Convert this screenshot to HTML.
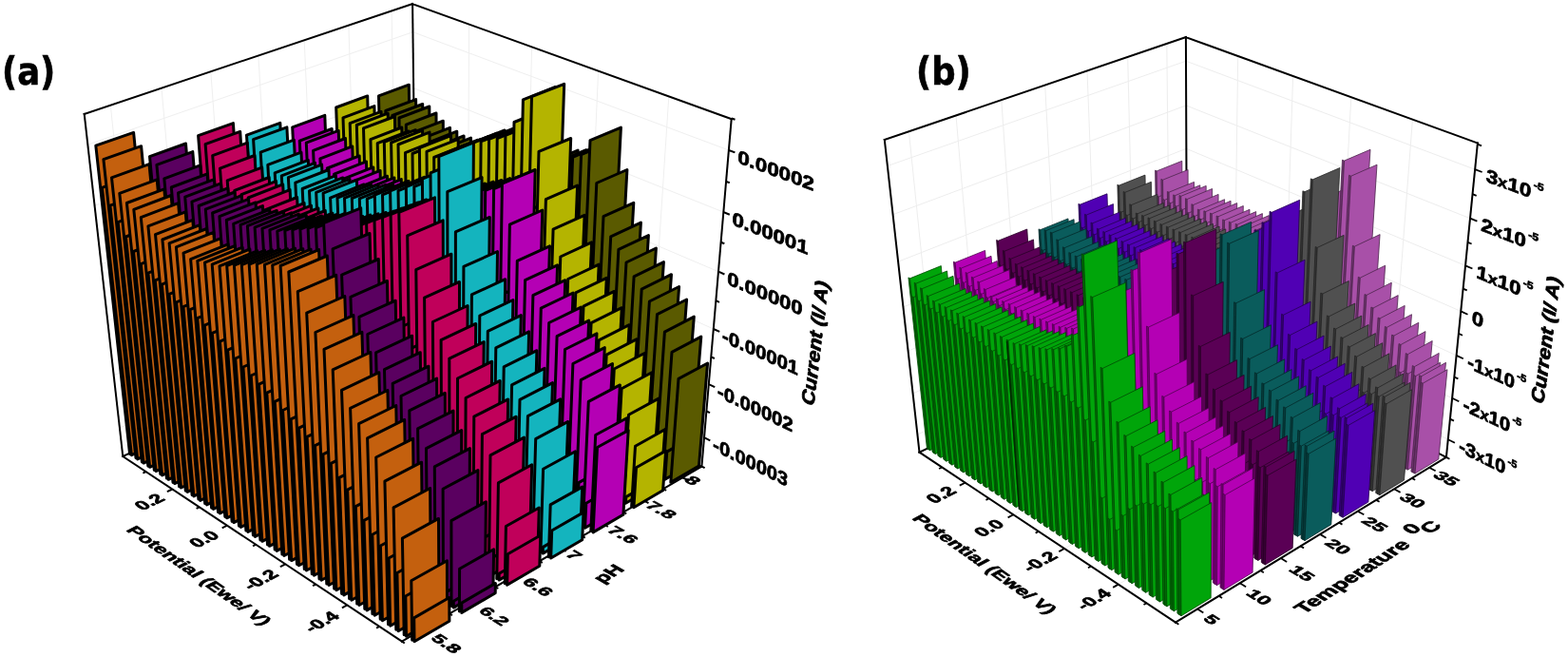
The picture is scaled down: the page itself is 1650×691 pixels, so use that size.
<!DOCTYPE html><html><head><meta charset="utf-8"><title>Figure</title>
<style>html,body{margin:0;padding:0;background:#fff}svg{display:block}text{font-family:"Liberation Sans",sans-serif;font-weight:bold}</style></head><body>
<svg width="1650" height="691" viewBox="0 0 1650 691">
<rect width="1650" height="691" fill="#fff"/>
<g stroke="#efefef" stroke-width="1" fill="none">
<line x1="126" y1="450.1" x2="437.8" y2="309.8"/>
<line x1="437.8" y1="309.8" x2="741" y2="460.2"/>
<line x1="119.7" y1="394.8" x2="437.2" y2="258.1"/>
<line x1="437.2" y1="258.1" x2="745.8" y2="404.2"/>
<line x1="113.2" y1="337.4" x2="436.5" y2="204.7"/>
<line x1="436.5" y1="204.7" x2="750.8" y2="346"/>
<line x1="106.5" y1="278" x2="435.9" y2="149.6"/>
<line x1="435.9" y1="149.6" x2="756" y2="285.7"/>
<line x1="99.5" y1="216.3" x2="435.2" y2="92.6"/>
<line x1="435.2" y1="92.6" x2="761.3" y2="223.1"/>
<line x1="92.3" y1="152.2" x2="434.5" y2="33.7"/>
<line x1="434.5" y1="33.7" x2="766.9" y2="158"/>
<line x1="491.9" y1="365.2" x2="493.6" y2="25.5"/>
<line x1="181.3" y1="514.5" x2="491.9" y2="365.2"/>
<line x1="551.4" y1="395.5" x2="559.6" y2="49.4"/>
<line x1="239" y1="552.7" x2="551.4" y2="395.5"/>
<line x1="614.1" y1="427.3" x2="629.6" y2="74.6"/>
<line x1="300.2" y1="593.3" x2="614.1" y2="427.3"/>
<line x1="680.2" y1="460.9" x2="703.8" y2="101.4"/>
<line x1="365.2" y1="636.4" x2="680.2" y2="460.9"/>
<line x1="153.7" y1="468.8" x2="116.3" y2="110.7"/>
<line x1="153.7" y1="468.8" x2="448.1" y2="659.8"/>
<line x1="201.4" y1="446.9" x2="170" y2="92.7"/>
<line x1="201.4" y1="446.9" x2="497.3" y2="631.2"/>
<line x1="247.5" y1="425.6" x2="221.8" y2="75.3"/>
<line x1="247.5" y1="425.6" x2="544.8" y2="603.5"/>
<line x1="292.2" y1="405" x2="271.9" y2="58.5"/>
<line x1="292.2" y1="405" x2="590.5" y2="576.9"/>
<line x1="335.5" y1="385.1" x2="320.2" y2="42.3"/>
<line x1="335.5" y1="385.1" x2="634.6" y2="551.1"/>
<line x1="377.5" y1="365.8" x2="366.9" y2="26.6"/>
<line x1="377.5" y1="365.8" x2="677.2" y2="526.3"/>
<line x1="418.2" y1="347" x2="412.1" y2="11.5"/>
<line x1="418.2" y1="347" x2="718.4" y2="502.3"/>
</g>
<g stroke="#000" stroke-width="2" stroke-linecap="square" fill="none">
<line x1="88.7" y1="119.9" x2="434.1" y2="4.1"/>
<line x1="434.1" y1="4.1" x2="769.7" y2="125.2"/>
<line x1="434.1" y1="4.1" x2="438.1" y2="337.8"/>
<line x1="88.7" y1="119.9" x2="129.3" y2="480"/>
<line x1="769.7" y1="125.2" x2="738.4" y2="490.6"/>
<line x1="129.3" y1="480" x2="422.9" y2="674.6"/>
<line x1="129.3" y1="480" x2="438.1" y2="337.8"/>
<line x1="438.1" y1="337.8" x2="738.4" y2="490.6"/>
<line x1="422.9" y1="674.6" x2="738.4" y2="490.6"/>
</g>
<g stroke="#000" stroke-width="2" fill="none">
<line x1="153.6" y1="496.1" x2="150.4" y2="497.6"/>
<line x1="181.3" y1="514.5" x2="175.9" y2="517.1"/>
<line x1="209.7" y1="533.3" x2="206.6" y2="534.9"/>
<line x1="239" y1="552.7" x2="233.7" y2="555.4"/>
<line x1="269.2" y1="572.7" x2="266.1" y2="574.3"/>
<line x1="300.2" y1="593.3" x2="294.9" y2="596.1"/>
<line x1="332.2" y1="614.5" x2="329.1" y2="616.2"/>
<line x1="365.2" y1="636.4" x2="359.9" y2="639.3"/>
<line x1="399.2" y1="658.9" x2="396.1" y2="660.6"/>
<line x1="741" y1="460.2" x2="747.3" y2="463.4"/>
<line x1="743.4" y1="432.5" x2="747" y2="434.2"/>
<line x1="745.8" y1="404.2" x2="752.2" y2="407.2"/>
<line x1="748.3" y1="375.4" x2="751.9" y2="377"/>
<line x1="750.8" y1="346" x2="757.2" y2="348.9"/>
<line x1="753.3" y1="316.2" x2="757" y2="317.8"/>
<line x1="756" y1="285.7" x2="762.4" y2="288.5"/>
<line x1="758.6" y1="254.7" x2="762.3" y2="256.2"/>
<line x1="761.3" y1="223.1" x2="767.8" y2="225.7"/>
<line x1="764.1" y1="190.9" x2="767.8" y2="192.3"/>
<line x1="766.9" y1="158" x2="773.4" y2="160.4"/>
<line x1="769.7" y1="124.5" x2="773.5" y2="125.8"/>
<line x1="422.9" y1="674.6" x2="425.8" y2="676.5"/>
<line x1="473" y1="645.4" x2="475.9" y2="647.2"/>
<line x1="521.3" y1="617.2" x2="524.3" y2="619"/>
<line x1="567.8" y1="590.1" x2="570.8" y2="591.8"/>
<line x1="612.7" y1="563.9" x2="615.8" y2="565.6"/>
<line x1="656.1" y1="538.6" x2="659.2" y2="540.3"/>
<line x1="698" y1="514.2" x2="701.1" y2="515.8"/>
<line x1="738.4" y1="490.6" x2="741.6" y2="492.2"/>
<line x1="448.1" y1="659.8" x2="453.2" y2="663.1"/>
<line x1="497.3" y1="631.2" x2="502.4" y2="634.3"/>
<line x1="544.8" y1="603.5" x2="549.9" y2="606.6"/>
<line x1="590.5" y1="576.9" x2="595.7" y2="579.8"/>
<line x1="634.6" y1="551.1" x2="639.8" y2="554"/>
<line x1="677.2" y1="526.3" x2="682.5" y2="529.1"/>
<line x1="718.4" y1="502.3" x2="723.7" y2="505"/>
</g>
<g fill="#5a5a00" stroke="#000" stroke-width="3.0" stroke-linejoin="round">
<path d="M404.2 354.2L433.7 340.6L430.3 89.2L398.5 100.9Z"/>
<path d="M406 355.2L435.5 341.5L433.6 192.6L402.7 205.1Z"/>
<path d="M410.8 357.6L440.3 343.9L437.6 104.6L405.8 116.5Z"/>
<path d="M412.6 358.5L442.1 344.8L440.6 207.4L409.8 220.1Z"/>
<path d="M417.4 360.9L446.9 347.2L444.7 109.5L412.9 121.5Z"/>
<path d="M419.2 361.8L448.7 348.1L447.6 212.4L416.8 225.2Z"/>
<path d="M424 364.3L453.5 350.5L451.8 112L420 124Z"/>
<path d="M425.9 365.2L455.4 351.4L454.5 215.1L423.7 228Z"/>
<path d="M430.7 367.7L460.2 353.8L459 119L427.3 131.2Z"/>
<path d="M432.5 368.6L462.1 354.7L461.5 222.2L430.7 235.1Z"/>
<path d="M437.4 371.1L466.9 357.1L466.3 127.2L434.5 139.4Z"/>
<path d="M439.3 372L468.8 358L468.5 230.2L437.8 243.3Z"/>
<path d="M444.1 374.5L473.7 360.4L473.5 134.3L441.8 146.6Z"/>
<path d="M446 375.5L475.6 361.4L475.6 237.3L444.8 250.5Z"/>
<path d="M450.9 377.9L480.5 363.8L480.8 138.2L449.1 150.7Z"/>
<path d="M452.8 378.9L482.4 364.8L482.6 241.4L451.9 254.7Z"/>
<path d="M457.8 381.4L487.4 367.2L488.1 142.9L456.4 155.4Z"/>
<path d="M459.7 382.4L489.3 368.2L489.8 246.2L459 259.6Z"/>
<path d="M464.6 384.9L494.2 370.6L495.5 145.1L463.8 157.7Z"/>
<path d="M466.6 385.9L496.2 371.6L496.9 248.7L466.2 262.1Z"/>
<path d="M471.6 388.4L501.2 374L502.9 147.2L471.2 159.9Z"/>
<path d="M473.5 389.4L503.1 375L504.1 251.1L473.4 264.6Z"/>
<path d="M478.5 391.9L508.1 377.5L510.4 149.4L478.6 162.2Z"/>
<path d="M480.5 392.9L510.1 378.5L511.4 253.6L480.6 267.1Z"/>
<path d="M485.5 395.5L515.1 381L517.9 151.6L486.2 164.4Z"/>
<path d="M487.5 396.5L517.1 381.9L518.7 256L487.9 269.7Z"/>
<path d="M492.5 399.1L522.2 384.4L525.5 153.8L493.7 166.7Z"/>
<path d="M494.5 400.1L524.2 385.4L526.1 258.5L495.2 272.3Z"/>
<path d="M499.6 402.7L529.3 388L533.1 156.1L501.3 169Z"/>
<path d="M501.6 403.7L531.3 388.9L533.5 261L502.6 274.9Z"/>
<path d="M507.1 406.4L536.7 391.6L541.1 158.5L509.3 171.5Z"/>
<path d="M509.1 407.5L538.7 392.6L541.2 263.7L510.4 277.6Z"/>
<path d="M514.5 410.2L544.2 395.4L549.2 160.8L517.4 173.9Z"/>
<path d="M516.5 411.3L546.2 396.3L549.1 266.4L518.2 280.4Z"/>
<path d="M522.1 414.1L551.7 399.1L557.4 160.5L525.5 173.6Z"/>
<path d="M524.1 415.1L553.7 400.1L557 266.5L526.1 280.5Z"/>
<path d="M529.6 417.9L559.3 402.8L565.7 160.1L533.8 173.3Z"/>
<path d="M531.7 418.9L561.3 403.8L565 266.6L534.1 280.7Z"/>
<path d="M537.3 421.8L566.9 406.6L574 159.7L542.1 172.9Z"/>
<path d="M539.3 422.8L569 407.6L573.1 266.6L542.2 280.8Z"/>
<path d="M544.9 425.7L574.6 410.4L582.4 159.3L550.5 172.6Z"/>
<path d="M547 426.7L576.7 411.4L581.3 266.7L550.3 280.9Z"/>
<path d="M552.7 429.6L582.3 414.2L590.9 158.9L558.9 172.3Z"/>
<path d="M554.7 430.6L584.4 415.3L589.5 266.8L558.5 281.1Z"/>
<path d="M560.4 433.5L590.1 418.1L599.5 158.5L567.4 171.9Z"/>
<path d="M562.5 434.6L592.2 419.1L597.8 266.9L566.7 281.2Z"/>
<path d="M568.2 437.5L597.9 422L608.1 158.1L576.1 171.6Z"/>
<path d="M570.3 438.6L600 423L606.2 267L575.1 281.4Z"/>
<path d="M576.1 441.5L605.8 425.9L616.9 157.7L584.8 171.2Z"/>
<path d="M578.2 442.6L607.9 426.9L614.6 267L583.5 281.5Z"/>
<path d="M584 445.5L613.7 429.8L625.8 154.8L593.6 168.3Z"/>
<path d="M586.2 446.6L615.9 430.8L623.3 264.8L592.1 279.3Z"/>
<path d="M592 449.6L621.7 433.7L634.8 151.8L602.6 165.4Z"/>
<path d="M594.1 450.6L623.8 434.8L632 262.5L600.7 277.1Z"/>
<path d="M600 453.6L629.7 437.7L643.9 148.8L611.6 162.5Z"/>
<path d="M602.2 454.7L631.9 438.8L640.8 260.2L609.5 274.8Z"/>
<path d="M607.9 457.6L637.5 441.6L653.4 134.1L621 147.6Z"/>
<path d="M610 458.7L639.7 442.7L650 246.8L618.5 261.4Z"/>
<path d="M615.7 461.6L645.4 445.5L659.9 178.5L627.8 192.5Z"/>
<path d="M617.9 462.7L647.6 446.6L656.3 288.9L625.2 303.9Z"/>
<path d="M623.7 465.6L653.4 449.4L666.8 213.3L635 227.7Z"/>
<path d="M625.9 466.7L655.6 450.5L663 322L632.1 337.3Z"/>
<path d="M631.6 469.7L661.3 453.4L674.4 234.1L642.7 248.8Z"/>
<path d="M633.9 470.8L663.5 454.5L670.3 342L639.6 357.5Z"/>
<path d="M639.7 473.8L669.4 457.3L682.4 247.6L650.9 262.4Z"/>
<path d="M641.9 474.9L671.6 458.4L678.1 355.1L647.5 370.8Z"/>
<path d="M647.8 477.9L677.4 461.3L690.4 261L659 276Z"/>
<path d="M650 479L679.7 462.5L685.9 368.1L655.4 384Z"/>
<path d="M655.9 482L685.6 465.4L698.4 275.6L667.1 290.8Z"/>
<path d="M658.2 483.1L687.8 466.5L693.6 382.2L663.2 398.3Z"/>
<path d="M664.1 486.1L693.8 469.4L706.5 288.7L675.2 304.1Z"/>
<path d="M666.4 487.3L696 470.5L701.4 395L671.1 411.2Z"/>
<path d="M672.3 490.3L702 473.5L714.6 301.5L683.4 317Z"/>
<path d="M674.6 491.5L704.3 474.6L709.2 407.4L679 423.8Z"/>
<path d="M680.6 494.5L710.3 477.6L722.6 315L691.5 330.7Z"/>
<path d="M682.9 495.7L712.6 478.7L717 420.5L686.9 437.1Z"/>
<path d="M689 498.8L718.6 481.7L730.3 333.1L699.4 349.1Z"/>
<path d="M691.3 500L720.9 482.9L724.5 438L694.5 454.7Z"/>
<path d="M697.4 503L727 485.9L737.8 354.1L707 370.3Z"/>
<path d="M699.7 504.2L729.3 487L731.7 458.1L701.8 475.1Z"/>
<path d="M705.8 507.3L735.5 490.1L744.6 382L714 398.4Z"/>
</g>
<g fill="#b4b400" stroke="#000" stroke-width="3.0" stroke-linejoin="round">
<path d="M363 373.2L393.4 359.2L386.7 100.9L353.7 113Z"/>
<path d="M364.8 374.2L395.2 360.1L391.3 205.7L359.3 218.6Z"/>
<path d="M369.5 376.7L400 362.6L393.9 111.6L361 123.8Z"/>
<path d="M371.4 377.6L401.8 363.5L398.3 216.1L366.4 229.2Z"/>
<path d="M376.1 380.1L406.5 366L401.1 117.4L368.2 129.6Z"/>
<path d="M378 381.1L408.4 366.9L405.3 221.9L373.4 235.1Z"/>
<path d="M382.7 383.6L413.2 369.4L408.2 119.2L375.3 131.5Z"/>
<path d="M384.6 384.6L415 370.3L412.2 224L380.3 237.3Z"/>
<path d="M389.4 387.2L419.9 372.8L415.4 122.5L382.5 134.9Z"/>
<path d="M391.3 388.1L421.7 373.8L419.2 227.5L387.3 240.8Z"/>
<path d="M396.1 390.7L426.6 376.3L422.8 134L389.9 146.6Z"/>
<path d="M398 391.7L428.5 377.3L426.4 238.8L394.5 252.2Z"/>
<path d="M402.8 394.3L433.3 379.8L430 138L397.2 150.7Z"/>
<path d="M404.7 395.3L435.2 380.7L433.4 243L401.6 256.5Z"/>
<path d="M409.6 397.8L440.1 383.3L437.3 136.7L404.3 149.4Z"/>
<path d="M411.5 398.8L442 384.2L440.5 242.2L408.6 255.8Z"/>
<path d="M416.4 401.4L447 386.8L444.6 137.2L411.6 150Z"/>
<path d="M418.3 402.4L448.9 387.8L447.6 243.1L415.6 256.7Z"/>
<path d="M423.3 405.1L453.8 390.3L452 139.1L419 152Z"/>
<path d="M425.2 406.1L455.7 391.3L454.8 245.3L422.8 259Z"/>
<path d="M430.2 408.7L460.7 393.9L459.5 147.6L426.5 160.6Z"/>
<path d="M432.1 409.7L462.7 394.9L462.1 253.7L430.1 267.5Z"/>
<path d="M437.1 412.4L467.7 397.5L467 148.5L434 161.5Z"/>
<path d="M439.1 413.4L469.6 398.5L469.3 254.9L437.4 268.8Z"/>
<path d="M444.1 416.1L474.7 401.1L474.5 142.5L441.4 155.5Z"/>
<path d="M446.1 417.1L476.7 402.1L476.7 249.7L444.6 263.6Z"/>
<path d="M451.2 419.8L481.7 404.7L482.2 146.3L449 159.4Z"/>
<path d="M453.1 420.8L483.7 405.7L484 253.7L452 267.7Z"/>
<path d="M458.2 423.5L488.8 408.3L489.8 152.3L456.7 165.5Z"/>
<path d="M460.2 424.6L490.8 409.4L491.5 259.8L459.4 273.9Z"/>
<path d="M465.7 427.4L496.3 412.2L497.9 149.3L464.7 162.6Z"/>
<path d="M467.6 428.5L498.2 413.2L499.3 257.5L467.2 271.6Z"/>
<path d="M473.1 431.4L503.7 416L506.1 146.3L472.8 159.6Z"/>
<path d="M475.1 432.4L505.7 417L507.2 255.1L475.1 269.3Z"/>
<path d="M480.6 435.4L511.3 419.9L514.3 143.3L481 156.6Z"/>
<path d="M482.7 436.4L513.3 420.9L515.3 252.7L483 266.9Z"/>
<path d="M488.2 439.4L518.8 423.8L522.7 140.2L489.3 153.5Z"/>
<path d="M490.2 440.4L520.9 424.8L523.3 250.3L491 264.6Z"/>
<path d="M495.8 443.4L526.5 427.7L531.1 137L497.6 150.4Z"/>
<path d="M497.9 444.5L528.5 428.8L531.5 247.8L499.1 262.1Z"/>
<path d="M503.5 447.4L534.1 431.7L539.6 135.4L506.1 148.8Z"/>
<path d="M505.6 448.5L536.2 432.7L539.8 246.8L507.3 261.1Z"/>
<path d="M511.2 451.5L541.9 435.7L548.2 133L514.6 146.4Z"/>
<path d="M513.3 452.6L543.9 436.7L548.1 245L515.6 259.4Z"/>
<path d="M519 455.6L549.6 439.7L556.9 132.1L523.2 145.6Z"/>
<path d="M521.1 456.7L551.7 440.7L556.5 244.6L523.9 259.1Z"/>
<path d="M526.8 459.7L557.5 443.7L565.7 128.9L531.9 142.4Z"/>
<path d="M528.9 460.8L559.6 444.8L565 242.1L532.3 256.6Z"/>
<path d="M534.7 463.9L565.3 447.7L574.8 115L541 128.5Z"/>
<path d="M536.8 465L567.5 448.8L573.9 229.7L541.1 244.2Z"/>
<path d="M542.6 468.1L573.3 451.8L584.5 91.4L550.4 104.8Z"/>
<path d="M544.7 469.2L575.4 452.9L583.2 208.1L550.2 222.5Z"/>
<path d="M550.6 472.3L581.2 455.9L593.7 88.3L559.5 101.6Z"/>
<path d="M552.7 473.4L583.4 457L592.1 205.7L559 220.1Z"/>
<path d="M558.6 476.5L589.3 460.1L600.7 145.5L567 159.4Z"/>
<path d="M560.7 477.7L591.4 461.2L598.9 259.7L566.3 274.6Z"/>
<path d="M566.4 480.7L597.1 464.1L607.6 195.1L574.4 209.6Z"/>
<path d="M568.6 481.8L599.3 465.2L605.6 306.6L573.4 322Z"/>
<path d="M574.3 484.8L605 468.2L615.1 226.3L582.1 241.1Z"/>
<path d="M576.5 486L607.2 469.3L612.8 336.2L580.9 352Z"/>
<path d="M582.3 489L612.9 472.3L622.6 254.8L589.8 270Z"/>
<path d="M584.4 490.2L615.1 473.4L620.1 363.5L588.3 379.5Z"/>
<path d="M590.2 493.2L620.9 476.4L630.2 278.1L597.7 293.5Z"/>
<path d="M592.5 494.4L623.1 477.5L627.5 385.7L596 402Z"/>
<path d="M598.3 497.5L629 480.5L638.3 292.3L605.8 307.8Z"/>
<path d="M600.5 498.7L631.2 481.7L635.3 399.5L603.9 415.9Z"/>
<path d="M606.4 501.8L637.1 484.7L646.4 306.4L614 322.2Z"/>
<path d="M608.6 503L639.3 485.8L643.2 413.2L611.8 429.8Z"/>
<path d="M614.5 506.1L645.2 488.9L654.3 323.7L622.1 339.7Z"/>
<path d="M616.8 507.3L647.5 490L650.8 429.9L619.6 446.7Z"/>
<path d="M622.7 510.4L653.4 493.1L662.2 341.7L630.1 357.9Z"/>
<path d="M625 511.6L655.7 494.3L658.4 447.2L627.3 464.2Z"/>
<path d="M631 514.8L661.7 497.3L670.2 356.7L638.2 373.1Z"/>
<path d="M633.3 516L664 498.5L666.2 461.8L635.2 479Z"/>
<path d="M639.3 519.2L670 501.6L678.2 371.5L646.3 388Z"/>
<path d="M641.6 520.4L672.3 502.8L674 476L643.1 493.4Z"/>
<path d="M647.7 523.6L678.4 505.9L685.9 391.8L654.1 408.7Z"/>
<path d="M650 524.8L680.7 507.1L681.4 495.6L650.6 513.2Z"/>
<path d="M656.1 528L686.8 510.3L693.1 419.1L661.5 436.3Z"/>
<path d="M658.4 529.3L689.1 511.5L689.6 504.9L658.8 522.6Z"/>
<path d="M664.6 532.5L695.2 514.6L699.8 451.7L668.5 469.2Z"/>
<path d="M666.9 533.8L697.6 515.8L700.6 474.1L669.5 491.7Z"/>
</g>
<g fill="#b400b4" stroke="#000" stroke-width="3.0" stroke-linejoin="round">
<path d="M320.5 392.8L351.9 378.3L341.8 121.3L307.7 133.8Z"/>
<path d="M322.3 393.8L353.7 379.3L347.8 227L314.8 240.4Z"/>
<path d="M327 396.4L358.4 381.8L349.2 135.5L315.3 148.1Z"/>
<path d="M328.9 397.4L360.2 382.8L355 240.7L322.2 254.2Z"/>
<path d="M333.6 400L365 385.4L356.2 137.4L322.3 150.1Z"/>
<path d="M335.4 401L366.8 386.4L361.8 243L329 256.5Z"/>
<path d="M340.2 403.6L371.6 388.9L363.5 145.5L329.6 158.3Z"/>
<path d="M342 404.6L373.4 389.9L368.9 251L336.1 264.7Z"/>
<path d="M346.8 407.3L378.2 392.5L370.8 153.9L336.9 166.9Z"/>
<path d="M348.7 408.3L380.1 393.5L376 259.3L343.2 273.2Z"/>
<path d="M353.5 410.9L384.9 396.1L378.2 163.9L344.3 177Z"/>
<path d="M355.4 412L386.8 397.1L383.2 269.1L350.4 283.1Z"/>
<path d="M360.2 414.6L391.7 399.7L385.5 169.9L351.6 183.1Z"/>
<path d="M362.1 415.7L393.6 400.7L390.3 275.1L357.5 289.2Z"/>
<path d="M367 418.4L398.5 403.3L392.8 175.9L359 189.2Z"/>
<path d="M368.9 419.4L400.3 404.3L397.4 281.2L364.6 295.4Z"/>
<path d="M373.8 422.1L405.3 407L400.1 179.4L366.3 192.8Z"/>
<path d="M375.7 423.1L407.2 408L404.5 285L371.7 299.3Z"/>
<path d="M380.6 425.9L412.1 410.7L407.5 185.2L373.7 198.7Z"/>
<path d="M382.5 426.9L414 411.7L411.6 290.8L378.9 305.2Z"/>
<path d="M387.5 429.7L419 414.3L414.9 186.9L381 200.5Z"/>
<path d="M389.4 430.7L421 415.4L418.8 292.9L386 307.3Z"/>
<path d="M394.4 433.5L426 418.1L422.3 188.6L388.4 202.3Z"/>
<path d="M396.4 434.5L427.9 419.1L426 294.9L393.2 309.5Z"/>
<path d="M401.4 437.3L433 421.8L429.7 190.4L395.8 204.1Z"/>
<path d="M403.3 438.4L434.9 422.9L433.2 297L400.4 311.6Z"/>
<path d="M408.4 441.2L440 425.6L437.3 192.2L403.3 206Z"/>
<path d="M410.4 442.2L441.9 426.6L440.5 299.1L407.6 313.8Z"/>
<path d="M415.5 445.1L447.1 429.4L444.8 194L410.8 207.8Z"/>
<path d="M417.4 446.1L449 430.4L447.9 301.3L415 316Z"/>
<path d="M422.9 449.1L454.5 433.4L452.8 195.9L418.7 209.8Z"/>
<path d="M424.9 450.2L456.5 434.4L455.6 303.6L422.7 318.4Z"/>
<path d="M430.3 453.2L462 437.4L460.8 197.9L426.7 211.9Z"/>
<path d="M432.3 454.3L464 438.4L463.4 305.9L430.4 320.8Z"/>
<path d="M437.9 457.4L469.5 441.4L468.9 197L434.8 211.1Z"/>
<path d="M439.9 458.5L471.5 442.5L471.3 305.6L438.2 320.6Z"/>
<path d="M445.4 461.5L477 445.4L477.1 196.2L442.9 210.4Z"/>
<path d="M447.4 462.6L479.1 446.5L479.2 305.3L446.1 320.4Z"/>
<path d="M453 465.7L484.7 449.5L485.3 195.4L451.1 209.6Z"/>
<path d="M455 466.8L486.7 450.6L487.2 305L454 320.1Z"/>
<path d="M460.7 469.9L492.3 453.6L493.7 194.6L459.3 208.8Z"/>
<path d="M462.7 471.1L494.4 454.7L495.2 304.7L462 319.9Z"/>
<path d="M468.4 474.2L500.1 457.8L502.1 193.7L467.7 208.1Z"/>
<path d="M470.4 475.3L502.1 458.9L503.4 304.4L470.1 319.7Z"/>
<path d="M476.1 478.4L507.8 461.9L510.5 192.9L476.1 207.3Z"/>
<path d="M478.2 479.6L509.9 463.1L511.6 304.1L478.3 319.5Z"/>
<path d="M483.9 482.7L515.6 466.1L519.1 191.1L484.6 205.6Z"/>
<path d="M486 483.9L517.7 467.3L519.9 303L486.5 318.4Z"/>
<path d="M491.8 487.1L523.5 470.4L527.8 189.4L493.2 203.9Z"/>
<path d="M493.9 488.2L525.6 471.5L528.3 301.8L494.9 317.3Z"/>
<path d="M499.7 491.4L531.4 474.6L536.6 187.6L501.9 202.1Z"/>
<path d="M501.8 492.6L533.6 475.7L536.8 300.7L503.3 316.2Z"/>
<path d="M507.7 495.8L539.4 478.9L545.4 185.8L510.7 200.4Z"/>
<path d="M509.8 497L541.6 480L545.4 299.5L511.8 315.1Z"/>
<path d="M515.7 500.2L547.5 483.2L554.4 184L519.6 198.6Z"/>
<path d="M517.9 501.4L549.6 484.3L554 298.3L520.4 314Z"/>
<path d="M523.6 504.5L555.3 487.4L563.2 178.5L528.4 193.1Z"/>
<path d="M525.7 505.7L557.5 488.6L562.6 293.7L528.9 309.4Z"/>
<path d="M531.4 508.9L563.2 491.6L570.8 221L536.4 236.2Z"/>
<path d="M533.6 510.1L565.4 492.8L570 334L536.6 350.1Z"/>
<path d="M539.4 513.2L571.1 495.9L578.5 258.8L544.3 274.3Z"/>
<path d="M541.6 514.5L573.3 497.1L577.4 369.8L544.3 386.3Z"/>
<path d="M547.4 517.6L579.1 500.2L586.6 278.8L552.6 294.6Z"/>
<path d="M549.6 518.9L581.3 501.4L585.2 389.1L552.3 405.8Z"/>
<path d="M555.4 522.1L587.2 504.5L594.8 294.7L560.9 310.7Z"/>
<path d="M557.6 523.3L589.4 505.7L593.2 404.4L560.4 421.3Z"/>
<path d="M563.5 526.5L595.3 508.8L603.1 308L569.3 324.1Z"/>
<path d="M565.8 527.8L597.5 510L601.2 417.3L568.5 434.4Z"/>
<path d="M571.7 531L603.5 513.2L611.4 323.1L577.7 339.5Z"/>
<path d="M573.9 532.3L605.7 514.4L609.2 431.9L576.6 449.2Z"/>
<path d="M579.9 535.5L611.7 517.6L619.7 337.1L586.1 353.7Z"/>
<path d="M582.1 536.8L613.9 518.8L617.2 445.5L584.7 463Z"/>
<path d="M588.2 540.1L619.9 522L628 350.8L594.5 367.5Z"/>
<path d="M590.4 541.3L622.2 523.3L625.3 458.8L592.9 476.5Z"/>
<path d="M596.5 544.7L628.3 526.5L636.3 365.6L602.9 382.5Z"/>
<path d="M598.8 545.9L630.5 527.7L633.3 473.1L601 491Z"/>
<path d="M604.9 549.3L636.6 531L644.5 382.5L611.2 399.7Z"/>
<path d="M607.2 550.6L638.9 532.2L641.2 489.5L609 507.6Z"/>
<path d="M613.3 553.9L645.1 535.5L652.4 404.9L619.3 422.4Z"/>
<path d="M615.6 555.2L647.4 536.8L648.9 511L616.8 529.2Z"/>
<path d="M621.8 558.6L653.6 540.1L659.5 439.7L626.7 457.5Z"/>
<path d="M624.1 559.9L655.9 541.3L661.2 452.6L628.5 470.5Z"/>
</g>
<g fill="#14b4be" stroke="#000" stroke-width="3.0" stroke-linejoin="round">
<path d="M276.7 413L309 398.1L294.8 129.3L259.5 142.1Z"/>
<path d="M278.5 414L310.8 399.1L302.3 236.7L268.2 250.4Z"/>
<path d="M283.2 416.7L315.5 401.7L301.9 133.8L266.6 146.7Z"/>
<path d="M285 417.7L317.4 402.7L309.2 241.4L275.1 255.2Z"/>
<path d="M289.7 420.5L322.1 405.4L309.4 147.2L274.2 160.2Z"/>
<path d="M291.5 421.5L323.9 406.4L316.5 254.4L282.5 268.4Z"/>
<path d="M296.3 424.2L328.7 409.1L317 160.2L281.8 173.4Z"/>
<path d="M298.1 425.3L330.5 410.1L323.9 267L289.9 281.2Z"/>
<path d="M302.9 428L335.3 412.8L324.3 168.4L289.2 181.8Z"/>
<path d="M304.7 429.1L337.2 413.8L331 275.2L297.1 289.5Z"/>
<path d="M309.6 431.8L342 416.5L331.5 171.3L296.3 184.8Z"/>
<path d="M311.4 432.9L343.8 417.5L338 278.4L304 292.7Z"/>
<path d="M316.2 435.7L348.7 420.2L338.6 173.1L303.4 186.6Z"/>
<path d="M318.1 436.7L350.6 421.3L344.9 280.5L310.9 294.9Z"/>
<path d="M323 439.5L355.5 424L346 178.5L310.8 192.2Z"/>
<path d="M324.8 440.6L357.3 425.1L352 286L318 300.6Z"/>
<path d="M329.7 443.4L362.3 427.8L353.4 184.7L318.2 198.5Z"/>
<path d="M331.6 444.5L364.1 428.9L359.2 292.3L325.2 307Z"/>
<path d="M336.6 447.4L369.1 431.6L360.7 186.9L325.5 200.8Z"/>
<path d="M338.5 448.4L371 432.7L366.3 294.8L332.3 309.6Z"/>
<path d="M343.4 451.3L376 435.5L368 188.4L332.7 202.3Z"/>
<path d="M345.3 452.4L377.9 436.6L373.5 296.7L339.4 311.5Z"/>
<path d="M350.3 455.3L382.9 439.4L375.4 189.2L340.1 203.1Z"/>
<path d="M352.2 456.4L384.8 440.4L380.6 297.8L346.5 312.7Z"/>
<path d="M357.3 459.2L389.9 443.2L382.9 194L347.6 208.1Z"/>
<path d="M359.2 460.4L391.8 444.3L387.9 302.8L353.8 317.8Z"/>
<path d="M364.3 463.3L396.9 447.2L390.4 194L355 208.2Z"/>
<path d="M366.2 464.4L398.8 448.2L395.2 303.3L361 318.4Z"/>
<path d="M371.3 467.3L403.9 451.1L397.9 194.1L362.5 208.3Z"/>
<path d="M373.3 468.4L405.9 452.2L402.5 303.8L368.3 319Z"/>
<path d="M378.7 471.5L411.3 455.2L405.8 194.3L370.3 208.5Z"/>
<path d="M380.7 472.7L413.3 456.3L410.2 304.5L375.9 319.7Z"/>
<path d="M386.1 475.8L418.8 459.4L413.8 194.5L378.3 208.8Z"/>
<path d="M388.1 477L420.8 460.5L418 305.2L383.6 320.5Z"/>
<path d="M393.6 480.1L426.3 463.6L421.9 194.6L386.3 209.1Z"/>
<path d="M395.6 481.3L428.3 464.7L425.8 305.8L391.4 321.2Z"/>
<path d="M401.2 484.4L433.9 467.8L430 190.6L394.3 205.1Z"/>
<path d="M403.2 485.6L435.9 468.9L433.7 302.6L399.2 318Z"/>
<path d="M408.7 488.8L441.5 472.1L438.2 190.4L402.5 204.9Z"/>
<path d="M410.8 490L443.5 473.2L441.7 302.9L407.1 318.4Z"/>
<path d="M416.4 493.2L449.1 476.4L446.5 186.3L410.6 200.9Z"/>
<path d="M418.4 494.4L451.2 477.5L449.7 299.6L415 315.1Z"/>
<path d="M424.1 497.6L456.8 480.7L454.9 186.1L419 200.7Z"/>
<path d="M426.1 498.8L458.9 481.8L457.8 299.9L423.1 315.5Z"/>
<path d="M431.8 502.1L464.6 485L463.4 181.9L427.3 196.6Z"/>
<path d="M433.9 503.2L466.7 486.1L466 296.6L431.2 312.2Z"/>
<path d="M439.6 506.5L472.4 489.4L472 181.7L435.8 196.4Z"/>
<path d="M441.7 507.7L474.5 490.5L474.3 296.8L439.5 312.6Z"/>
<path d="M447.5 511L480.3 493.8L480.6 173.5L444.4 188.2Z"/>
<path d="M449.6 512.2L482.4 494.9L482.7 289.7L447.7 305.5Z"/>
<path d="M455.4 515.6L488.2 498.2L489.4 167.2L453 181.9Z"/>
<path d="M457.5 516.8L490.3 499.4L491.3 284.4L456.1 300.2Z"/>
<path d="M463.3 520.2L496.2 502.6L498.4 149.8L461.8 164.5Z"/>
<path d="M465.4 521.4L498.3 503.8L499.9 268.8L464.6 284.5Z"/>
<path d="M471.3 524.8L504.2 507.1L507.1 186.6L470.8 201.7Z"/>
<path d="M473.5 526L506.3 508.3L508.3 303.6L473.3 319.8Z"/>
<path d="M479.2 529.3L512 511.5L515.3 228.4L479.4 243.9Z"/>
<path d="M481.3 530.5L514.2 512.7L516.3 343.1L481.6 359.7Z"/>
<path d="M487 533.8L519.9 515.9L523.5 264.5L487.9 280.4Z"/>
<path d="M489.2 535L522.1 517.1L524.2 377.4L489.8 394.2Z"/>
<path d="M495 538.3L527.9 520.4L531.7 293.7L496.4 309.9Z"/>
<path d="M497.2 539.6L530 521.6L532.1 405.2L498 422.3Z"/>
<path d="M503 542.9L535.9 524.8L539.9 315.5L504.8 332Z"/>
<path d="M505.2 544.2L538.1 526L540.1 426.1L506.1 443.5Z"/>
<path d="M511 547.5L543.9 529.3L548.3 331.6L513.3 348.3Z"/>
<path d="M513.2 548.8L546.1 530.6L548.2 441.6L514.3 459.3Z"/>
<path d="M519.1 552.2L552 533.8L556.6 348.8L521.8 365.8Z"/>
<path d="M521.3 553.5L554.2 535.1L556.2 458.2L522.5 476.1Z"/>
<path d="M527.3 556.9L560.2 538.4L564.9 368.7L530.2 385.9Z"/>
<path d="M529.5 558.2L562.4 539.7L564.2 477.3L530.6 495.3Z"/>
<path d="M535.5 561.6L568.4 543L573.1 387.3L538.6 404.8Z"/>
<path d="M537.7 562.9L570.7 544.3L572.2 495.2L538.7 513.5Z"/>
<path d="M543.7 566.3L576.7 547.6L581.5 402.6L547 420.3Z"/>
<path d="M546 567.6L578.9 548.9L580.3 510.1L546.9 528.5Z"/>
<path d="M552.1 571.1L585 552.3L589.8 419.8L555.4 437.7Z"/>
<path d="M554.4 572.4L587.3 553.6L588.3 526.6L555.1 545.3Z"/>
<path d="M560.5 575.9L593.4 557L597.8 443.4L563.7 461.6Z"/>
<path d="M562.8 577.3L595.7 558.3L596.1 549.2L563 568.1Z"/>
<path d="M568.9 580.8L601.8 561.7L605.5 474.8L571.6 493.3Z"/>
<path d="M571.2 582.1L604.2 563L604.4 556.3L571.4 575.4Z"/>
<path d="M577.4 585.7L610.3 566.4L612.8 512.1L579.2 530.9Z"/>
<path d="M579.7 587L612.7 567.8L614 538.9L580.7 558Z"/>
</g>
<g fill="#c0005a" stroke="#000" stroke-width="3.0" stroke-linejoin="round">
<path d="M231.5 433.8L264.9 418.4L245.4 129.6L208.6 142.7Z"/>
<path d="M233.3 434.9L266.7 419.5L254.6 239.4L219.1 253.4Z"/>
<path d="M238 437.7L271.3 422.2L252.7 138.4L216.1 151.7Z"/>
<path d="M239.7 438.8L273.1 423.3L261.8 248.1L226.3 262.3Z"/>
<path d="M244.4 441.6L277.9 426L260.3 150.2L223.7 163.6Z"/>
<path d="M246.2 442.7L279.7 427.1L269.1 259.6L233.8 273.9Z"/>
<path d="M251 445.5L284.4 429.8L268 163.5L231.5 177.1Z"/>
<path d="M252.8 446.6L286.2 430.9L276.6 272.5L241.3 287Z"/>
<path d="M257.6 449.4L291 433.7L275.7 176.1L239.2 189.8Z"/>
<path d="M259.4 450.5L292.9 434.8L284 284.8L248.8 299.4Z"/>
<path d="M264.2 453.4L297.7 437.6L283.2 186.5L246.8 200.4Z"/>
<path d="M266 454.5L299.5 438.6L291.3 295L256.2 309.8Z"/>
<path d="M270.8 457.4L304.3 441.5L290.5 190.6L254 204.6Z"/>
<path d="M272.7 458.5L306.2 442.5L298.4 299.3L263.2 314.2Z"/>
<path d="M277.5 461.4L311.1 445.4L297.7 193.9L261.2 208Z"/>
<path d="M279.4 462.5L312.9 446.5L305.4 302.9L270.2 317.9Z"/>
<path d="M284.3 465.5L317.8 449.3L305.1 199.6L268.6 213.8Z"/>
<path d="M286.1 466.6L319.7 450.4L312.6 308.7L277.3 323.8Z"/>
<path d="M291 469.5L324.7 453.3L312.6 207.5L276.2 221.8Z"/>
<path d="M292.9 470.7L326.5 454.4L319.9 316.5L284.7 331.8Z"/>
<path d="M297.9 473.6L331.5 457.3L320.1 213.6L283.6 228Z"/>
<path d="M299.8 474.8L333.4 458.4L327.1 322.7L291.9 338.1Z"/>
<path d="M304.7 477.8L338.4 461.3L327.5 216.2L291 230.8Z"/>
<path d="M306.7 478.9L340.3 462.4L334.3 325.7L299 341.1Z"/>
<path d="M311.7 481.9L345.3 465.4L334.9 218.9L298.3 233.5Z"/>
<path d="M313.6 483.1L347.3 466.5L341.5 328.6L306.2 344.2Z"/>
<path d="M318.6 486.1L352.3 469.5L342.3 221.5L305.8 236.3Z"/>
<path d="M320.6 487.3L354.3 470.6L348.8 331.6L313.4 347.3Z"/>
<path d="M325.6 490.3L359.4 473.6L349.9 224.2L313.3 239.1Z"/>
<path d="M327.6 491.5L361.3 474.7L356.1 334.6L320.7 350.4Z"/>
<path d="M333 494.7L366.7 477.9L357.8 227.1L321.1 242Z"/>
<path d="M334.9 495.9L368.7 479L363.8 337.8L328.4 353.7Z"/>
<path d="M340.4 499.2L374.2 482.2L365.8 230L329.1 245Z"/>
<path d="M342.4 500.4L376.1 483.4L371.5 341L336.1 357Z"/>
<path d="M347.9 503.6L381.7 486.6L373.7 228.7L336.9 243.8Z"/>
<path d="M349.8 504.8L383.6 487.7L379.2 340.3L343.7 356.4Z"/>
<path d="M355.4 508.2L389.2 491L381.7 227.4L344.8 242.6Z"/>
<path d="M357.4 509.4L391.2 492.1L386.9 339.7L351.4 355.8Z"/>
<path d="M362.9 512.7L396.8 495.4L389.7 226.1L352.8 241.3Z"/>
<path d="M364.9 513.9L398.8 496.6L394.8 339L359.1 355.2Z"/>
<path d="M370.5 517.3L404.4 499.8L397.9 224.8L360.9 240.1Z"/>
<path d="M372.6 518.5L406.4 501L402.7 338.3L367 354.5Z"/>
<path d="M378.2 521.9L412.1 504.3L406.2 223.5L369 238.8Z"/>
<path d="M380.3 523.1L414.1 505.5L410.7 337.6L374.9 353.9Z"/>
<path d="M385.9 526.5L419.8 508.8L414.5 222.1L377.3 237.5Z"/>
<path d="M388 527.7L421.9 510L418.8 336.9L382.9 353.3Z"/>
<path d="M393.7 531.2L427.6 513.4L422.9 219.1L385.6 234.6Z"/>
<path d="M395.8 532.4L429.7 514.6L426.9 334.6L390.9 351.1Z"/>
<path d="M401.5 535.9L435.5 518L431.4 216.1L394 231.6Z"/>
<path d="M403.6 537.1L437.6 519.2L435.2 332.3L399.1 348.9Z"/>
<path d="M409.4 540.6L443.4 522.6L440 213L402.5 228.6Z"/>
<path d="M411.5 541.9L445.5 523.8L443.5 330L407.3 346.6Z"/>
<path d="M417.4 545.4L451.4 527.2L448.7 209.9L411.1 225.5Z"/>
<path d="M419.5 546.6L453.5 528.5L451.9 327.7L415.6 344.4Z"/>
<path d="M425.4 550.2L459.4 531.9L457.5 207.8L419.8 223.4Z"/>
<path d="M427.5 551.4L461.5 533.1L460.5 326.3L424.1 343Z"/>
<path d="M433.2 554.9L467.2 536.5L466.2 231.8L428.7 247.8Z"/>
<path d="M435.3 556.1L469.3 537.7L468.9 349.2L432.7 366.3Z"/>
<path d="M441 559.6L475.1 541.1L474.9 267.2L437.8 283.6Z"/>
<path d="M443.2 560.9L477.2 542.3L477.3 382.8L441.4 400.2Z"/>
<path d="M449 564.3L483 545.7L483.5 296.4L446.6 313.1Z"/>
<path d="M451.1 565.6L485.2 547L485.6 410.6L450 428.3Z"/>
<path d="M456.9 569.1L491 550.4L492.1 321.5L455.4 338.5Z"/>
<path d="M459.1 570.4L493.2 551.6L493.8 434.5L458.4 452.5Z"/>
<path d="M465 573.9L499.1 555.1L500.7 340.4L464.1 357.6Z"/>
<path d="M467.2 575.3L501.3 556.3L502.1 452.6L466.8 470.8Z"/>
<path d="M473.1 578.8L507.2 559.8L509.2 359.6L472.8 377.1Z"/>
<path d="M475.3 580.1L509.4 561.1L510.4 471.1L475.2 489.5Z"/>
<path d="M481.2 583.7L515.3 564.5L517.7 380.2L481.5 398Z"/>
<path d="M483.4 585L517.6 565.8L518.6 490.9L483.6 509.6Z"/>
<path d="M489.4 588.6L523.5 569.3L526.2 400.4L490.1 418.5Z"/>
<path d="M491.7 590L525.8 570.6L526.8 510.3L492 529.2Z"/>
<path d="M497.7 593.6L531.8 574.2L534.7 419.9L498.8 438.2Z"/>
<path d="M499.9 594.9L534.1 575.5L535 529L500.3 548.1Z"/>
<path d="M506 598.6L540.1 579L543.2 438.2L507.4 456.7Z"/>
<path d="M508.3 599.9L542.4 580.4L543.2 546.6L508.6 565.9Z"/>
<path d="M514.4 603.6L548.5 583.9L551.5 460.1L516 478.9Z"/>
<path d="M516.7 605L550.8 585.3L551.3 567.6L516.9 587.2Z"/>
<path d="M522.8 608.7L557 588.8L559.7 488.8L524.4 507.9Z"/>
<path d="M525.1 610.1L559.3 590.2L559.5 583.4L525.2 603.2Z"/>
<path d="M531.3 613.8L565.5 593.8L567.3 534L532.4 553.5Z"/>
<path d="M533.6 615.2L567.8 595.2L568.8 563L534.3 582.7Z"/>
</g>
<g fill="#5a0060" stroke="#000" stroke-width="3.0" stroke-linejoin="round">
<path d="M184.8 455.3L219.3 439.4L195.5 151L157.5 164.6Z"/>
<path d="M186.6 456.4L221 440.5L206.4 261.8L169.7 276.4Z"/>
<path d="M191.2 459.3L225.7 443.4L202.8 159.6L164.9 173.3Z"/>
<path d="M193 460.4L227.5 444.5L213.6 270.3L176.9 285Z"/>
<path d="M197.7 463.4L232.2 447.3L210.7 173.9L172.8 187.8Z"/>
<path d="M199.5 464.5L234 448.4L221.2 284.2L184.6 299.1Z"/>
<path d="M204.2 467.5L238.7 451.3L218.1 182.9L180.3 197Z"/>
<path d="M206 468.6L240.5 452.4L228.4 293.1L191.9 308.2Z"/>
<path d="M210.7 471.6L245.3 455.3L225.4 188.6L187.5 202.8Z"/>
<path d="M212.5 472.7L247.1 456.4L235.4 298.9L198.9 314.1Z"/>
<path d="M217.3 475.7L251.9 459.3L232.5 192.8L194.7 207.1Z"/>
<path d="M219.1 476.8L253.7 460.4L242.4 303.3L205.9 318.6Z"/>
<path d="M223.9 479.9L258.5 463.4L239.8 197.8L201.9 212.2Z"/>
<path d="M225.7 481L260.4 464.5L249.5 308.5L212.9 323.9Z"/>
<path d="M230.6 484L265.2 467.5L247 202L209.1 216.5Z"/>
<path d="M232.4 485.2L267.1 468.6L256.5 313L219.9 328.4Z"/>
<path d="M237.3 488.3L272 471.6L254.3 205.6L216.3 220.2Z"/>
<path d="M239.1 489.4L273.8 472.7L263.6 316.8L226.9 332.4Z"/>
<path d="M244 492.5L278.7 475.7L261.6 209.3L223.6 224Z"/>
<path d="M245.9 493.7L280.6 476.8L270.7 320.7L234 336.4Z"/>
<path d="M250.8 496.8L285.5 479.9L269 212.9L230.9 227.7Z"/>
<path d="M252.7 497.9L287.4 481L277.8 324.7L241.1 340.4Z"/>
<path d="M257.6 501L292.4 484.1L276.4 216.6L238.3 231.5Z"/>
<path d="M259.5 502.2L294.3 485.2L285 328.6L248.3 344.5Z"/>
<path d="M264.5 505.4L299.3 488.3L283.8 220.3L245.7 235.3Z"/>
<path d="M266.4 506.6L301.2 489.4L292.3 332.6L255.5 348.6Z"/>
<path d="M271.4 509.7L306.3 492.5L291.2 221.4L253 236.5Z"/>
<path d="M273.3 510.9L308.2 493.7L299.4 334.1L262.6 350.2Z"/>
<path d="M278.4 514.1L313.3 496.8L298.6 222.5L260.4 237.7Z"/>
<path d="M280.3 515.3L315.2 498L306.6 335.6L269.8 351.8Z"/>
<path d="M285.7 518.7L320.6 501.3L306.5 223.8L268.1 239.1Z"/>
<path d="M287.7 519.9L322.6 502.4L314.2 337.4L277.3 353.6Z"/>
<path d="M293.1 523.3L328 505.8L314.3 225.1L276 240.4Z"/>
<path d="M295 524.6L330 507L321.9 339.1L284.9 355.5Z"/>
<path d="M300.5 528L335.5 510.3L322.3 226.4L283.9 241.8Z"/>
<path d="M302.5 529.2L337.5 511.5L329.6 340.9L292.6 357.3Z"/>
<path d="M308 532.7L343 514.9L330.4 227.7L291.8 243.2Z"/>
<path d="M310 533.9L345 516.1L337.5 342.6L300.3 359.2Z"/>
<path d="M315.5 537.4L350.5 519.5L338.4 226.9L299.8 242.5Z"/>
<path d="M317.5 538.7L352.5 520.7L345.2 342.5L308 359.1Z"/>
<path d="M323.1 542.2L358.1 524.1L346.5 226.1L307.8 241.8Z"/>
<path d="M325.1 543.5L360.2 525.4L353.1 342.3L315.8 359Z"/>
<path d="M330.7 547L365.8 528.8L354.7 225.3L315.9 241Z"/>
<path d="M332.8 548.3L367.8 530.1L361.1 342.1L323.7 358.9Z"/>
<path d="M338.4 551.8L373.5 533.5L363 224.5L324.1 240.3Z"/>
<path d="M340.5 553.1L375.6 534.8L369.1 341.9L331.6 358.8Z"/>
<path d="M346.2 556.7L381.3 538.3L371.4 223.7L332.4 239.6Z"/>
<path d="M348.2 558L383.4 539.5L377.2 341.7L339.7 358.7Z"/>
<path d="M354 561.6L389.1 543L379.7 218.8L340.6 234.7Z"/>
<path d="M356 562.9L391.2 544.3L385.3 337.8L347.6 354.8Z"/>
<path d="M361.8 566.5L397 547.9L389 245.5L350.1 261.8Z"/>
<path d="M363.9 567.8L399.1 549.1L394.3 363.3L356.8 380.6Z"/>
<path d="M369.7 571.5L404.9 552.7L398.3 272.5L359.6 289.1Z"/>
<path d="M371.8 572.8L407 554L403.2 389L366 406.7Z"/>
<path d="M377.7 576.5L412.9 557.6L407.4 295.4L368.9 312.3Z"/>
<path d="M379.8 577.8L415.1 558.9L412 410.9L375 428.8Z"/>
<path d="M385.5 581.4L420.7 562.3L416.2 316.2L377.9 333.3Z"/>
<path d="M387.6 582.7L422.9 563.6L420.5 430.8L383.6 449Z"/>
<path d="M393.3 586.3L428.6 567.1L424.9 334.1L386.8 351.5Z"/>
<path d="M395.5 587.7L430.8 568.4L428.9 448.1L392.2 466.5Z"/>
<path d="M401.2 591.3L436.5 572L433.6 353.2L395.6 370.9Z"/>
<path d="M403.4 592.7L438.7 573.3L437.3 466.5L400.7 485.1Z"/>
<path d="M409.2 596.3L444.5 576.8L442.3 370.7L404.5 388.6Z"/>
<path d="M411.4 597.7L446.7 578.2L445.7 483.4L409.3 502.2Z"/>
<path d="M417.2 601.3L452.5 581.7L451 385.2L413.2 403.3Z"/>
<path d="M419.4 602.7L454.7 583.1L454.1 497.4L417.7 516.4Z"/>
<path d="M425.3 606.4L460.6 586.7L459.6 398.1L422 416.5Z"/>
<path d="M427.5 607.8L462.8 588L462.5 510L426.2 529.2Z"/>
<path d="M433.4 611.5L468.8 591.6L468.3 413.4L430.8 431.9Z"/>
<path d="M435.6 612.9L471 593L470.9 524.8L434.7 544.2Z"/>
<path d="M441.6 616.7L477 596.7L477 432.1L439.6 450.9Z"/>
<path d="M443.8 618.1L479.2 598L479.3 542.7L443.2 562.4Z"/>
<path d="M449.9 621.8L485.3 601.7L485.7 452.6L448.5 471.6Z"/>
<path d="M452.1 623.3L487.5 603.1L487.7 562.4L451.8 582.3Z"/>
<path d="M458.2 627.1L493.6 606.8L494.4 471.6L457.3 490.9Z"/>
<path d="M460.4 628.5L495.9 608.2L496 580.7L460.3 600.8Z"/>
<path d="M466.5 632.3L502 611.9L503 494.6L466.1 514.2Z"/>
<path d="M468.8 633.8L504.3 613.3L504.4 602.7L468.8 623.1Z"/>
<path d="M475 637.6L510.4 617L511.4 527.7L474.9 547.6Z"/>
<path d="M477.3 639.1L512.7 618.5L512.8 611.6L477.3 632.2Z"/>
<path d="M483.4 643L518.9 622.2L519.6 577.8L483.6 598.2Z"/>
<path d="M485.8 644.4L521.2 623.7L521.4 613.4L485.8 634.1Z"/>
</g>
<g fill="#c4600e" stroke="#000" stroke-width="3.0" stroke-linejoin="round">
<path d="M136.6 477.5L172.2 461.1L140.6 139.4L100.8 153.2Z"/>
<path d="M138.4 478.7L174 462.2L146.6 183.1L107.4 197.3Z"/>
<path d="M143 481.7L178.6 465.2L148.6 153.7L108.9 167.7Z"/>
<path d="M144.7 482.9L180.4 466.3L155 201.8L115.9 216.2Z"/>
<path d="M149.4 485.9L185 469.3L157 172.6L117.5 186.9Z"/>
<path d="M151.1 487.1L186.8 470.5L163.2 218.9L124.2 233.6Z"/>
<path d="M155.8 490.2L191.5 473.5L165.2 188.8L125.8 203.3Z"/>
<path d="M157.6 491.3L193.3 474.6L171.2 234.1L132.4 249Z"/>
<path d="M162.3 494.4L198 477.6L172.8 198.9L133.4 213.5Z"/>
<path d="M164.1 495.6L199.8 478.8L179.2 249.4L140.5 264.5Z"/>
<path d="M168.8 498.7L204.6 481.8L180.1 205.5L140.8 220.3Z"/>
<path d="M170.6 499.9L206.4 483L187 262.4L148.3 277.7Z"/>
<path d="M175.4 503.1L211.2 486L187.6 213.7L148.3 228.7Z"/>
<path d="M177.2 504.3L213 487.2L194.5 271.7L155.9 287.1Z"/>
<path d="M182 507.4L217.8 490.3L195.2 222.8L155.9 237.8Z"/>
<path d="M183.8 508.6L219.7 491.4L201.9 279.2L163.3 294.8Z"/>
<path d="M188.6 511.8L224.5 494.6L202.8 231.4L163.5 246.6Z"/>
<path d="M190.5 513L226.4 495.7L209 283.4L170.3 299.1Z"/>
<path d="M195.3 516.2L231.3 498.9L210.2 236.7L170.9 252Z"/>
<path d="M197.2 517.4L233.1 500L216.6 293.6L178 309.4Z"/>
<path d="M202.1 520.7L238 503.2L217.5 240.5L178.1 255.9Z"/>
<path d="M203.9 521.9L239.9 504.4L224.2 302L185.6 317.9Z"/>
<path d="M208.9 525.1L244.9 507.5L224.8 244.3L185.4 259.8Z"/>
<path d="M210.7 526.4L246.7 508.7L231.5 306.6L192.9 322.7Z"/>
<path d="M215.7 529.6L251.7 511.9L232.4 250.6L193 266.2Z"/>
<path d="M217.6 530.9L253.6 513.1L238.7 309.5L200 325.7Z"/>
<path d="M222.6 534.2L258.6 516.4L240 256.9L200.6 272.7Z"/>
<path d="M224.5 535.4L260.5 517.6L246.4 318.3L207.7 334.7Z"/>
<path d="M229.5 538.7L265.6 520.8L247.4 258.5L207.8 274.4Z"/>
<path d="M231.4 540L267.5 522L254 325.7L215.3 342.2Z"/>
<path d="M236.8 543.5L272.9 525.5L255.1 260.2L215.5 276.2Z"/>
<path d="M238.7 544.8L274.8 526.7L262 333.7L223.3 350.3Z"/>
<path d="M244.1 548.4L280.3 530.2L262.9 262L223.2 278.1Z"/>
<path d="M246 549.6L282.2 531.4L270.1 342.4L231.4 359.2Z"/>
<path d="M251.5 553.2L287.7 534.9L270.7 263.8L231 279.9Z"/>
<path d="M253.4 554.5L289.6 536.2L278.2 351.1L239.6 368.1Z"/>
<path d="M258.9 558.1L295.1 539.7L278.5 263.3L238.7 279.5Z"/>
<path d="M260.9 559.4L297.1 540.9L286.3 359.9L247.7 377Z"/>
<path d="M266.4 563L302.7 544.5L286.4 262.8L246.4 279.1Z"/>
<path d="M268.4 564.4L304.6 545.8L294.5 368.7L255.9 386Z"/>
<path d="M273.9 568L310.2 549.3L294.3 262.2L254.3 278.7Z"/>
<path d="M275.9 569.3L312.2 550.6L302.8 377.6L264.2 395Z"/>
<path d="M281.5 573L317.9 554.2L302.4 261.7L262.2 278.2Z"/>
<path d="M283.5 574.3L319.9 555.5L311 386.5L272.5 404.1Z"/>
<path d="M289.2 578.1L325.5 559.1L310.5 261.2L270.3 277.8Z"/>
<path d="M291.2 579.4L327.6 560.4L319.4 395.4L280.8 413.2Z"/>
<path d="M296.9 583.1L333.3 564.1L318.8 261.7L278.4 278.4Z"/>
<path d="M298.9 584.5L335.3 565.4L327.7 404.4L289.2 422.3Z"/>
<path d="M304.6 588.3L341.1 569L327.1 262.2L286.7 278.9Z"/>
<path d="M306.7 589.6L343.1 570.3L336.1 413.4L297.6 431.5Z"/>
<path d="M312.5 593.4L348.9 574L335.6 262.6L295.1 279.5Z"/>
<path d="M314.5 594.8L351 575.4L344.5 422.5L306.1 440.8Z"/>
<path d="M320.3 598.6L356.8 579.1L344.3 269L303.8 286Z"/>
<path d="M322.4 600L358.9 580.4L353 431.6L314.6 450.1Z"/>
<path d="M328.3 603.8L364.8 584.2L353.7 289.3L313.3 306.6Z"/>
<path d="M330.4 605.2L366.9 585.5L361.6 440.8L323.1 459.4Z"/>
<path d="M336 608.9L372.6 589.2L362.8 311.5L322.7 329.1Z"/>
<path d="M338.1 610.3L374.7 590.5L369.9 449.8L331.5 468.6Z"/>
<path d="M343.8 614.1L380.4 594.2L371.9 331.6L331.9 349.5Z"/>
<path d="M346 615.5L382.6 595.5L378.2 458.9L339.9 477.9Z"/>
<path d="M351.7 619.3L388.3 599.2L380.9 349.3L341 367.4Z"/>
<path d="M353.9 620.7L390.5 600.6L386.6 468.1L348.3 487.3Z"/>
<path d="M359.6 624.5L396.3 604.3L389.9 370.5L350.2 388.9Z"/>
<path d="M361.8 625.9L398.4 605.7L395.2 482.9L357 502.3Z"/>
<path d="M367.6 629.8L404.3 609.4L398.9 391.7L359.5 410.4Z"/>
<path d="M369.8 631.2L406.5 610.8L403.7 495.5L365.6 515.1Z"/>
<path d="M375.7 635.1L412.4 614.6L407.9 410.5L368.6 429.4Z"/>
<path d="M377.9 636.5L414.6 616L412.4 512.9L374.3 532.7Z"/>
<path d="M383.8 640.4L420.5 619.8L416.8 426.5L377.6 445.7Z"/>
<path d="M386 641.9L422.7 621.2L421 527.4L383 547.4Z"/>
<path d="M391.9 645.8L428.7 625L425.7 441.4L386.6 460.9Z"/>
<path d="M394.2 647.3L430.9 626.4L429.6 541.9L391.8 562.2Z"/>
<path d="M400.2 651.2L436.9 630.3L434.6 461.3L395.7 481Z"/>
<path d="M402.4 652.7L439.2 631.7L438.2 553.6L400.4 574Z"/>
<path d="M408.5 656.7L445.2 635.6L443.6 486.2L404.9 506.2Z"/>
<path d="M410.7 658.2L447.5 637L446.8 566.3L409.1 587Z"/>
<path d="M416.8 662.2L453.6 640.9L452.6 513.5L414.1 533.8Z"/>
<path d="M419.1 663.7L455.9 642.4L455.5 581.6L417.9 602.5Z"/>
<path d="M425.2 667.7L462 646.3L461.5 545.4L423.4 566.1Z"/>
<path d="M427.5 669.2L464.3 647.8L464.2 605.8L426.8 627Z"/>
<path d="M433.7 673.3L470.5 651.8L470.4 589.7L432.8 610.8Z"/>
<path d="M436 674.8L472.9 653.2L472.8 628.5L435.7 649.9Z"/>
</g>
<g fill="#000" stroke="#000" stroke-width="0.7" stroke-linejoin="round">
<text transform="matrix(1.1895 -0.5723 0.9933 0.6733 157.3 528.0)" font-size="15" text-anchor="middle" y="5">0.2</text>
<text transform="matrix(1.1787 -0.5942 0.9933 0.6733 214.7 567.0)" font-size="15" text-anchor="middle" y="5">0.0</text>
<text transform="matrix(1.1664 -0.6179 0.9928 0.6741 274.3 609.8)" font-size="15" text-anchor="middle" y="5">-0.2</text>
<text transform="matrix(1.1527 -0.6432 0.9926 0.6743 338.5 654.0)" font-size="15" text-anchor="middle" y="5">-0.4</text>
<text transform="matrix(1.0738 0.7504 -0.9774 0.5047 209.0 605.5)" font-size="16" text-anchor="middle" y="5">Potential (Ewe/ V)</text>
<text transform="matrix(1.1904 0.7741 -0.9456 0.5620 469.7 677.0)" font-size="15" text-anchor="middle" y="5">5.8</text>
<text transform="matrix(1.2048 0.7516 -0.9455 0.5622 520.0 648.0)" font-size="15" text-anchor="middle" y="5">6.2</text>
<text transform="matrix(1.2182 0.7296 -0.9460 0.5613 566.0 617.4)" font-size="15" text-anchor="middle" y="5">6.6</text>
<text transform="matrix(1.2307 0.7083 -0.9478 0.5583 604.0 583.8)" font-size="15" text-anchor="middle" y="5">7</text>
<text transform="matrix(1.2416 0.6890 -0.9463 0.5608 655.4 562.5)" font-size="15" text-anchor="middle" y="5">7.6</text>
<text transform="matrix(1.2517 0.6705 -0.9467 0.5602 695.7 536.5)" font-size="15" text-anchor="middle" y="5">7.8</text>
<text transform="matrix(1.2617 0.6516 -0.9487 0.5568 728.7 505.4)" font-size="15" text-anchor="middle" y="5">8</text>
<text transform="matrix(1.1290 -0.6839 1.0403 0.5982 640.7 603.7)" font-size="16" text-anchor="middle" y="5">pH</text>
<text transform="matrix(1.0221 0.5048 -0.0883 0.9961 751.0 459.2)" font-size="19.5" text-anchor="start" y="14">-0.00003</text>
<text transform="matrix(1.0313 0.4859 -0.0883 0.9961 755.8 403.2)" font-size="19.5" text-anchor="start" y="14">-0.00002</text>
<text transform="matrix(1.0405 0.4658 -0.0882 0.9961 760.8 345.0)" font-size="19.5" text-anchor="start" y="14">-0.00001</text>
<text transform="matrix(1.1235 0.4756 -0.0882 0.9961 766.0 284.7)" font-size="19.5" text-anchor="start" y="14">0.00000</text>
<text transform="matrix(1.1334 0.4513 -0.0881 0.9961 771.3 222.1)" font-size="19.5" text-anchor="start" y="14">0.00001</text>
<text transform="matrix(1.1434 0.4255 -0.0880 0.9961 776.9 157.0)" font-size="19.5" text-anchor="start" y="14">0.00002</text>
<text transform="matrix(0.1508 -1.2610 1.0995 0.4806 858.5 360.7)" font-size="17" text-anchor="middle" y="5">Current (I/ A)</text>
</g>
<text transform="translate(2,89.2) scale(0.885,1.04)" font-size="40" stroke="#000" stroke-width="0.6" style="font-family:'DejaVu Sans',sans-serif">(a)</text>
<g stroke="#ededed" stroke-width="1" fill="none">
<line x1="965.4" y1="457.1" x2="1249" y2="324.7"/>
<line x1="1249" y1="324.7" x2="1523.7" y2="462.2"/>
<line x1="960.6" y1="413.9" x2="1248.8" y2="284.4"/>
<line x1="1248.8" y1="284.4" x2="1528.1" y2="418.8"/>
<line x1="955.6" y1="369.2" x2="1248.7" y2="243"/>
<line x1="1248.7" y1="243" x2="1532.6" y2="373.9"/>
<line x1="950.4" y1="323" x2="1248.5" y2="200.3"/>
<line x1="1248.5" y1="200.3" x2="1537.2" y2="327.4"/>
<line x1="945.1" y1="275.2" x2="1248.3" y2="156.3"/>
<line x1="1248.3" y1="156.3" x2="1542" y2="279.4"/>
<line x1="939.6" y1="225.7" x2="1248.1" y2="110.9"/>
<line x1="1248.1" y1="110.9" x2="1547" y2="229.7"/>
<line x1="933.9" y1="174.5" x2="1248" y2="64.2"/>
<line x1="1248" y1="64.2" x2="1552.1" y2="178.2"/>
<line x1="1298.4" y1="367.2" x2="1302.7" y2="59"/>
<line x1="1015.6" y1="507.7" x2="1298.4" y2="367.2"/>
<line x1="1350.2" y1="393.5" x2="1360.6" y2="80"/>
<line x1="1066.4" y1="541.3" x2="1350.2" y2="393.5"/>
<line x1="1404.6" y1="421.2" x2="1421.8" y2="102.2"/>
<line x1="1120" y1="577" x2="1404.6" y2="421.2"/>
<line x1="1461.7" y1="450.3" x2="1486.4" y2="125.6"/>
<line x1="1176.8" y1="614.6" x2="1461.7" y2="450.3"/>
<line x1="989.9" y1="465.1" x2="956.4" y2="138.3"/>
<line x1="989.9" y1="465.1" x2="1260.1" y2="640.5"/>
<line x1="1033.6" y1="444.4" x2="1006" y2="121.4"/>
<line x1="1033.6" y1="444.4" x2="1304.7" y2="613.3"/>
<line x1="1075.8" y1="424.3" x2="1053.8" y2="105.1"/>
<line x1="1075.8" y1="424.3" x2="1347.7" y2="587.1"/>
<line x1="1116.5" y1="405" x2="1099.7" y2="89.5"/>
<line x1="1116.5" y1="405" x2="1389" y2="561.9"/>
<line x1="1156" y1="386.3" x2="1144" y2="74.4"/>
<line x1="1156" y1="386.3" x2="1428.7" y2="537.7"/>
<line x1="1194.1" y1="368.2" x2="1186.7" y2="59.9"/>
<line x1="1194.1" y1="368.2" x2="1467" y2="514.3"/>
<line x1="1231.1" y1="350.6" x2="1227.8" y2="45.9"/>
<line x1="1231.1" y1="350.6" x2="1503.9" y2="491.8"/>
</g>
<g stroke="#000" stroke-width="2" stroke-linecap="square" fill="none">
<line x1="930.8" y1="147" x2="1247.9" y2="39.1"/>
<line x1="1247.9" y1="39.1" x2="1554.9" y2="150.5"/>
<line x1="1247.9" y1="39.1" x2="1249.1" y2="342.1"/>
<line x1="930.8" y1="147" x2="967.5" y2="475.7"/>
<line x1="1554.9" y1="150.5" x2="1521.9" y2="480.9"/>
<line x1="967.5" y1="475.7" x2="1237" y2="654.6"/>
<line x1="967.5" y1="475.7" x2="1249.1" y2="342.1"/>
<line x1="1249.1" y1="342.1" x2="1521.9" y2="480.9"/>
<line x1="1237" y1="654.6" x2="1521.9" y2="480.9"/>
</g>
<g stroke="#000" stroke-width="1.8" fill="none">
<line x1="991.2" y1="491.5" x2="988.1" y2="493"/>
<line x1="1015.6" y1="507.7" x2="1009.8" y2="510.6"/>
<line x1="1040.6" y1="524.3" x2="1037.5" y2="525.9"/>
<line x1="1066.4" y1="541.3" x2="1060.6" y2="544.4"/>
<line x1="1092.8" y1="558.9" x2="1089.7" y2="560.6"/>
<line x1="1120" y1="577" x2="1114.3" y2="580.1"/>
<line x1="1148" y1="595.5" x2="1145" y2="597.2"/>
<line x1="1176.8" y1="614.6" x2="1171.2" y2="617.9"/>
<line x1="1206.5" y1="634.3" x2="1203.5" y2="636.1"/>
<line x1="1523.7" y1="462.2" x2="1530.9" y2="465.8"/>
<line x1="1525.9" y1="440.6" x2="1529.9" y2="442.6"/>
<line x1="1528.1" y1="418.8" x2="1535.3" y2="422.2"/>
<line x1="1530.3" y1="396.5" x2="1534.4" y2="398.4"/>
<line x1="1532.6" y1="373.9" x2="1539.8" y2="377.2"/>
<line x1="1534.9" y1="350.8" x2="1539" y2="352.7"/>
<line x1="1537.2" y1="327.4" x2="1544.5" y2="330.7"/>
<line x1="1539.6" y1="303.6" x2="1543.7" y2="305.4"/>
<line x1="1542" y1="279.4" x2="1549.4" y2="282.5"/>
<line x1="1544.5" y1="254.8" x2="1548.6" y2="256.5"/>
<line x1="1547" y1="229.7" x2="1554.4" y2="232.6"/>
<line x1="1549.5" y1="204.2" x2="1553.7" y2="205.8"/>
<line x1="1552.1" y1="178.2" x2="1559.6" y2="181"/>
<line x1="1554.8" y1="151.7" x2="1559" y2="153.3"/>
<line x1="1237" y1="654.6" x2="1240.4" y2="656.8"/>
<line x1="1282.6" y1="626.8" x2="1286" y2="628.9"/>
<line x1="1326.4" y1="600.1" x2="1329.8" y2="602.2"/>
<line x1="1368.5" y1="574.4" x2="1372" y2="576.4"/>
<line x1="1409.1" y1="549.7" x2="1412.5" y2="551.6"/>
<line x1="1448.1" y1="525.9" x2="1451.6" y2="527.8"/>
<line x1="1485.6" y1="503" x2="1489.2" y2="504.8"/>
<line x1="1521.9" y1="480.9" x2="1525.4" y2="482.7"/>
<line x1="1260.1" y1="640.5" x2="1266.3" y2="644.6"/>
<line x1="1304.7" y1="613.3" x2="1311.1" y2="617.3"/>
<line x1="1347.7" y1="587.1" x2="1354.1" y2="591"/>
<line x1="1389" y1="561.9" x2="1395.5" y2="565.7"/>
<line x1="1428.7" y1="537.7" x2="1435.3" y2="541.3"/>
<line x1="1467" y1="514.3" x2="1473.6" y2="517.9"/>
<line x1="1503.9" y1="491.8" x2="1510.6" y2="495.3"/>
</g>
<g fill="#a850a8" stroke="#4b244b" stroke-width="0.8" stroke-linejoin="round">
<path fill="#6e346e" d="M1218.3 356.4L1219.9 357.2L1217.2 179.9L1215.6 179.1Z"/>
<path d="M1219.9 357.2L1244.8 345.4L1243.8 169.3L1217.2 179.9Z"/>
<path fill="#6e346e" d="M1219.9 357.2L1221.4 358.1L1219.3 206.9L1217.6 206.2Z"/>
<path d="M1221.4 358.1L1246.4 346.2L1245.6 196.1L1219.3 206.9Z"/>
<path fill="#6e346e" d="M1224.2 359.5L1225.8 360.3L1223.6 189.2L1221.9 188.4Z"/>
<path d="M1225.8 360.3L1250.7 348.4L1250.1 178.5L1223.6 189.2Z"/>
<path fill="#6e346e" d="M1225.8 360.3L1227.4 361.2L1225.6 210.3L1223.9 209.5Z"/>
<path d="M1227.4 361.2L1252.3 349.2L1251.9 199.4L1225.6 210.3Z"/>
<path fill="#6e346e" d="M1230.1 362.6L1231.7 363.4L1230.1 202.2L1228.4 201.5Z"/>
<path d="M1231.7 363.4L1256.7 351.5L1256.5 191.4L1230.1 202.2Z"/>
<path fill="#6e346e" d="M1231.7 363.4L1233.3 364.3L1231.9 213.6L1230.2 212.9Z"/>
<path d="M1233.3 364.3L1258.3 352.3L1258.2 202.7L1231.9 213.6Z"/>
<path fill="#6e346e" d="M1236.1 365.7L1237.7 366.6L1236.4 205.7L1234.7 204.9Z"/>
<path d="M1237.7 366.6L1262.7 354.5L1262.8 194.8L1236.4 205.7Z"/>
<path fill="#6e346e" d="M1237.7 366.6L1239.3 367.4L1238.2 217L1236.5 216.3Z"/>
<path d="M1239.3 367.4L1264.3 355.4L1264.5 206L1238.2 217Z"/>
<path fill="#6e346e" d="M1242.1 368.9L1243.8 369.7L1242.8 206.3L1241 205.6Z"/>
<path d="M1243.8 369.7L1268.7 357.6L1269.2 195.4L1242.8 206.3Z"/>
<path fill="#6e346e" d="M1243.8 369.7L1245.4 370.6L1244.6 220.4L1242.8 219.7Z"/>
<path d="M1245.4 370.6L1270.3 358.4L1270.9 209.4L1244.6 220.4Z"/>
<path fill="#6e346e" d="M1248.2 372L1249.8 372.9L1249.2 209.5L1247.5 208.7Z"/>
<path d="M1249.8 372.9L1274.8 360.7L1275.6 198.5L1249.2 209.5Z"/>
<path fill="#6e346e" d="M1249.8 372.9L1251.5 373.8L1251 223.9L1249.2 223.1Z"/>
<path d="M1251.5 373.8L1276.4 361.5L1277.3 212.7L1251 223.9Z"/>
<path fill="#6e346e" d="M1254.3 375.2L1255.9 376.1L1255.7 215.5L1253.9 214.7Z"/>
<path d="M1255.9 376.1L1280.9 363.8L1282.1 204.4L1255.7 215.5Z"/>
<path fill="#6e346e" d="M1255.9 376.1L1257.6 377L1257.4 227.3L1255.7 226.5Z"/>
<path d="M1257.6 377L1282.5 364.7L1283.7 216.1L1257.4 227.3Z"/>
<path fill="#6e346e" d="M1260.4 378.4L1262 379.3L1262.1 220.9L1260.4 220.1Z"/>
<path d="M1262 379.3L1287 367L1288.6 209.7L1262.1 220.9Z"/>
<path fill="#6e346e" d="M1262 379.3L1263.7 380.2L1263.9 230.8L1262.1 230Z"/>
<path d="M1263.7 380.2L1288.7 367.8L1290.2 219.5L1263.9 230.8Z"/>
<path fill="#6e346e" d="M1266.5 381.7L1268.2 382.5L1268.7 222.6L1266.9 221.8Z"/>
<path d="M1268.2 382.5L1293.2 370.1L1295.1 211.3L1268.7 222.6Z"/>
<path fill="#6e346e" d="M1268.2 382.5L1269.9 383.4L1270.4 234.3L1268.6 233.5Z"/>
<path d="M1269.9 383.4L1294.9 371L1296.7 222.9L1270.4 234.3Z"/>
<path fill="#6e346e" d="M1272.7 384.9L1274.4 385.8L1275.3 224.9L1273.5 224.1Z"/>
<path d="M1274.4 385.8L1299.4 373.3L1301.7 213.6L1275.3 224.9Z"/>
<path fill="#6e346e" d="M1274.4 385.8L1276.1 386.7L1277 238.1L1275.2 237.3Z"/>
<path d="M1276.1 386.7L1301.1 374.2L1303.3 226.7L1277 238.1Z"/>
<path fill="#6e346e" d="M1279 388.2L1280.7 389L1281.9 227.8L1280.1 227Z"/>
<path d="M1280.7 389L1305.6 376.5L1308.3 216.5L1281.9 227.8Z"/>
<path fill="#6e346e" d="M1280.7 389L1282.4 389.9L1283.6 241.9L1281.8 241.1Z"/>
<path d="M1282.4 389.9L1307.3 377.4L1309.9 230.4L1283.6 241.9Z"/>
<path fill="#6e346e" d="M1285.2 391.4L1286.9 392.3L1288.5 231.7L1286.7 230.9Z"/>
<path d="M1286.9 392.3L1311.9 379.7L1315 220.3L1288.5 231.7Z"/>
<path fill="#6e346e" d="M1286.9 392.3L1288.6 393.2L1290.2 245.8L1288.4 245Z"/>
<path d="M1288.6 393.2L1313.6 380.6L1316.5 234.2L1290.2 245.8Z"/>
<path fill="#6e346e" d="M1291.6 394.8L1293.3 395.6L1295.2 234.1L1293.4 233.3Z"/>
<path d="M1293.3 395.6L1318.2 382.9L1321.7 222.6L1295.2 234.1Z"/>
<path fill="#6e346e" d="M1293.3 395.6L1295 396.5L1296.9 249.7L1295.1 248.9Z"/>
<path d="M1295 396.5L1320 383.8L1323.2 238L1296.9 249.7Z"/>
<path fill="#6e346e" d="M1297.9 398.1L1299.6 399L1302 236.2L1300.2 235.4Z"/>
<path d="M1299.6 399L1324.6 386.2L1328.4 224.6L1302 236.2Z"/>
<path fill="#6e346e" d="M1299.6 399L1301.3 399.9L1303.6 253.6L1301.7 252.8Z"/>
<path d="M1301.3 399.9L1326.3 387.1L1329.9 241.9L1303.6 253.6Z"/>
<path fill="#6e346e" d="M1304.3 401.4L1306 402.3L1308.8 238.3L1307 237.4Z"/>
<path d="M1306 402.3L1331 389.5L1335.3 226.6L1308.8 238.3Z"/>
<path fill="#6e346e" d="M1306 402.3L1307.7 403.2L1310.3 257.5L1308.5 256.7Z"/>
<path d="M1307.7 403.2L1332.7 390.3L1336.6 245.7L1310.3 257.5Z"/>
<path fill="#6e346e" d="M1310.7 404.8L1312.4 405.7L1315.7 240L1313.8 239.2Z"/>
<path d="M1312.4 405.7L1337.4 392.8L1342.1 228.3L1315.7 240Z"/>
<path fill="#6e346e" d="M1312.4 405.7L1314.2 406.6L1317.1 261.5L1315.3 260.7Z"/>
<path d="M1314.2 406.6L1339.2 393.6L1343.4 249.6L1317.1 261.5Z"/>
<path fill="#6e346e" d="M1317.2 408.2L1318.9 409.1L1322.6 241.8L1320.7 241Z"/>
<path d="M1318.9 409.1L1343.9 396.1L1349 230L1322.6 241.8Z"/>
<path fill="#6e346e" d="M1318.9 409.1L1320.7 410L1323.9 265.5L1322.1 264.6Z"/>
<path d="M1320.7 410L1345.7 397L1350.2 253.5L1323.9 265.5Z"/>
<path fill="#6e346e" d="M1323.7 411.6L1325.4 412.5L1329.5 244.6L1327.6 243.7Z"/>
<path d="M1325.4 412.5L1350.4 399.4L1356 232.7L1329.5 244.6Z"/>
<path fill="#6e346e" d="M1325.4 412.5L1327.2 413.4L1330.8 268.6L1328.9 267.8Z"/>
<path d="M1327.2 413.4L1352.2 400.3L1357.1 256.6L1330.8 268.6Z"/>
<path fill="#6e346e" d="M1330.2 415L1332 415.9L1336.5 245.1L1334.7 244.3Z"/>
<path d="M1332 415.9L1357 402.7L1363.1 233.2L1336.5 245.1Z"/>
<path fill="#6e346e" d="M1332 415.9L1333.7 416.8L1337.7 271.8L1335.9 270.9Z"/>
<path d="M1333.7 416.8L1358.7 403.7L1364 259.6L1337.7 271.8Z"/>
<path fill="#6e346e" d="M1336.8 418.4L1338.6 419.4L1343.7 245.3L1341.8 244.5Z"/>
<path d="M1338.6 419.4L1363.6 406.1L1370.2 233.4L1343.7 245.3Z"/>
<path fill="#6e346e" d="M1338.6 419.4L1340.4 420.3L1344.7 274.9L1342.8 274.1Z"/>
<path d="M1340.4 420.3L1365.3 407L1371 262.7L1344.7 274.9Z"/>
<path fill="#6e346e" d="M1343.4 421.9L1345.2 422.8L1350.8 245.8L1348.9 245Z"/>
<path d="M1345.2 422.8L1370.2 409.5L1377.4 233.8L1350.8 245.8Z"/>
<path fill="#6e346e" d="M1345.2 422.8L1347 423.8L1351.7 278.1L1349.8 277.3Z"/>
<path d="M1347 423.8L1372 410.4L1378 265.8L1351.7 278.1Z"/>
<path fill="#6e346e" d="M1350.1 425.4L1351.9 426.3L1358 247L1356.1 246.2Z"/>
<path d="M1351.9 426.3L1376.9 412.9L1384.6 235L1358 247Z"/>
<path fill="#6e346e" d="M1351.9 426.3L1353.7 427.3L1358.8 281.5L1356.9 280.6Z"/>
<path d="M1353.7 427.3L1378.7 413.8L1385 269.1L1358.8 281.5Z"/>
<path fill="#6e346e" d="M1356.8 428.9L1358.6 429.8L1365.3 247.6L1363.4 246.7Z"/>
<path d="M1358.6 429.8L1383.6 416.4L1391.9 235.5L1365.3 247.6Z"/>
<path fill="#6e346e" d="M1358.6 429.8L1360.4 430.8L1365.9 284.9L1364 284Z"/>
<path d="M1360.4 430.8L1385.4 417.3L1392.1 272.5L1365.9 284.9Z"/>
<path fill="#6e346e" d="M1363.5 432.4L1365.3 433.4L1372.7 246.8L1370.7 246Z"/>
<path d="M1365.3 433.4L1390.3 419.8L1399.3 234.7L1372.7 246.8Z"/>
<path fill="#6e346e" d="M1365.3 433.4L1367.2 434.3L1373 288.3L1371.1 287.4Z"/>
<path d="M1367.2 434.3L1392.2 420.7L1399.3 275.8L1373 288.3Z"/>
<path fill="#6e346e" d="M1370.3 436L1372.1 436.9L1380.2 245.4L1378.2 244.5Z"/>
<path d="M1372.1 436.9L1397.1 423.3L1406.8 233.2L1380.2 245.4Z"/>
<path fill="#6e346e" d="M1372.1 436.9L1374 437.9L1380.2 291.8L1378.3 290.9Z"/>
<path d="M1374 437.9L1399 424.2L1406.5 279.2L1380.2 291.8Z"/>
<path fill="#6e346e" d="M1377.1 439.5L1379 440.5L1387.8 242.6L1385.8 241.8Z"/>
<path d="M1379 440.5L1404 426.8L1414.5 230.4L1387.8 242.6Z"/>
<path fill="#6e346e" d="M1379 440.5L1380.8 441.5L1387.4 297L1385.4 296.1Z"/>
<path d="M1380.8 441.5L1405.8 427.7L1413.6 284.3L1387.4 297Z"/>
<path fill="#6e346e" d="M1384 443.1L1385.9 444.1L1395.9 231.1L1393.9 230.3Z"/>
<path d="M1385.9 444.1L1410.8 430.3L1422.8 218.9L1395.9 231.1Z"/>
<path fill="#6e346e" d="M1385.9 444.1L1387.7 445.1L1394.6 302.2L1392.6 301.3Z"/>
<path d="M1387.7 445.1L1412.7 431.2L1420.8 289.4L1394.6 302.2Z"/>
<path fill="#6e346e" d="M1390.9 446.8L1392.8 447.7L1405 203.3L1402.9 202.5Z"/>
<path d="M1392.8 447.7L1417.8 433.8L1432.1 191.3L1405 203.3Z"/>
<path fill="#6e346e" d="M1392.8 447.7L1394.7 448.7L1401.5 313.6L1399.5 312.7Z"/>
<path d="M1394.7 448.7L1419.6 434.8L1427.7 300.6L1401.5 313.6Z"/>
<path fill="#6e346e" d="M1397.9 450.4L1399.8 451.4L1414.6 169L1412.5 168.2Z"/>
<path d="M1399.8 451.4L1424.7 437.4L1442 157.3L1414.6 169Z"/>
<path fill="#6e346e" d="M1399.8 451.4L1401.6 452.4L1407.9 334.5L1406 333.5Z"/>
<path d="M1401.6 452.4L1426.6 438.4L1433.9 321.3L1407.9 334.5Z"/>
<path fill="#6e346e" d="M1404.9 454.1L1406.8 455.1L1421.7 185.2L1419.6 184.3Z"/>
<path d="M1406.8 455.1L1431.7 441L1449 173.2L1421.7 185.2Z"/>
<path fill="#6e346e" d="M1406.8 455.1L1408.7 456.1L1412.4 389.2L1410.5 388.2Z"/>
<path d="M1408.7 456.1L1433.6 441.9L1438 375.5L1412.4 389.2Z"/>
<path fill="#6e346e" d="M1411.9 457.8L1413.8 458.8L1425.4 259.2L1423.4 258.3Z"/>
<path d="M1413.8 458.8L1438.8 444.6L1452.1 246.6L1425.4 259.2Z"/>
<path fill="#6e346e" d="M1413.8 458.8L1415.7 459.8L1418.7 409.4L1416.7 408.5Z"/>
<path d="M1415.7 459.8L1440.7 445.6L1444.1 395.6L1418.7 409.4Z"/>
<path fill="#6e346e" d="M1419 461.5L1420.9 462.5L1431.3 292.2L1429.3 291.3Z"/>
<path d="M1420.9 462.5L1445.9 448.2L1457.7 279.2L1431.3 292.2Z"/>
<path fill="#6e346e" d="M1420.9 462.5L1422.8 463.5L1425.5 419.7L1423.6 418.7Z"/>
<path d="M1422.8 463.5L1447.8 449.2L1450.9 405.7L1425.5 419.7Z"/>
<path fill="#6e346e" d="M1426.1 465.2L1428.1 466.2L1438 310.4L1436 309.5Z"/>
<path d="M1428.1 466.2L1453 451.9L1464.3 297.2L1438 310.4Z"/>
<path fill="#6e346e" d="M1428.1 466.2L1430 467.2L1434 404.6L1432.1 403.6Z"/>
<path d="M1430 467.2L1454.9 452.9L1459.5 390.6L1434 404.6Z"/>
<path fill="#6e346e" d="M1433.3 469L1435.3 470L1445 324L1442.9 323Z"/>
<path d="M1435.3 470L1460.2 455.5L1471.2 310.6L1445 324Z"/>
<path fill="#6e346e" d="M1435.3 470L1437.2 471L1442.2 397.5L1440.2 396.5Z"/>
<path d="M1437.2 471L1462.1 456.5L1467.7 383.5L1442.2 397.5Z"/>
<path fill="#6e346e" d="M1440.6 472.7L1442.5 473.8L1452.1 334.9L1450.1 334Z"/>
<path d="M1442.5 473.8L1467.4 459.2L1478.2 321.4L1452.1 334.9Z"/>
<path fill="#6e346e" d="M1442.5 473.8L1444.5 474.8L1450.2 393.4L1448.2 392.4Z"/>
<path d="M1444.5 474.8L1469.4 460.2L1475.8 379.4L1450.2 393.4Z"/>
<path fill="#6e346e" d="M1447.8 476.6L1449.8 477.6L1459.4 344.3L1457.4 343.4Z"/>
<path d="M1449.8 477.6L1474.7 463L1485.5 330.7L1459.4 344.3Z"/>
<path fill="#6e346e" d="M1449.8 477.6L1451.8 478.6L1458.2 390.8L1456.1 389.8Z"/>
<path d="M1451.8 478.6L1476.7 464L1483.8 376.8L1458.2 390.8Z"/>
<path fill="#6e346e" d="M1455.1 480.4L1457.1 481.4L1466.8 353.1L1464.7 352.1Z"/>
<path d="M1457.1 481.4L1482 466.7L1492.8 339.3L1466.8 353.1Z"/>
<path fill="#6e346e" d="M1457.1 481.4L1459.1 482.5L1466.1 390.7L1464 389.7Z"/>
<path d="M1459.1 482.5L1484 467.7L1491.8 376.6L1466.1 390.7Z"/>
<path fill="#6e346e" d="M1462.5 484.2L1464.5 485.3L1474.1 362.5L1472 361.5Z"/>
<path d="M1464.5 485.3L1489.4 470.5L1500 348.6L1474.1 362.5Z"/>
<path fill="#6e346e" d="M1464.5 485.3L1466.5 486.3L1474 391.9L1471.9 390.9Z"/>
<path d="M1466.5 486.3L1491.4 471.5L1499.6 377.7L1474 391.9Z"/>
<path fill="#6e346e" d="M1469.9 488.1L1471.9 489.2L1481.4 372.6L1479.3 371.6Z"/>
<path d="M1471.9 489.2L1496.8 474.3L1507.2 358.5L1481.4 372.6Z"/>
<path fill="#6e346e" d="M1471.9 489.2L1473.9 490.2L1481.9 393.1L1479.8 392.1Z"/>
<path d="M1473.9 490.2L1498.8 475.3L1507.6 378.8L1481.9 393.1Z"/>
<path fill="#6e346e" d="M1477.4 492L1479.4 493.1L1488.5 385.6L1486.3 384.6Z"/>
<path d="M1479.4 493.1L1504.3 478.1L1514.2 371.4L1488.5 385.6Z"/>
<path fill="#6e346e" d="M1479.4 493.1L1481.4 494.1L1489.8 395.5L1487.7 394.5Z"/>
<path d="M1481.4 494.1L1506.3 479.1L1515.5 381.2L1489.8 395.5Z"/>
<path fill="#6e346e" d="M1484.9 496L1486.9 497L1495.8 395.7L1493.6 394.7Z"/>
<path d="M1486.9 497L1511.8 481.9L1521.5 381.3L1495.8 395.7Z"/>
<path fill="#6e346e" d="M1486.9 497L1489 498.1L1497.3 403.1L1495.2 402.1Z"/>
<path d="M1489 498.1L1513.8 483L1523 388.7L1497.3 403.1Z"/>
</g>
<g fill="#505050" stroke="#242424" stroke-width="0.8" stroke-linejoin="round">
<path fill="#343434" d="M1181.1 374L1182.7 374.9L1177.5 195L1175.9 194.2Z"/>
<path d="M1182.7 374.9L1208.4 362.7L1205 184.1L1177.5 195Z"/>
<path fill="#343434" d="M1182.7 374.9L1184.3 375.8L1180 223L1178.3 222.2Z"/>
<path d="M1184.3 375.8L1210 363.5L1207.2 211.9L1180 223Z"/>
<path fill="#343434" d="M1187 377.2L1188.6 378.1L1183.9 202.3L1182.2 201.5Z"/>
<path d="M1188.6 378.1L1214.3 365.8L1211.4 191.3L1183.9 202.3Z"/>
<path fill="#343434" d="M1188.6 378.1L1190.2 379L1186.2 226.5L1184.6 225.7Z"/>
<path d="M1190.2 379L1215.9 366.6L1213.5 215.3L1186.2 226.5Z"/>
<path fill="#343434" d="M1192.9 380.4L1194.5 381.3L1190.5 215.6L1188.8 214.8Z"/>
<path d="M1194.5 381.3L1220.3 368.9L1217.9 204.4L1190.5 215.6Z"/>
<path fill="#343434" d="M1194.5 381.3L1196.1 382.2L1192.5 229.9L1190.8 229.2Z"/>
<path d="M1196.1 382.2L1221.9 369.8L1219.8 218.7L1192.5 229.9Z"/>
<path fill="#343434" d="M1198.9 383.7L1200.5 384.6L1197 224.8L1195.3 224Z"/>
<path d="M1200.5 384.6L1226.3 372.1L1224.3 213.5L1197 224.8Z"/>
<path fill="#343434" d="M1200.5 384.6L1202.1 385.4L1198.9 233.4L1197.2 232.6Z"/>
<path d="M1202.1 385.4L1227.9 373L1226.1 222.1L1198.9 233.4Z"/>
<path fill="#343434" d="M1204.9 386.9L1206.5 387.8L1203.3 227.2L1201.6 226.4Z"/>
<path d="M1206.5 387.8L1232.3 375.3L1230.7 215.9L1203.3 227.2Z"/>
<path fill="#343434" d="M1206.5 387.8L1208.1 388.7L1205.2 237L1203.5 236.2Z"/>
<path d="M1208.1 388.7L1233.9 376.2L1232.5 225.5L1205.2 237Z"/>
<path fill="#343434" d="M1210.9 390.2L1212.6 391.1L1209.7 229.7L1208 228.9Z"/>
<path d="M1212.6 391.1L1238.3 378.5L1237.1 218.3L1209.7 229.7Z"/>
<path fill="#343434" d="M1212.6 391.1L1214.2 392L1211.6 240.5L1209.9 239.7Z"/>
<path d="M1214.2 392L1240 379.4L1238.9 229L1211.6 240.5Z"/>
<path fill="#343434" d="M1217 393.5L1218.6 394.4L1216.2 233L1214.4 232.2Z"/>
<path d="M1218.6 394.4L1244.4 381.7L1243.5 221.5L1216.2 233Z"/>
<path fill="#343434" d="M1218.6 394.4L1220.3 395.3L1218.1 244.1L1216.3 243.2Z"/>
<path d="M1220.3 395.3L1246.1 382.6L1245.3 232.5L1218.1 244.1Z"/>
<path fill="#343434" d="M1223.1 396.8L1224.8 397.7L1222.7 236.3L1220.9 235.5Z"/>
<path d="M1224.8 397.7L1250.6 385L1250 224.8L1222.7 236.3Z"/>
<path fill="#343434" d="M1224.8 397.7L1226.4 398.6L1224.5 247.6L1222.8 246.8Z"/>
<path d="M1226.4 398.6L1252.2 385.8L1251.8 236L1224.5 247.6Z"/>
<path fill="#343434" d="M1229.3 400.2L1230.9 401.1L1229.2 239.1L1227.4 238.2Z"/>
<path d="M1230.9 401.1L1256.7 388.2L1256.5 227.4L1229.2 239.1Z"/>
<path fill="#343434" d="M1230.9 401.1L1232.6 402L1231 251.2L1229.3 250.4Z"/>
<path d="M1232.6 402L1258.4 389.1L1258.3 239.5L1231 251.2Z"/>
<path fill="#343434" d="M1235.5 403.5L1237.1 404.4L1235.7 241.8L1234 241Z"/>
<path d="M1237.1 404.4L1262.9 391.5L1263.1 230.1L1235.7 241.8Z"/>
<path fill="#343434" d="M1237.1 404.4L1238.8 405.3L1237.6 255.2L1235.8 254.3Z"/>
<path d="M1238.8 405.3L1264.6 392.4L1264.9 243.4L1237.6 255.2Z"/>
<path fill="#343434" d="M1241.7 406.9L1243.4 407.8L1242.3 244.5L1240.6 243.7Z"/>
<path d="M1243.4 407.8L1269.2 394.8L1269.7 232.7L1242.3 244.5Z"/>
<path fill="#343434" d="M1243.4 407.8L1245 408.7L1244.2 259.1L1242.4 258.3Z"/>
<path d="M1245 408.7L1270.9 395.7L1271.5 247.2L1244.2 259.1Z"/>
<path fill="#343434" d="M1247.9 410.3L1249.6 411.2L1249 247.3L1247.2 246.5Z"/>
<path d="M1249.6 411.2L1275.5 398.1L1276.4 235.4L1249 247.3Z"/>
<path fill="#343434" d="M1249.6 411.2L1251.3 412.1L1250.8 263.1L1249 262.3Z"/>
<path d="M1251.3 412.1L1277.2 399L1278.1 251.1L1250.8 263.1Z"/>
<path fill="#343434" d="M1254.2 413.7L1255.9 414.6L1255.7 250.1L1253.9 249.2Z"/>
<path d="M1255.9 414.6L1281.8 401.5L1283.1 238.1L1255.7 250.1Z"/>
<path fill="#343434" d="M1255.9 414.6L1257.7 415.5L1257.5 267.1L1255.7 266.3Z"/>
<path d="M1257.7 415.5L1283.5 402.4L1284.8 255.1L1257.5 267.1Z"/>
<path fill="#343434" d="M1260.6 417.1L1262.3 418.1L1262.4 252.9L1260.6 252Z"/>
<path d="M1262.3 418.1L1288.1 404.8L1289.8 240.9L1262.4 252.9Z"/>
<path fill="#343434" d="M1262.3 418.1L1264 419L1264.2 271.2L1262.4 270.3Z"/>
<path d="M1264 419L1289.8 405.8L1291.5 259L1264.2 271.2Z"/>
<path fill="#343434" d="M1267 420.6L1268.7 421.5L1269.2 255.7L1267.4 254.8Z"/>
<path d="M1268.7 421.5L1294.5 408.2L1296.6 243.6L1269.2 255.7Z"/>
<path fill="#343434" d="M1268.7 421.5L1270.4 422.5L1271 275.2L1269.1 274.4Z"/>
<path d="M1270.4 422.5L1296.3 409.1L1298.2 263L1271 275.2Z"/>
<path fill="#343434" d="M1273.4 424.1L1275.1 425L1276 258.5L1274.2 257.7Z"/>
<path d="M1275.1 425L1301 411.6L1303.5 246.4L1276 258.5Z"/>
<path fill="#343434" d="M1275.1 425L1276.8 425.9L1277.8 279.3L1275.9 278.4Z"/>
<path d="M1276.8 425.9L1302.7 412.5L1305 267L1277.8 279.3Z"/>
<path fill="#343434" d="M1279.8 427.6L1281.6 428.5L1282.9 261.4L1281.1 260.5Z"/>
<path d="M1281.6 428.5L1307.4 415.1L1310.3 249.2L1282.9 261.4Z"/>
<path fill="#343434" d="M1281.6 428.5L1283.3 429.5L1284.6 283.4L1282.7 282.5Z"/>
<path d="M1283.3 429.5L1309.2 416L1311.8 271L1284.6 283.4Z"/>
<path fill="#343434" d="M1286.3 431.1L1288.1 432L1289.8 263.9L1288 263.1Z"/>
<path d="M1288.1 432L1313.9 418.5L1317.3 251.6L1289.8 263.9Z"/>
<path fill="#343434" d="M1288.1 432L1289.8 433L1291.5 286.6L1289.6 285.8Z"/>
<path d="M1289.8 433L1315.7 419.4L1318.7 274.2L1291.5 286.6Z"/>
<path fill="#343434" d="M1292.9 434.6L1294.6 435.6L1296.8 264.5L1295 263.7Z"/>
<path d="M1294.6 435.6L1320.5 422L1324.3 252.2L1296.8 264.5Z"/>
<path fill="#343434" d="M1294.6 435.6L1296.4 436.5L1298.4 289.9L1296.5 289Z"/>
<path d="M1296.4 436.5L1322.3 422.9L1325.6 277.3L1298.4 289.9Z"/>
<path fill="#343434" d="M1299.4 438.2L1301.2 439.2L1303.9 264.8L1302 264Z"/>
<path d="M1301.2 439.2L1327.1 425.5L1331.4 252.4L1303.9 264.8Z"/>
<path fill="#343434" d="M1301.2 439.2L1303 440.1L1305.4 293.2L1303.5 292.3Z"/>
<path d="M1303 440.1L1328.9 426.4L1332.6 280.6L1305.4 293.2Z"/>
<path fill="#343434" d="M1306.1 441.8L1307.9 442.7L1311 265.5L1309.1 264.6Z"/>
<path d="M1307.9 442.7L1333.7 429L1338.5 253L1311 265.5Z"/>
<path fill="#343434" d="M1307.9 442.7L1309.6 443.7L1312.4 296.5L1310.5 295.6Z"/>
<path d="M1309.6 443.7L1335.5 429.9L1339.6 283.8L1312.4 296.5Z"/>
<path fill="#343434" d="M1312.7 445.4L1314.5 446.4L1318.2 266.8L1316.3 265.9Z"/>
<path d="M1314.5 446.4L1340.4 432.5L1345.7 254.2L1318.2 266.8Z"/>
<path fill="#343434" d="M1314.5 446.4L1316.3 447.3L1319.4 300L1317.5 299.1Z"/>
<path d="M1316.3 447.3L1342.2 433.4L1346.7 287.2L1319.4 300Z"/>
<path fill="#343434" d="M1319.4 449L1321.2 450L1325.4 267.4L1323.5 266.5Z"/>
<path d="M1321.2 450L1347.1 436L1353 254.8L1325.4 267.4Z"/>
<path fill="#343434" d="M1321.2 450L1323.1 451L1326.5 303.5L1324.6 302.6Z"/>
<path d="M1323.1 451L1348.9 437L1353.8 290.6L1326.5 303.5Z"/>
<path fill="#343434" d="M1326.2 452.7L1328 453.7L1332.8 266.7L1330.8 265.8Z"/>
<path d="M1328 453.7L1353.9 439.6L1360.4 254.1L1332.8 266.7Z"/>
<path fill="#343434" d="M1328 453.7L1329.8 454.7L1333.7 307.1L1331.8 306.2Z"/>
<path d="M1329.8 454.7L1355.7 440.6L1360.9 294.1L1333.7 307.1Z"/>
<path fill="#343434" d="M1333 456.4L1334.8 457.3L1340.2 265.4L1338.2 264.5Z"/>
<path d="M1334.8 457.3L1360.6 443.2L1367.8 252.7L1340.2 265.4Z"/>
<path fill="#343434" d="M1334.8 457.3L1336.6 458.3L1340.9 310.7L1339 309.7Z"/>
<path d="M1336.6 458.3L1362.5 444.2L1368.1 297.6L1340.9 310.7Z"/>
<path fill="#343434" d="M1339.8 460.1L1341.6 461.1L1347.7 262.7L1345.8 261.8Z"/>
<path d="M1341.6 461.1L1367.5 446.8L1375.4 249.9L1347.7 262.7Z"/>
<path fill="#343434" d="M1341.6 461.1L1343.5 462.1L1348.1 316L1346.1 315.1Z"/>
<path d="M1343.5 462.1L1369.3 447.8L1375.3 302.8L1348.1 316Z"/>
<path fill="#343434" d="M1346.7 463.8L1348.5 464.8L1355.7 251.1L1353.7 250.2Z"/>
<path d="M1348.5 464.8L1374.4 450.5L1383.5 238.4L1355.7 251.1Z"/>
<path fill="#343434" d="M1348.5 464.8L1350.4 465.8L1355.3 321.4L1353.3 320.5Z"/>
<path d="M1350.4 465.8L1376.2 451.5L1382.5 308.1L1355.3 321.4Z"/>
<path fill="#343434" d="M1353.6 467.5L1355.4 468.5L1364.3 223.1L1362.3 222.2Z"/>
<path d="M1355.4 468.5L1381.3 454.1L1392.4 210.6L1364.3 223.1Z"/>
<path fill="#343434" d="M1355.4 468.5L1357.3 469.6L1362.4 333L1360.4 332.1Z"/>
<path d="M1357.3 469.6L1383.2 455.1L1389.5 319.6L1362.4 333Z"/>
<path fill="#343434" d="M1360.5 471.3L1362.4 472.3L1372.9 201.7L1370.9 200.8Z"/>
<path d="M1362.4 472.3L1388.3 457.8L1401.3 189.3L1372.9 201.7Z"/>
<path fill="#343434" d="M1362.4 472.3L1364.3 473.3L1369 354.2L1367 353.2Z"/>
<path d="M1364.3 473.3L1390.2 458.8L1396 340.5L1369 354.2Z"/>
<path fill="#343434" d="M1367.5 475.1L1369.4 476.1L1381.4 188.8L1379.3 187.9Z"/>
<path d="M1369.4 476.1L1395.3 461.5L1409.9 176.5L1381.4 188.8Z"/>
<path fill="#343434" d="M1369.4 476.1L1371.3 477.2L1374.2 409.6L1372.2 408.6Z"/>
<path d="M1371.3 477.2L1397.2 462.5L1400.7 395.4L1374.2 409.6Z"/>
<path fill="#343434" d="M1374.6 478.9L1376.5 480L1386.2 260.4L1384.2 259.5Z"/>
<path d="M1376.5 480L1402.3 465.3L1414.1 247.4L1386.2 260.4Z"/>
<path fill="#343434" d="M1376.5 480L1378.4 481L1380.7 430.2L1378.8 429.2Z"/>
<path d="M1378.4 481L1404.3 466.3L1407 415.8L1380.7 430.2Z"/>
<path fill="#343434" d="M1381.7 482.8L1383.6 483.8L1391.8 309L1389.8 308.1Z"/>
<path d="M1383.6 483.8L1409.5 469L1419.3 295.5L1391.8 309Z"/>
<path fill="#343434" d="M1383.6 483.8L1385.5 484.8L1387.6 440.6L1385.7 439.6Z"/>
<path d="M1385.5 484.8L1411.4 470.1L1413.9 426.1L1387.6 440.6Z"/>
<path fill="#343434" d="M1388.8 486.6L1390.8 487.7L1398.5 332.8L1396.4 331.9Z"/>
<path d="M1390.8 487.7L1416.6 472.8L1425.8 319.1L1398.5 332.8Z"/>
<path fill="#343434" d="M1390.8 487.7L1392.7 488.7L1395.9 425.4L1393.9 424.4Z"/>
<path d="M1392.7 488.7L1418.5 473.8L1422.3 411L1395.9 425.4Z"/>
<path fill="#343434" d="M1396 490.5L1398 491.6L1405.7 346L1403.6 345Z"/>
<path d="M1398 491.6L1423.8 476.6L1432.8 332.1L1405.7 346Z"/>
<path fill="#343434" d="M1398 491.6L1399.9 492.6L1403.9 418.4L1401.9 417.3Z"/>
<path d="M1399.9 492.6L1425.7 477.7L1430.4 403.9L1403.9 418.4Z"/>
<path fill="#343434" d="M1403.3 494.5L1405.2 495.5L1413 355.5L1410.9 354.5Z"/>
<path d="M1405.2 495.5L1431 480.5L1440.1 341.5L1413 355.5Z"/>
<path fill="#343434" d="M1405.2 495.5L1407.2 496.6L1411.8 414.3L1409.8 413.3Z"/>
<path d="M1407.2 496.6L1433 481.5L1438.4 399.8L1411.8 414.3Z"/>
<path fill="#343434" d="M1410.5 498.4L1412.5 499.5L1420.4 364.8L1418.3 363.8Z"/>
<path d="M1412.5 499.5L1438.3 484.3L1447.4 350.6L1420.4 364.8Z"/>
<path fill="#343434" d="M1412.5 499.5L1414.5 500.5L1419.7 411.8L1417.7 410.8Z"/>
<path d="M1414.5 500.5L1440.3 485.4L1446.4 397.3L1419.7 411.8Z"/>
<path fill="#343434" d="M1417.9 502.4L1419.9 503.5L1427.7 375.1L1425.7 374Z"/>
<path d="M1419.9 503.5L1445.7 488.2L1454.7 360.7L1427.7 375.1Z"/>
<path fill="#343434" d="M1419.9 503.5L1421.8 504.5L1427.6 411.8L1425.5 410.8Z"/>
<path d="M1421.8 504.5L1447.7 489.2L1454.3 397.2L1427.6 411.8Z"/>
<path fill="#343434" d="M1425.2 506.4L1427.2 507.5L1435 386.3L1433 385.3Z"/>
<path d="M1427.2 507.5L1453.1 492.1L1461.9 371.8L1435 386.3Z"/>
<path fill="#343434" d="M1427.2 507.5L1429.2 508.5L1435.5 413.1L1433.4 412.1Z"/>
<path d="M1429.2 508.5L1455 493.2L1462.1 398.4L1435.5 413.1Z"/>
<path fill="#343434" d="M1432.7 510.4L1434.7 511.5L1442.3 398.6L1440.2 397.5Z"/>
<path d="M1434.7 511.5L1460.5 496L1469.1 383.9L1442.3 398.6Z"/>
<path fill="#343434" d="M1434.7 511.5L1436.7 512.6L1443.4 414.4L1441.3 413.4Z"/>
<path d="M1436.7 512.6L1462.5 497.1L1470.1 399.6L1443.4 414.4Z"/>
<path fill="#343434" d="M1440.2 514.5L1442.2 515.6L1449.8 407.9L1447.6 406.9Z"/>
<path d="M1442.2 515.6L1468 500L1476.5 393.1L1449.8 407.9Z"/>
<path fill="#343434" d="M1442.2 515.6L1444.2 516.6L1451.3 417L1449.2 416Z"/>
<path d="M1444.2 516.6L1470 501.1L1478 402.1L1451.3 417Z"/>
<path fill="#343434" d="M1447.7 518.5L1449.7 519.6L1457.2 417.3L1455.1 416.2Z"/>
<path d="M1449.7 519.6L1475.5 504L1483.9 402.4L1457.2 417.3Z"/>
<path fill="#343434" d="M1449.7 519.6L1451.8 520.7L1458.9 424.8L1456.8 423.7Z"/>
<path d="M1451.8 520.7L1477.5 505.1L1485.5 409.8L1458.9 424.8Z"/>
</g>
<g fill="#5000b4" stroke="#240051" stroke-width="0.8" stroke-linejoin="round">
<path fill="#340076" d="M1142.7 392.3L1144.2 393.2L1136.6 215.1L1134.9 214.4Z"/>
<path d="M1144.2 393.2L1170.8 380.5L1165 203.8L1136.6 215.1Z"/>
<path fill="#340076" d="M1144.2 393.2L1145.8 394L1139.3 239.7L1137.6 238.9Z"/>
<path d="M1145.8 394L1172.4 381.4L1167.5 228.1L1139.3 239.7Z"/>
<path fill="#340076" d="M1148.5 395.6L1150.1 396.5L1143.2 226.1L1141.5 225.3Z"/>
<path d="M1150.1 396.5L1176.7 383.7L1171.5 214.6L1143.2 226.1Z"/>
<path fill="#340076" d="M1150.1 396.5L1151.7 397.4L1145.5 243.2L1143.9 242.4Z"/>
<path d="M1151.7 397.4L1178.3 384.6L1173.7 231.6L1145.5 243.2Z"/>
<path fill="#340076" d="M1154.5 398.9L1156.1 399.8L1149.7 234.8L1148 234Z"/>
<path d="M1156.1 399.8L1182.7 387L1178 223.2L1149.7 234.8Z"/>
<path fill="#340076" d="M1156.1 399.8L1157.7 400.7L1151.8 246.8L1150.1 246Z"/>
<path d="M1157.7 400.7L1184.3 387.9L1180 235.1L1151.8 246.8Z"/>
<path fill="#340076" d="M1160.4 402.2L1162 403.1L1156.1 241L1154.4 240.2Z"/>
<path d="M1162 403.1L1188.7 390.3L1184.4 229.3L1156.1 241Z"/>
<path fill="#340076" d="M1162 403.1L1163.6 404L1158.1 250.4L1156.4 249.6Z"/>
<path d="M1163.6 404L1190.3 391.2L1186.3 238.7L1158.1 250.4Z"/>
<path fill="#340076" d="M1166.4 405.6L1168 406.5L1162.5 244.3L1160.8 243.5Z"/>
<path d="M1168 406.5L1194.7 393.6L1190.8 232.5L1162.5 244.3Z"/>
<path fill="#340076" d="M1168 406.5L1169.6 407.4L1164.5 254.1L1162.8 253.2Z"/>
<path d="M1169.6 407.4L1196.3 394.5L1192.7 242.2L1164.5 254.1Z"/>
<path fill="#340076" d="M1172.4 409L1174.1 409.9L1168.9 247.6L1167.1 246.8Z"/>
<path d="M1174.1 409.9L1200.7 396.9L1197.2 235.8L1168.9 247.6Z"/>
<path fill="#340076" d="M1174.1 409.9L1175.7 410.8L1170.9 257.7L1169.2 256.9Z"/>
<path d="M1175.7 410.8L1202.3 397.8L1199.1 245.8L1170.9 257.7Z"/>
<path fill="#340076" d="M1178.5 412.4L1180.1 413.3L1175.3 251L1173.6 250.1Z"/>
<path d="M1180.1 413.3L1206.8 400.2L1203.6 239.1L1175.3 251Z"/>
<path fill="#340076" d="M1180.1 413.3L1181.8 414.2L1177.3 261.4L1175.6 260.6Z"/>
<path d="M1181.8 414.2L1208.4 401.1L1205.5 249.4L1177.3 261.4Z"/>
<path fill="#340076" d="M1184.6 415.8L1186.2 416.8L1181.8 254.4L1180 253.5Z"/>
<path d="M1186.2 416.8L1212.9 403.6L1210.1 242.4L1181.8 254.4Z"/>
<path fill="#340076" d="M1186.2 416.8L1187.9 417.7L1183.8 265.1L1182 264.2Z"/>
<path d="M1187.9 417.7L1214.6 404.5L1212 253L1183.8 265.1Z"/>
<path fill="#340076" d="M1190.7 419.3L1192.4 420.2L1188.3 257.7L1186.5 256.9Z"/>
<path d="M1192.4 420.2L1219.1 406.9L1216.6 245.7L1188.3 257.7Z"/>
<path fill="#340076" d="M1192.4 420.2L1194 421.1L1190.3 268.8L1188.5 268Z"/>
<path d="M1194 421.1L1220.7 407.9L1218.5 256.6L1190.3 268.8Z"/>
<path fill="#340076" d="M1196.9 422.7L1198.6 423.7L1194.8 260.5L1193 259.7Z"/>
<path d="M1198.6 423.7L1225.3 410.3L1223.2 248.4L1194.8 260.5Z"/>
<path fill="#340076" d="M1198.6 423.7L1200.2 424.6L1196.8 272.9L1195.1 272Z"/>
<path d="M1200.2 424.6L1226.9 411.3L1225.1 260.6L1196.8 272.9Z"/>
<path fill="#340076" d="M1203.1 426.2L1204.8 427.2L1201.4 263.4L1199.6 262.5Z"/>
<path d="M1204.8 427.2L1231.5 413.8L1229.8 251.1L1201.4 263.4Z"/>
<path fill="#340076" d="M1204.8 427.2L1206.5 428.1L1203.4 277L1201.7 276.1Z"/>
<path d="M1206.5 428.1L1233.2 414.7L1231.7 264.6L1203.4 277Z"/>
<path fill="#340076" d="M1209.4 429.7L1211.1 430.7L1208 266.2L1206.2 265.3Z"/>
<path d="M1211.1 430.7L1237.8 417.2L1236.4 253.9L1208 266.2Z"/>
<path fill="#340076" d="M1211.1 430.7L1212.7 431.6L1210.1 281.1L1208.3 280.2Z"/>
<path d="M1212.7 431.6L1239.5 418.1L1238.3 268.6L1210.1 281.1Z"/>
<path fill="#340076" d="M1215.6 433.3L1217.4 434.2L1214.7 269L1212.9 268.2Z"/>
<path d="M1217.4 434.2L1244.1 420.6L1243.1 256.7L1214.7 269Z"/>
<path fill="#340076" d="M1217.4 434.2L1219.1 435.2L1216.7 285.2L1214.9 284.3Z"/>
<path d="M1219.1 435.2L1245.8 421.6L1245 272.7L1216.7 285.2Z"/>
<path fill="#340076" d="M1222 436.8L1223.7 437.8L1221.4 271.9L1219.6 271Z"/>
<path d="M1223.7 437.8L1250.4 424.1L1249.8 259.5L1221.4 271.9Z"/>
<path fill="#340076" d="M1223.7 437.8L1225.4 438.8L1223.4 289.4L1221.6 288.5Z"/>
<path d="M1225.4 438.8L1252.1 425.1L1251.7 276.8L1223.4 289.4Z"/>
<path fill="#340076" d="M1228.3 440.4L1230.1 441.4L1228.2 274.8L1226.3 273.9Z"/>
<path d="M1230.1 441.4L1256.8 427.6L1256.6 262.3L1228.2 274.8Z"/>
<path fill="#340076" d="M1230.1 441.4L1231.8 442.3L1230.2 293.5L1228.4 292.6Z"/>
<path d="M1231.8 442.3L1258.5 428.6L1258.4 280.8L1230.2 293.5Z"/>
<path fill="#340076" d="M1234.8 444L1236.5 445L1235 277.7L1233.1 276.8Z"/>
<path d="M1236.5 445L1263.2 431.1L1263.4 265.1L1235 277.7Z"/>
<path fill="#340076" d="M1236.5 445L1238.2 446L1237 297.7L1235.2 296.8Z"/>
<path d="M1238.2 446L1265 432.1L1265.2 285L1237 297.7Z"/>
<path fill="#340076" d="M1241.2 447.6L1242.9 448.6L1241.8 280.7L1240 279.8Z"/>
<path d="M1242.9 448.6L1269.7 434.7L1270.3 268L1241.8 280.7Z"/>
<path fill="#340076" d="M1242.9 448.6L1244.7 449.6L1243.8 302L1242 301.1Z"/>
<path d="M1244.7 449.6L1271.4 435.6L1272.1 289.1L1243.8 302Z"/>
<path fill="#340076" d="M1247.7 451.3L1249.4 452.3L1248.8 283.3L1246.9 282.4Z"/>
<path d="M1249.4 452.3L1276.2 438.3L1277.2 270.6L1248.8 283.3Z"/>
<path fill="#340076" d="M1249.4 452.3L1251.2 453.3L1250.7 305.3L1248.8 304.4Z"/>
<path d="M1251.2 453.3L1278 439.2L1278.9 292.4L1250.7 305.3Z"/>
<path fill="#340076" d="M1254.2 454.9L1256 455.9L1255.7 284L1253.8 283.1Z"/>
<path d="M1256 455.9L1282.7 441.8L1284.2 271.2L1255.7 284Z"/>
<path fill="#340076" d="M1256 455.9L1257.8 456.9L1257.6 308.7L1255.7 307.8Z"/>
<path d="M1257.8 456.9L1284.5 442.8L1285.9 295.7L1257.6 308.7Z"/>
<path fill="#340076" d="M1260.8 458.6L1262.6 459.6L1262.7 284.4L1260.8 283.5Z"/>
<path d="M1262.6 459.6L1289.3 445.5L1291.2 271.5L1262.7 284.4Z"/>
<path fill="#340076" d="M1262.6 459.6L1264.3 460.6L1264.6 312.2L1262.7 311.2Z"/>
<path d="M1264.3 460.6L1291.1 446.4L1292.8 299L1264.6 312.2Z"/>
<path fill="#340076" d="M1267.4 462.4L1269.2 463.4L1269.8 285.2L1267.9 284.2Z"/>
<path d="M1269.2 463.4L1296 449.1L1298.3 272.2L1269.8 285.2Z"/>
<path fill="#340076" d="M1269.2 463.4L1271 464.4L1271.6 315.6L1269.7 314.7Z"/>
<path d="M1271 464.4L1297.8 450.1L1299.8 302.4L1271.6 315.6Z"/>
<path fill="#340076" d="M1274.1 466.1L1275.9 467.1L1276.9 286.6L1275 285.6Z"/>
<path d="M1275.9 467.1L1302.6 452.7L1305.5 273.5L1276.9 286.6Z"/>
<path fill="#340076" d="M1275.9 467.1L1277.7 468.1L1278.6 319.2L1276.7 318.3Z"/>
<path d="M1277.7 468.1L1304.4 453.7L1306.9 305.9L1278.6 319.2Z"/>
<path fill="#340076" d="M1280.7 469.9L1282.6 470.9L1284.1 287.3L1282.2 286.4Z"/>
<path d="M1282.6 470.9L1309.3 456.4L1312.7 274.2L1284.1 287.3Z"/>
<path fill="#340076" d="M1282.6 470.9L1284.4 471.9L1285.7 322.9L1283.8 321.9Z"/>
<path d="M1284.4 471.9L1311.2 457.4L1314 309.5L1285.7 322.9Z"/>
<path fill="#340076" d="M1287.5 473.6L1289.3 474.7L1291.4 286.7L1289.4 285.8Z"/>
<path d="M1289.3 474.7L1316.1 460.1L1320 273.6L1291.4 286.7Z"/>
<path fill="#340076" d="M1289.3 474.7L1291.1 475.7L1292.9 326.5L1291 325.6Z"/>
<path d="M1291.1 475.7L1317.9 461.1L1321.2 313.1L1292.9 326.5Z"/>
<path fill="#340076" d="M1294.3 477.5L1296.1 478.5L1298.7 285.4L1296.8 284.5Z"/>
<path d="M1296.1 478.5L1322.9 463.8L1327.4 272.2L1298.7 285.4Z"/>
<path fill="#340076" d="M1296.1 478.5L1297.9 479.5L1300.1 330.2L1298.1 329.3Z"/>
<path d="M1297.9 479.5L1324.7 464.9L1328.4 316.7L1300.1 330.2Z"/>
<path fill="#340076" d="M1301.1 481.3L1302.9 482.3L1306.2 282.8L1304.2 281.8Z"/>
<path d="M1302.9 482.3L1329.7 467.6L1335 269.5L1306.2 282.8Z"/>
<path fill="#340076" d="M1302.9 482.3L1304.8 483.4L1307.3 335.8L1305.4 334.8Z"/>
<path d="M1304.8 483.4L1331.6 468.6L1335.6 322.1L1307.3 335.8Z"/>
<path fill="#340076" d="M1308 485.2L1309.8 486.2L1313.9 271.2L1311.9 270.3Z"/>
<path d="M1309.8 486.2L1336.6 471.4L1342.8 258L1313.9 271.2Z"/>
<path fill="#340076" d="M1309.8 486.2L1311.7 487.2L1314.6 341.3L1312.6 340.4Z"/>
<path d="M1311.7 487.2L1338.5 472.4L1342.8 327.5L1314.6 341.3Z"/>
<path fill="#340076" d="M1314.9 489L1316.8 490.1L1322.1 242.9L1320.1 242Z"/>
<path d="M1316.8 490.1L1343.5 475.2L1351.3 229.9L1322.1 242.9Z"/>
<path fill="#340076" d="M1316.8 490.1L1318.6 491.1L1321.7 353.1L1319.7 352.2Z"/>
<path d="M1318.6 491.1L1345.4 476.2L1349.9 339.2L1321.7 353.1Z"/>
<path fill="#340076" d="M1321.8 492.9L1323.7 494L1330 234.6L1328 233.7Z"/>
<path d="M1323.7 494L1350.5 479L1359.4 221.6L1330 234.6Z"/>
<path fill="#340076" d="M1323.7 494L1325.6 495.1L1328.6 374.7L1326.7 373.7Z"/>
<path d="M1325.6 495.1L1352.4 480L1356.6 360.5L1328.6 374.7Z"/>
<path fill="#340076" d="M1328.9 496.9L1330.7 497.9L1338.2 223.3L1336.1 222.3Z"/>
<path d="M1330.7 497.9L1357.5 482.8L1367.7 210.3L1338.2 223.3Z"/>
<path fill="#340076" d="M1330.7 497.9L1332.6 499L1334.5 430.8L1332.6 429.7Z"/>
<path d="M1332.6 499L1359.4 483.9L1362 416.1L1334.5 430.8Z"/>
<path fill="#340076" d="M1335.9 500.8L1337.8 501.9L1344.2 286.9L1342.2 285.9Z"/>
<path d="M1337.8 501.9L1364.6 486.7L1373.1 273.3L1344.2 286.9Z"/>
<path fill="#340076" d="M1337.8 501.9L1339.7 503L1341.3 451.7L1339.3 450.6Z"/>
<path d="M1339.7 503L1366.5 487.8L1368.6 436.8L1341.3 451.7Z"/>
<path fill="#340076" d="M1343 504.8L1344.9 505.9L1350.6 331.2L1348.6 330.3Z"/>
<path d="M1344.9 505.9L1371.7 490.6L1379.1 317.2L1350.6 331.2Z"/>
<path fill="#340076" d="M1344.9 505.9L1346.8 507L1348.3 462.3L1346.4 461.3Z"/>
<path d="M1346.8 507L1373.6 491.7L1375.6 447.3L1348.3 462.3Z"/>
<path fill="#340076" d="M1350.1 508.8L1352.1 509.9L1357.7 352.4L1355.6 351.4Z"/>
<path d="M1352.1 509.9L1378.9 494.5L1386 338.1L1357.7 352.4Z"/>
<path fill="#340076" d="M1352.1 509.9L1354 511L1356.3 447.1L1354.3 446Z"/>
<path d="M1354 511L1380.8 495.6L1383.7 432.1L1356.3 447.1Z"/>
<path fill="#340076" d="M1357.3 512.9L1359.3 514L1364.9 367.5L1362.8 366.5Z"/>
<path d="M1359.3 514L1386.1 498.5L1393.1 353L1364.9 367.5Z"/>
<path fill="#340076" d="M1359.3 514L1361.2 515.1L1364.2 440L1362.2 439Z"/>
<path d="M1361.2 515.1L1388 499.5L1391.7 425L1364.2 440Z"/>
<path fill="#340076" d="M1364.6 517L1366.5 518.1L1372.3 378.6L1370.2 377.6Z"/>
<path d="M1366.5 518.1L1393.3 502.4L1400.4 364L1372.3 378.6Z"/>
<path fill="#340076" d="M1366.5 518.1L1368.5 519.2L1372 436.1L1370 435Z"/>
<path d="M1368.5 519.2L1395.3 503.5L1399.6 421L1372 436.1Z"/>
<path fill="#340076" d="M1371.9 521.1L1373.8 522.2L1379.7 389.7L1377.6 388.7Z"/>
<path d="M1373.8 522.2L1400.6 506.4L1407.7 374.9L1379.7 389.7Z"/>
<path fill="#340076" d="M1373.8 522.2L1375.8 523.3L1379.8 433.6L1377.8 432.6Z"/>
<path d="M1375.8 523.3L1402.6 507.5L1407.5 418.5L1379.8 433.6Z"/>
<path fill="#340076" d="M1379.2 525.2L1381.2 526.3L1387.3 397.2L1385.2 396.2Z"/>
<path d="M1381.2 526.3L1408 510.5L1415.3 382.3L1387.3 397.2Z"/>
<path fill="#340076" d="M1381.2 526.3L1383.2 527.4L1387.7 433.8L1385.6 432.7Z"/>
<path d="M1383.2 527.4L1410 511.6L1415.3 418.6L1387.7 433.8Z"/>
<path fill="#340076" d="M1386.6 529.3L1388.6 530.5L1394.8 406.4L1392.7 405.3Z"/>
<path d="M1388.6 530.5L1415.4 514.5L1422.8 391.4L1394.8 406.4Z"/>
<path fill="#340076" d="M1388.6 530.5L1390.6 531.6L1395.5 435.2L1393.4 434.1Z"/>
<path d="M1390.6 531.6L1417.4 515.6L1423.2 419.9L1395.5 435.2Z"/>
<path fill="#340076" d="M1394 533.5L1396 534.6L1402.2 418.9L1400.1 417.8Z"/>
<path d="M1396 534.6L1422.8 518.6L1430 403.7L1402.2 418.9Z"/>
<path fill="#340076" d="M1396 534.6L1398.1 535.8L1403.4 436.6L1401.3 435.5Z"/>
<path d="M1398.1 535.8L1424.8 519.7L1431.1 421.2L1403.4 436.6Z"/>
<path fill="#340076" d="M1401.5 537.7L1403.5 538.9L1409.6 429.8L1407.5 428.7Z"/>
<path d="M1403.5 538.9L1430.3 522.7L1437.4 414.4L1409.6 429.8Z"/>
<path fill="#340076" d="M1403.5 538.9L1405.6 540L1411.3 439.3L1409.2 438.2Z"/>
<path d="M1405.6 540L1432.3 523.8L1439 423.9L1411.3 439.3Z"/>
<path fill="#340076" d="M1409.1 541.9L1411.1 543.1L1417.2 439.7L1415.1 438.6Z"/>
<path d="M1411.1 543.1L1437.8 526.8L1444.9 424.2L1417.2 439.7Z"/>
<path fill="#340076" d="M1411.1 543.1L1413.1 544.2L1418.9 447.3L1416.8 446.2Z"/>
<path d="M1413.1 544.2L1439.9 528L1446.6 431.7L1418.9 447.3Z"/>
</g>
<g fill="#0a5c5c" stroke="#042929" stroke-width="0.8" stroke-linejoin="round">
<path fill="#063c3c" d="M1102.9 411.1L1104.5 412L1094.7 241.7L1093 240.9Z"/>
<path d="M1104.5 412L1132 399L1124 229.9L1094.7 241.7Z"/>
<path fill="#063c3c" d="M1104.5 412L1106.1 412.9L1097.5 263.3L1095.9 262.4Z"/>
<path d="M1106.1 412.9L1133.6 399.9L1126.6 251.3L1097.5 263.3Z"/>
<path fill="#063c3c" d="M1108.8 414.5L1110.4 415.4L1100.7 242.6L1099.1 241.7Z"/>
<path d="M1110.4 415.4L1137.9 402.3L1130.1 230.7L1100.7 242.6Z"/>
<path fill="#063c3c" d="M1110.4 415.4L1112 416.4L1103.7 267L1102.1 266.1Z"/>
<path d="M1112 416.4L1139.5 403.2L1132.8 254.9L1103.7 267Z"/>
<path fill="#063c3c" d="M1114.7 418L1116.3 418.9L1107 245L1105.3 244.2Z"/>
<path d="M1116.3 418.9L1143.8 405.7L1136.4 233.1L1107 245Z"/>
<path fill="#063c3c" d="M1116.3 418.9L1117.9 419.8L1110 270.7L1108.3 269.8Z"/>
<path d="M1117.9 419.8L1145.4 406.6L1139.1 258.5L1110 270.7Z"/>
<path fill="#063c3c" d="M1120.6 421.4L1122.2 422.4L1113.5 252.7L1111.8 251.8Z"/>
<path d="M1122.2 422.4L1149.8 409.1L1142.9 240.6L1113.5 252.7Z"/>
<path fill="#063c3c" d="M1122.2 422.4L1123.8 423.3L1116.3 274.4L1114.6 273.5Z"/>
<path d="M1123.8 423.3L1151.4 410L1145.4 262.2L1116.3 274.4Z"/>
<path fill="#063c3c" d="M1126.6 424.9L1128.2 425.8L1120.1 260.7L1118.4 259.8Z"/>
<path d="M1128.2 425.8L1155.8 412.5L1149.4 248.5L1120.1 260.7Z"/>
<path fill="#063c3c" d="M1128.2 425.8L1129.8 426.8L1122.6 278.2L1120.9 277.3Z"/>
<path d="M1129.8 426.8L1157.4 413.4L1151.7 265.8L1122.6 278.2Z"/>
<path fill="#063c3c" d="M1132.6 428.4L1134.2 429.4L1126.5 266.4L1124.8 265.6Z"/>
<path d="M1134.2 429.4L1161.8 415.9L1155.9 254.2L1126.5 266.4Z"/>
<path fill="#063c3c" d="M1134.2 429.4L1135.9 430.3L1128.9 282L1127.2 281.1Z"/>
<path d="M1135.9 430.3L1163.4 416.8L1158.1 269.5L1128.9 282Z"/>
<path fill="#063c3c" d="M1138.7 431.9L1140.3 432.9L1133 269.9L1131.2 269Z"/>
<path d="M1140.3 432.9L1167.9 419.3L1162.3 257.5L1133 269.9Z"/>
<path fill="#063c3c" d="M1140.3 432.9L1141.9 433.8L1135.4 285.8L1133.6 284.9Z"/>
<path d="M1141.9 433.8L1169.5 420.3L1164.5 273.3L1135.4 285.8Z"/>
<path fill="#063c3c" d="M1144.7 435.5L1146.4 436.4L1139.4 273.3L1137.7 272.4Z"/>
<path d="M1146.4 436.4L1174 422.8L1168.8 260.9L1139.4 273.3Z"/>
<path fill="#063c3c" d="M1146.4 436.4L1148 437.4L1141.8 289.6L1140.1 288.7Z"/>
<path d="M1148 437.4L1175.6 423.7L1171 277L1141.8 289.6Z"/>
<path fill="#063c3c" d="M1150.9 439L1152.5 440L1145.9 276.8L1144.1 275.9Z"/>
<path d="M1152.5 440L1180.1 426.3L1175.3 264.3L1145.9 276.8Z"/>
<path fill="#063c3c" d="M1152.5 440L1154.2 441L1148.3 293.4L1146.5 292.6Z"/>
<path d="M1154.2 441L1181.8 427.2L1177.5 280.8L1148.3 293.4Z"/>
<path fill="#063c3c" d="M1157 442.6L1158.7 443.6L1152.4 279.6L1150.6 278.8Z"/>
<path d="M1158.7 443.6L1186.3 429.8L1181.8 267.1L1152.4 279.6Z"/>
<path fill="#063c3c" d="M1158.7 443.6L1160.3 444.6L1154.8 297.6L1153.1 296.7Z"/>
<path d="M1160.3 444.6L1188 430.8L1184 284.9L1154.8 297.6Z"/>
<path fill="#063c3c" d="M1163.2 446.3L1164.9 447.2L1159 282.5L1157.2 281.6Z"/>
<path d="M1164.9 447.2L1192.5 433.3L1188.4 269.9L1159 282.5Z"/>
<path fill="#063c3c" d="M1164.9 447.2L1166.6 448.2L1161.4 301.9L1159.6 301Z"/>
<path d="M1166.6 448.2L1194.2 434.3L1190.6 289L1161.4 301.9Z"/>
<path fill="#063c3c" d="M1169.4 449.9L1171.1 450.9L1165.6 285.4L1163.8 284.6Z"/>
<path d="M1171.1 450.9L1198.8 436.9L1195 272.7L1165.6 285.4Z"/>
<path fill="#063c3c" d="M1171.1 450.9L1172.8 451.9L1168 306.1L1166.2 305.2Z"/>
<path d="M1172.8 451.9L1200.5 437.9L1197.2 293.2L1168 306.1Z"/>
<path fill="#063c3c" d="M1175.7 453.5L1177.4 454.5L1172.2 288.4L1170.4 287.5Z"/>
<path d="M1177.4 454.5L1205.1 440.5L1201.6 275.5L1172.2 288.4Z"/>
<path fill="#063c3c" d="M1177.4 454.5L1179.1 455.5L1174.7 310.4L1172.9 309.5Z"/>
<path d="M1179.1 455.5L1206.8 441.4L1203.9 297.4L1174.7 310.4Z"/>
<path fill="#063c3c" d="M1182 457.2L1183.7 458.2L1178.9 291.3L1177.1 290.4Z"/>
<path d="M1183.7 458.2L1211.4 444.1L1208.3 278.4L1178.9 291.3Z"/>
<path fill="#063c3c" d="M1183.7 458.2L1185.4 459.2L1181.3 314.7L1179.5 313.8Z"/>
<path d="M1185.4 459.2L1213.1 445.1L1210.6 301.6L1181.3 314.7Z"/>
<path fill="#063c3c" d="M1188.4 460.9L1190.1 461.9L1185.6 294.3L1183.8 293.4Z"/>
<path d="M1190.1 461.9L1217.8 447.7L1215.1 281.3L1185.6 294.3Z"/>
<path fill="#063c3c" d="M1190.1 461.9L1191.8 462.9L1188.1 319L1186.3 318.1Z"/>
<path d="M1191.8 462.9L1219.5 448.7L1217.3 305.8L1188.1 319Z"/>
<path fill="#063c3c" d="M1194.8 464.7L1196.5 465.7L1192.4 297.3L1190.6 296.4Z"/>
<path d="M1196.5 465.7L1224.2 451.3L1221.9 284.2L1192.4 297.3Z"/>
<path fill="#063c3c" d="M1196.5 465.7L1198.2 466.7L1194.9 323.4L1193 322.4Z"/>
<path d="M1198.2 466.7L1225.9 452.3L1224.1 310.1L1194.9 323.4Z"/>
<path fill="#063c3c" d="M1201.2 468.4L1202.9 469.4L1199.3 300.3L1197.4 299.4Z"/>
<path d="M1202.9 469.4L1230.6 455L1228.8 287.1L1199.3 300.3Z"/>
<path fill="#063c3c" d="M1202.9 469.4L1204.7 470.4L1201.7 327.8L1199.8 326.8Z"/>
<path d="M1204.7 470.4L1232.4 456L1230.9 314.4L1201.7 327.8Z"/>
<path fill="#063c3c" d="M1207.7 472.2L1209.4 473.2L1206.1 303.1L1204.3 302.2Z"/>
<path d="M1209.4 473.2L1237.1 458.7L1235.7 289.9L1206.1 303.1Z"/>
<path fill="#063c3c" d="M1209.4 473.2L1211.2 474.2L1208.5 331.3L1206.7 330.3Z"/>
<path d="M1211.2 474.2L1238.9 459.7L1237.7 317.8L1208.5 331.3Z"/>
<path fill="#063c3c" d="M1214.2 476L1216 477L1213 303.9L1211.2 303Z"/>
<path d="M1216 477L1243.7 462.4L1242.6 290.6L1213 303.9Z"/>
<path fill="#063c3c" d="M1216 477L1217.7 478.1L1215.4 334.8L1213.5 333.9Z"/>
<path d="M1217.7 478.1L1245.4 463.4L1244.6 321.2L1215.4 334.8Z"/>
<path fill="#063c3c" d="M1220.8 479.8L1222.5 480.9L1220 304.4L1218.1 303.5Z"/>
<path d="M1222.5 480.9L1250.3 466.2L1249.6 291L1220 304.4Z"/>
<path fill="#063c3c" d="M1222.5 480.9L1224.3 481.9L1222.3 338.4L1220.5 337.4Z"/>
<path d="M1224.3 481.9L1252 467.2L1251.6 324.7L1222.3 338.4Z"/>
<path fill="#063c3c" d="M1227.4 483.7L1229.1 484.7L1227 305.2L1225.1 304.3Z"/>
<path d="M1229.1 484.7L1256.9 469.9L1256.6 291.8L1227 305.2Z"/>
<path fill="#063c3c" d="M1229.1 484.7L1230.9 485.8L1229.3 342L1227.4 341Z"/>
<path d="M1230.9 485.8L1258.7 470.9L1258.6 328.2L1229.3 342Z"/>
<path fill="#063c3c" d="M1234 487.5L1235.8 488.6L1234.1 306.7L1232.2 305.8Z"/>
<path d="M1235.8 488.6L1263.5 473.7L1263.8 293.2L1234.1 306.7Z"/>
<path fill="#063c3c" d="M1235.8 488.6L1237.6 489.6L1236.3 345.7L1234.4 344.8Z"/>
<path d="M1237.6 489.6L1265.3 474.7L1265.6 331.9L1236.3 345.7Z"/>
<path fill="#063c3c" d="M1240.7 491.4L1242.5 492.5L1241.2 307.6L1239.3 306.6Z"/>
<path d="M1242.5 492.5L1270.2 477.5L1270.9 294L1241.2 307.6Z"/>
<path fill="#063c3c" d="M1242.5 492.5L1244.3 493.6L1243.4 349.5L1241.5 348.5Z"/>
<path d="M1244.3 493.6L1272.1 478.6L1272.7 335.6L1243.4 349.5Z"/>
<path fill="#063c3c" d="M1247.4 495.4L1249.2 496.4L1248.4 307.1L1246.5 306.1Z"/>
<path d="M1249.2 496.4L1277 481.4L1278.2 293.4L1248.4 307.1Z"/>
<path fill="#063c3c" d="M1249.2 496.4L1251.1 497.5L1250.5 353.4L1248.6 352.4Z"/>
<path d="M1251.1 497.5L1278.8 482.4L1279.8 339.3L1250.5 353.4Z"/>
<path fill="#063c3c" d="M1254.2 499.3L1256 500.4L1255.7 305.9L1253.7 304.9Z"/>
<path d="M1256 500.4L1283.8 485.2L1285.5 292.2L1255.7 305.9Z"/>
<path fill="#063c3c" d="M1256 500.4L1257.9 501.5L1257.7 357.2L1255.8 356.2Z"/>
<path d="M1257.9 501.5L1285.6 486.3L1287 343.1L1257.7 357.2Z"/>
<path fill="#063c3c" d="M1261 503.3L1262.9 504.4L1263.1 303.3L1261.1 302.3Z"/>
<path d="M1262.9 504.4L1290.6 489.1L1292.9 289.6L1263.1 303.3Z"/>
<path fill="#063c3c" d="M1262.9 504.4L1264.7 505.5L1264.9 362.9L1263 361.9Z"/>
<path d="M1264.7 505.5L1292.5 490.2L1294.2 348.6L1264.9 362.9Z"/>
<path fill="#063c3c" d="M1267.9 507.3L1269.7 508.4L1270.5 291.7L1268.5 290.7Z"/>
<path d="M1269.7 508.4L1297.5 493L1300.6 278L1270.5 291.7Z"/>
<path fill="#063c3c" d="M1269.7 508.4L1271.6 509.5L1272.2 368.6L1270.2 367.6Z"/>
<path d="M1271.6 509.5L1299.4 494.1L1301.5 354.2L1272.2 368.6Z"/>
<path fill="#063c3c" d="M1274.8 511.3L1276.7 512.4L1278.2 263.1L1276.2 262.2Z"/>
<path d="M1276.7 512.4L1304.4 497L1308.6 249.6L1278.2 263.1Z"/>
<path fill="#063c3c" d="M1276.7 512.4L1278.5 513.5L1279.5 380.6L1277.5 379.6Z"/>
<path d="M1278.5 513.5L1306.3 498L1308.6 366.1L1279.5 380.6Z"/>
<path fill="#063c3c" d="M1281.7 515.4L1283.6 516.5L1286.1 246.8L1284 245.9Z"/>
<path d="M1283.6 516.5L1311.4 500.9L1316.7 233.4L1286.1 246.8Z"/>
<path fill="#063c3c" d="M1283.6 516.5L1285.5 517.6L1286.6 402.5L1284.7 401.4Z"/>
<path d="M1285.5 517.6L1313.3 502L1315.6 387.7L1286.6 402.5Z"/>
<path fill="#063c3c" d="M1288.7 519.5L1290.6 520.6L1293.7 256.2L1291.7 255.2Z"/>
<path d="M1290.6 520.6L1318.4 504.9L1324.3 242.6L1293.7 256.2Z"/>
<path fill="#063c3c" d="M1290.6 520.6L1292.5 521.7L1293.3 459L1291.4 457.9Z"/>
<path d="M1292.5 521.7L1320.3 506L1321.8 443.8L1293.3 459Z"/>
<path fill="#063c3c" d="M1295.8 523.6L1297.7 524.7L1300.7 318.8L1298.6 317.8Z"/>
<path d="M1297.7 524.7L1325.5 508.9L1330.6 304.6L1300.7 318.8Z"/>
<path fill="#063c3c" d="M1297.7 524.7L1299.6 525.8L1300.3 480.2L1298.4 479.1Z"/>
<path d="M1299.6 525.8L1327.4 510L1328.6 464.7L1300.3 480.2Z"/>
<path fill="#063c3c" d="M1302.9 527.7L1304.8 528.8L1307.8 356.4L1305.7 355.3Z"/>
<path d="M1304.8 528.8L1332.6 513L1337.4 341.8L1307.8 356.4Z"/>
<path fill="#063c3c" d="M1304.8 528.8L1306.7 530L1307.4 491.1L1305.5 490Z"/>
<path d="M1306.7 530L1334.5 514.1L1335.6 475.4L1307.4 491.1Z"/>
<path fill="#063c3c" d="M1310 531.9L1312 533L1315.1 377.5L1313 376.5Z"/>
<path d="M1312 533L1339.7 517L1344.5 362.7L1315.1 377.5Z"/>
<path fill="#063c3c" d="M1312 533L1313.9 534.1L1315.1 475.9L1313.1 474.8Z"/>
<path d="M1313.9 534.1L1341.7 518.1L1343.5 460.2L1315.1 475.9Z"/>
<path fill="#063c3c" d="M1317.2 536.1L1319.2 537.2L1322.5 392.9L1320.4 391.8Z"/>
<path d="M1319.2 537.2L1347 521.1L1351.8 377.8L1322.5 392.9Z"/>
<path fill="#063c3c" d="M1319.2 537.2L1321.1 538.4L1322.8 468.9L1320.8 467.8Z"/>
<path d="M1321.1 538.4L1348.9 522.2L1351.3 453.3L1322.8 468.9Z"/>
<path fill="#063c3c" d="M1324.5 540.3L1326.4 541.5L1330 403.9L1327.9 402.8Z"/>
<path d="M1326.4 541.5L1354.2 525.2L1359.2 388.6L1330 403.9Z"/>
<path fill="#063c3c" d="M1326.4 541.5L1328.4 542.6L1330.4 465.1L1328.4 464Z"/>
<path d="M1328.4 542.6L1356.2 526.4L1359 449.4L1330.4 465.1Z"/>
<path fill="#063c3c" d="M1331.7 544.6L1333.7 545.7L1337.6 411.2L1335.5 410.1Z"/>
<path d="M1333.7 545.7L1361.5 529.4L1366.8 395.8L1337.6 411.2Z"/>
<path fill="#063c3c" d="M1333.7 545.7L1335.7 546.9L1338.2 462.8L1336.1 461.7Z"/>
<path d="M1335.7 546.9L1363.5 530.5L1366.8 447L1338.2 462.8Z"/>
<path fill="#063c3c" d="M1339.1 548.8L1341.1 550L1345.2 421.2L1343.1 420.1Z"/>
<path d="M1341.1 550L1368.9 533.6L1374.3 405.7L1345.2 421.2Z"/>
<path fill="#063c3c" d="M1341.1 550L1343.1 551.2L1345.9 463L1343.9 461.9Z"/>
<path d="M1343.1 551.2L1370.9 534.7L1374.6 447.2L1345.9 463Z"/>
<path fill="#063c3c" d="M1346.5 553.2L1348.5 554.3L1352.8 429L1350.7 427.9Z"/>
<path d="M1348.5 554.3L1376.3 537.8L1381.9 413.3L1352.8 429Z"/>
<path fill="#063c3c" d="M1348.5 554.3L1350.5 555.5L1353.7 464.6L1351.6 463.5Z"/>
<path d="M1350.5 555.5L1378.3 538.9L1382.4 448.7L1353.7 464.6Z"/>
<path fill="#063c3c" d="M1353.9 557.5L1355.9 558.7L1360.4 439.4L1358.3 438.3Z"/>
<path d="M1355.9 558.7L1383.7 542L1389.4 423.6L1360.4 439.4Z"/>
<path fill="#063c3c" d="M1355.9 558.7L1357.9 559.8L1361.5 466.2L1359.5 465.1Z"/>
<path d="M1357.9 559.8L1385.7 543.2L1390.3 450.2L1361.5 466.2Z"/>
<path fill="#063c3c" d="M1361.4 561.9L1363.4 563L1367.9 453.5L1365.8 452.4Z"/>
<path d="M1363.4 563L1391.2 546.3L1396.8 437.5L1367.9 453.5Z"/>
<path fill="#063c3c" d="M1363.4 563L1365.5 564.2L1369.4 469.1L1367.3 468Z"/>
<path d="M1365.5 564.2L1393.2 547.4L1398.2 453L1369.4 469.1Z"/>
<path fill="#063c3c" d="M1369 566.3L1371 567.4L1375.3 469.2L1373.2 468.1Z"/>
<path d="M1371 567.4L1398.8 550.6L1404.1 453.1L1375.3 469.2Z"/>
<path fill="#063c3c" d="M1371 567.4L1373 568.6L1377.1 477.3L1375 476.1Z"/>
<path d="M1373 568.6L1400.8 551.7L1405.8 461L1377.1 477.3Z"/>
</g>
<g fill="#5a0055" stroke="#280026" stroke-width="0.8" stroke-linejoin="round">
<path fill="#3b0038" d="M1061.9 430.6L1063.4 431.5L1050.3 253.2L1048.6 252.4Z"/>
<path d="M1063.4 431.5L1091.9 418L1080.8 241L1050.3 253.2Z"/>
<path fill="#3b0038" d="M1063.4 431.5L1065 432.5L1053.8 279.6L1052.2 278.7Z"/>
<path d="M1065 432.5L1093.5 419L1084 267.2L1053.8 279.6Z"/>
<path fill="#3b0038" d="M1067.7 434.1L1069.3 435.1L1057 264.2L1055.4 263.4Z"/>
<path d="M1069.3 435.1L1097.7 421.5L1087.5 251.9L1057 264.2Z"/>
<path fill="#3b0038" d="M1069.3 435.1L1070.9 436L1060 283.4L1058.4 282.5Z"/>
<path d="M1070.9 436L1099.3 422.4L1090.2 270.9L1060 283.4Z"/>
<path fill="#3b0038" d="M1073.6 437.7L1075.2 438.7L1063.6 272.3L1061.9 271.5Z"/>
<path d="M1075.2 438.7L1103.6 425L1094 259.9L1063.6 272.3Z"/>
<path fill="#3b0038" d="M1075.2 438.7L1076.8 439.6L1066.2 287.3L1064.6 286.4Z"/>
<path d="M1076.8 439.6L1105.2 425.9L1096.5 274.7L1066.2 287.3Z"/>
<path fill="#3b0038" d="M1079.5 441.3L1081.1 442.2L1070 278.2L1068.3 277.3Z"/>
<path d="M1081.1 442.2L1109.6 428.5L1100.4 265.6L1070 278.2Z"/>
<path fill="#3b0038" d="M1081.1 442.2L1082.7 443.2L1072.5 291.1L1070.8 290.2Z"/>
<path d="M1082.7 443.2L1111.2 429.4L1102.8 278.4L1072.5 291.1Z"/>
<path fill="#3b0038" d="M1085.4 444.9L1087 445.9L1076.3 281.6L1074.6 280.7Z"/>
<path d="M1087 445.9L1115.6 432L1106.7 269L1076.3 281.6Z"/>
<path fill="#3b0038" d="M1087 445.9L1088.7 446.8L1078.8 295L1077.1 294.1Z"/>
<path d="M1088.7 446.8L1117.2 433L1109.1 282.2L1078.8 295Z"/>
<path fill="#3b0038" d="M1091.4 448.5L1093 449.5L1082.7 285.1L1080.9 284.2Z"/>
<path d="M1093 449.5L1121.6 435.5L1113.1 272.3L1082.7 285.1Z"/>
<path fill="#3b0038" d="M1093 449.5L1094.7 450.5L1085.2 298.9L1083.5 298Z"/>
<path d="M1094.7 450.5L1123.2 436.5L1115.4 286.1L1085.2 298.9Z"/>
<path fill="#3b0038" d="M1097.4 452.2L1099.1 453.1L1089 288.5L1087.3 287.6Z"/>
<path d="M1099.1 453.1L1127.6 439.1L1119.5 275.7L1089 288.5Z"/>
<path fill="#3b0038" d="M1099.1 453.1L1100.7 454.1L1091.6 302.8L1089.8 301.9Z"/>
<path d="M1100.7 454.1L1129.2 440.1L1121.8 289.9L1091.6 302.8Z"/>
<path fill="#3b0038" d="M1103.5 455.8L1105.1 456.8L1095.5 292L1093.7 291.1Z"/>
<path d="M1105.1 456.8L1133.7 442.7L1125.9 279.1L1095.5 292Z"/>
<path fill="#3b0038" d="M1105.1 456.8L1106.8 457.8L1098 306.8L1096.3 305.9Z"/>
<path d="M1106.8 457.8L1135.3 443.7L1128.3 293.8L1098 306.8Z"/>
<path fill="#3b0038" d="M1109.6 459.5L1111.2 460.5L1101.9 295.5L1100.2 294.6Z"/>
<path d="M1111.2 460.5L1139.8 446.3L1132.4 282.5L1101.9 295.5Z"/>
<path fill="#3b0038" d="M1111.2 460.5L1112.9 461.5L1104.5 310.8L1102.7 309.9Z"/>
<path d="M1112.9 461.5L1141.5 447.3L1134.8 297.7L1104.5 310.8Z"/>
<path fill="#3b0038" d="M1115.7 463.2L1117.4 464.2L1108.4 298.5L1106.6 297.6Z"/>
<path d="M1117.4 464.2L1146 450L1138.9 285.4L1108.4 298.5Z"/>
<path fill="#3b0038" d="M1117.4 464.2L1119 465.3L1111 315.1L1109.2 314.2Z"/>
<path d="M1119 465.3L1147.6 450.9L1141.3 301.9L1111 315.1Z"/>
<path fill="#3b0038" d="M1121.9 467L1123.6 468L1114.9 301.5L1113.1 300.6Z"/>
<path d="M1123.6 468L1152.2 453.6L1145.4 288.4L1114.9 301.5Z"/>
<path fill="#3b0038" d="M1123.6 468L1125.2 469L1117.6 319.5L1115.8 318.5Z"/>
<path d="M1125.2 469L1153.8 454.6L1147.9 306.2L1117.6 319.5Z"/>
<path fill="#3b0038" d="M1128.1 470.7L1129.8 471.8L1121.5 304.6L1119.7 303.6Z"/>
<path d="M1129.8 471.8L1158.4 457.3L1152 291.3L1121.5 304.6Z"/>
<path fill="#3b0038" d="M1129.8 471.8L1131.5 472.8L1124.2 323.9L1122.4 322.9Z"/>
<path d="M1131.5 472.8L1160.1 458.3L1154.5 310.5L1124.2 323.9Z"/>
<path fill="#3b0038" d="M1134.4 474.5L1136 475.6L1128.1 307.6L1126.3 306.7Z"/>
<path d="M1136 475.6L1164.7 461L1158.6 294.3L1128.1 307.6Z"/>
<path fill="#3b0038" d="M1136 475.6L1137.7 476.6L1130.8 328.3L1129 327.3Z"/>
<path d="M1137.7 476.6L1166.4 462L1161.1 314.8L1130.8 328.3Z"/>
<path fill="#3b0038" d="M1140.6 478.4L1142.3 479.4L1134.8 310.7L1133 309.7Z"/>
<path d="M1142.3 479.4L1171 464.7L1165.3 297.3L1134.8 310.7Z"/>
<path fill="#3b0038" d="M1142.3 479.4L1144.1 480.4L1137.5 332.7L1135.7 331.8Z"/>
<path d="M1144.1 480.4L1172.7 465.7L1167.8 319.1L1137.5 332.7Z"/>
<path fill="#3b0038" d="M1147 482.2L1148.7 483.2L1141.5 313.8L1139.6 312.8Z"/>
<path d="M1148.7 483.2L1177.4 468.5L1172.1 300.3L1141.5 313.8Z"/>
<path fill="#3b0038" d="M1148.7 483.2L1150.4 484.3L1144.2 337.2L1142.4 336.2Z"/>
<path d="M1150.4 484.3L1179.1 469.5L1174.6 323.5L1144.2 337.2Z"/>
<path fill="#3b0038" d="M1153.4 486.1L1155.1 487.1L1148.2 316.9L1146.4 316Z"/>
<path d="M1155.1 487.1L1183.8 472.3L1178.8 303.3L1148.2 316.9Z"/>
<path fill="#3b0038" d="M1155.1 487.1L1156.8 488.1L1151 341.7L1149.2 340.7Z"/>
<path d="M1156.8 488.1L1185.5 473.3L1181.4 327.9L1151 341.7Z"/>
<path fill="#3b0038" d="M1159.8 489.9L1161.5 491L1155 320.1L1153.2 319.1Z"/>
<path d="M1161.5 491L1190.2 476.1L1185.7 306.4L1155 320.1Z"/>
<path fill="#3b0038" d="M1161.5 491L1163.2 492.1L1157.8 346.2L1156 345.2Z"/>
<path d="M1163.2 492.1L1191.9 477.1L1188.2 332.3L1157.8 346.2Z"/>
<path fill="#3b0038" d="M1166.2 493.9L1168 494.9L1161.9 323L1160 322Z"/>
<path d="M1168 494.9L1196.7 479.9L1192.5 309.2L1161.9 323Z"/>
<path fill="#3b0038" d="M1168 494.9L1169.7 496L1164.6 349.8L1162.8 348.9Z"/>
<path d="M1169.7 496L1198.4 480.9L1195 335.9L1164.6 349.8Z"/>
<path fill="#3b0038" d="M1172.7 497.8L1174.5 498.9L1168.7 323.9L1166.8 322.9Z"/>
<path d="M1174.5 498.9L1203.2 483.7L1199.4 310.1L1168.7 323.9Z"/>
<path fill="#3b0038" d="M1174.5 498.9L1176.2 499.9L1171.5 353.5L1169.7 352.5Z"/>
<path d="M1176.2 499.9L1205 484.8L1201.9 339.4L1171.5 353.5Z"/>
<path fill="#3b0038" d="M1179.3 501.8L1181 502.8L1175.6 324.5L1173.7 323.5Z"/>
<path d="M1181 502.8L1209.8 487.6L1206.3 310.6L1175.6 324.5Z"/>
<path fill="#3b0038" d="M1181 502.8L1182.8 503.9L1178.4 357.2L1176.6 356.2Z"/>
<path d="M1182.8 503.9L1211.5 488.7L1208.8 343L1178.4 357.2Z"/>
<path fill="#3b0038" d="M1185.8 505.8L1187.6 506.8L1182.5 325.4L1180.6 324.4Z"/>
<path d="M1187.6 506.8L1216.4 491.5L1213.3 311.4L1182.5 325.4Z"/>
<path fill="#3b0038" d="M1187.6 506.8L1189.4 507.9L1185.4 360.9L1183.5 359.9Z"/>
<path d="M1189.4 507.9L1218.2 492.6L1215.8 346.7L1185.4 360.9Z"/>
<path fill="#3b0038" d="M1192.5 509.8L1194.3 510.9L1189.6 327L1187.7 326Z"/>
<path d="M1194.3 510.9L1223 495.4L1220.4 313L1189.6 327Z"/>
<path fill="#3b0038" d="M1194.3 510.9L1196.1 512L1192.4 364.9L1190.5 363.8Z"/>
<path d="M1196.1 512L1224.8 496.5L1222.8 350.5L1192.4 364.9Z"/>
<path fill="#3b0038" d="M1199.1 513.8L1201 514.9L1196.7 328L1194.7 327Z"/>
<path d="M1201 514.9L1229.7 499.4L1227.5 313.9L1196.7 328Z"/>
<path fill="#3b0038" d="M1201 514.9L1202.8 516L1199.5 368.8L1197.6 367.8Z"/>
<path d="M1202.8 516L1231.5 500.5L1229.9 354.3L1199.5 368.8Z"/>
<path fill="#3b0038" d="M1205.9 517.9L1207.7 519L1203.8 327.6L1201.8 326.6Z"/>
<path d="M1207.7 519L1236.5 503.4L1234.7 313.4L1203.8 327.6Z"/>
<path fill="#3b0038" d="M1207.7 519L1209.5 520.1L1206.6 372.8L1204.7 371.7Z"/>
<path d="M1209.5 520.1L1238.3 504.4L1237 358.2L1206.6 372.8Z"/>
<path fill="#3b0038" d="M1212.6 522L1214.5 523.1L1211 326.5L1209 325.5Z"/>
<path d="M1214.5 523.1L1243.2 507.4L1242 312.2L1211 326.5Z"/>
<path fill="#3b0038" d="M1214.5 523.1L1216.3 524.2L1213.8 376.8L1211.8 375.7Z"/>
<path d="M1216.3 524.2L1245.1 508.5L1244.2 362.1L1213.8 376.8Z"/>
<path fill="#3b0038" d="M1219.4 526.1L1221.3 527.2L1218.2 324L1216.2 323Z"/>
<path d="M1221.3 527.2L1250.1 511.4L1249.3 309.7L1218.2 324Z"/>
<path fill="#3b0038" d="M1221.3 527.2L1223.1 528.4L1221 382.6L1219.1 381.6Z"/>
<path d="M1223.1 528.4L1251.9 512.5L1251.5 367.8L1221 382.6Z"/>
<path fill="#3b0038" d="M1226.3 530.3L1228.1 531.4L1225.4 312.3L1223.4 311.3Z"/>
<path d="M1228.1 531.4L1256.9 515.5L1256.7 298L1225.4 312.3Z"/>
<path fill="#3b0038" d="M1228.1 531.4L1230 532.5L1228.3 388.5L1226.3 387.5Z"/>
<path d="M1230 532.5L1258.8 516.6L1258.7 373.6L1228.3 388.5Z"/>
<path fill="#3b0038" d="M1233.2 534.5L1235.1 535.6L1232.6 283.5L1230.5 282.5Z"/>
<path d="M1235.1 535.6L1263.9 519.5L1264.2 269.4L1232.6 283.5Z"/>
<path fill="#3b0038" d="M1235.1 535.6L1236.9 536.7L1235.7 400.8L1233.7 399.7Z"/>
<path d="M1236.9 536.7L1265.7 520.6L1266 385.7L1235.7 400.8Z"/>
<path fill="#3b0038" d="M1240.1 538.7L1242 539.8L1240.1 267.1L1238 266.1Z"/>
<path d="M1242 539.8L1270.8 523.7L1271.9 253L1240.1 267.1Z"/>
<path fill="#3b0038" d="M1242 539.8L1243.9 541L1243.1 423L1241.2 421.9Z"/>
<path d="M1243.9 541L1272.7 524.8L1273.3 407.6L1243.1 423Z"/>
<path fill="#3b0038" d="M1247.1 542.9L1249 544.1L1247.7 255.2L1245.6 254.2Z"/>
<path d="M1249 544.1L1277.8 527.8L1279.8 241.2L1247.7 255.2Z"/>
<path fill="#3b0038" d="M1249 544.1L1250.9 545.2L1250.7 480.3L1248.7 479.2Z"/>
<path d="M1250.9 545.2L1279.7 528.9L1280.2 464.5L1250.7 480.3Z"/>
<path fill="#3b0038" d="M1254.2 547.2L1256.1 548.3L1255.7 311L1253.6 309.9Z"/>
<path d="M1256.1 548.3L1284.9 532L1287.2 296.4L1255.7 311Z"/>
<path fill="#3b0038" d="M1256.1 548.3L1258 549.5L1257.9 501.8L1256 500.7Z"/>
<path d="M1258 549.5L1286.8 533.1L1287.3 485.8L1257.9 501.8Z"/>
<path fill="#3b0038" d="M1261.2 551.5L1263.2 552.6L1263.4 364.4L1261.3 363.4Z"/>
<path d="M1263.2 552.6L1292 536.2L1294.3 349.4L1263.4 364.4Z"/>
<path fill="#3b0038" d="M1263.2 552.6L1265.1 553.8L1265.2 513L1263.2 511.8Z"/>
<path d="M1265.1 553.8L1293.9 537.3L1294.5 496.7L1265.2 513Z"/>
<path fill="#3b0038" d="M1268.4 555.8L1270.3 557L1271 394L1268.9 392.9Z"/>
<path d="M1270.3 557L1299.2 540.4L1301.6 378.6L1271 394Z"/>
<path fill="#3b0038" d="M1270.3 557L1272.3 558.1L1272.5 497.7L1270.6 496.6Z"/>
<path d="M1272.3 558.1L1301.1 541.5L1302.1 481.5L1272.5 497.7Z"/>
<path fill="#3b0038" d="M1275.6 560.2L1277.5 561.3L1278.5 410L1276.5 408.9Z"/>
<path d="M1277.5 561.3L1306.4 544.6L1309.1 394.4L1278.5 410Z"/>
<path fill="#3b0038" d="M1277.5 561.3L1279.5 562.5L1280 490.8L1278 489.6Z"/>
<path d="M1279.5 562.5L1308.3 545.8L1309.7 474.5L1280 490.8Z"/>
<path fill="#3b0038" d="M1282.8 564.5L1284.8 565.7L1286.2 422L1284.1 420.8Z"/>
<path d="M1284.8 565.7L1313.6 548.9L1316.6 406.2L1286.2 422Z"/>
<path fill="#3b0038" d="M1284.8 565.7L1286.7 566.9L1287.6 487L1285.5 485.8Z"/>
<path d="M1286.7 566.9L1315.6 550.1L1317.3 470.7L1287.6 487Z"/>
<path fill="#3b0038" d="M1290.1 569L1292.1 570.2L1293.8 433.6L1291.7 432.4Z"/>
<path d="M1292.1 570.2L1320.9 553.2L1324.2 417.6L1293.8 433.6Z"/>
<path fill="#3b0038" d="M1292.1 570.2L1294 571.4L1295.2 484.8L1293.1 483.6Z"/>
<path d="M1294 571.4L1322.9 554.4L1325 468.4L1295.2 484.8Z"/>
<path fill="#3b0038" d="M1297.4 573.4L1299.4 574.6L1301.4 444.5L1299.3 443.4Z"/>
<path d="M1299.4 574.6L1328.3 557.6L1331.7 428.4L1301.4 444.5Z"/>
<path fill="#3b0038" d="M1299.4 574.6L1301.4 575.8L1302.9 485.2L1300.8 484Z"/>
<path d="M1301.4 575.8L1330.3 558.7L1332.7 468.7L1302.9 485.2Z"/>
<path fill="#3b0038" d="M1304.8 577.9L1306.8 579.1L1309.1 453.8L1307 452.7Z"/>
<path d="M1306.8 579.1L1335.7 561.9L1339.4 437.5L1309.1 453.8Z"/>
<path fill="#3b0038" d="M1306.8 579.1L1308.8 580.3L1310.6 486.9L1308.5 485.7Z"/>
<path d="M1308.8 580.3L1337.7 563.1L1340.5 470.3L1310.6 486.9Z"/>
<path fill="#3b0038" d="M1312.3 582.4L1314.3 583.6L1316.9 462.8L1314.7 461.6Z"/>
<path d="M1314.3 583.6L1343.1 566.3L1347.1 446.4L1316.9 462.8Z"/>
<path fill="#3b0038" d="M1314.3 583.6L1316.3 584.8L1318.4 488.6L1316.3 487.4Z"/>
<path d="M1316.3 584.8L1345.1 567.5L1348.4 471.9L1318.4 488.6Z"/>
<path fill="#3b0038" d="M1319.7 586.9L1321.8 588.2L1324.5 474.8L1322.4 473.7Z"/>
<path d="M1321.8 588.2L1350.6 570.8L1354.7 458.2L1324.5 474.8Z"/>
<path fill="#3b0038" d="M1321.8 588.2L1323.8 589.4L1326.3 491.7L1324.2 490.5Z"/>
<path d="M1323.8 589.4L1352.7 572L1356.2 474.9L1326.3 491.7Z"/>
<path fill="#3b0038" d="M1327.3 591.5L1329.3 592.8L1332.1 491.2L1330 490Z"/>
<path d="M1329.3 592.8L1358.2 575.2L1362.1 474.4L1332.1 491.2Z"/>
<path fill="#3b0038" d="M1329.3 592.8L1331.4 594L1334 500L1331.9 498.9Z"/>
<path d="M1331.4 594L1360.2 576.4L1363.9 483.1L1334 500Z"/>
</g>
<g fill="#b400b4" stroke="#510051" stroke-width="0.8" stroke-linejoin="round">
<path fill="#760076" d="M1019.4 450.8L1020.9 451.7L1005.1 276.1L1003.4 275.2Z"/>
<path d="M1020.9 451.7L1050.4 437.8L1036.6 263.4L1005.1 276.1Z"/>
<path fill="#760076" d="M1020.9 451.7L1022.5 452.7L1008.2 293.3L1006.5 292.4Z"/>
<path d="M1022.5 452.7L1051.9 438.7L1039.6 280.5L1008.2 293.3Z"/>
<path fill="#760076" d="M1025.2 454.4L1026.8 455.4L1011.4 282.1L1009.8 281.2Z"/>
<path d="M1026.8 455.4L1056.2 441.3L1043 269.3L1011.4 282.1Z"/>
<path fill="#760076" d="M1026.8 455.4L1028.3 456.4L1014.4 297.3L1012.7 296.4Z"/>
<path d="M1028.3 456.4L1057.8 442.3L1045.7 284.3L1014.4 297.3Z"/>
<path fill="#760076" d="M1031 458.1L1032.6 459.1L1017.8 287.4L1016.1 286.5Z"/>
<path d="M1032.6 459.1L1062.1 444.9L1049.3 274.5L1017.8 287.4Z"/>
<path fill="#760076" d="M1032.6 459.1L1034.2 460.1L1020.6 301.2L1018.9 300.3Z"/>
<path d="M1034.2 460.1L1063.7 445.9L1052 288.2L1020.6 301.2Z"/>
<path fill="#760076" d="M1036.9 461.8L1038.5 462.8L1024.1 292.1L1022.4 291.2Z"/>
<path d="M1038.5 462.8L1068 448.6L1055.7 279.1L1024.1 292.1Z"/>
<path fill="#760076" d="M1038.5 462.8L1040.1 463.8L1026.8 305.2L1025.2 304.3Z"/>
<path d="M1040.1 463.8L1069.6 449.6L1058.3 292.1L1026.8 305.2Z"/>
<path fill="#760076" d="M1042.8 465.5L1044.4 466.6L1030.5 296.8L1028.8 295.9Z"/>
<path d="M1044.4 466.6L1073.9 452.2L1062.1 283.7L1030.5 296.8Z"/>
<path fill="#760076" d="M1044.4 466.6L1046 467.6L1033.1 309.2L1031.4 308.3Z"/>
<path d="M1046 467.6L1075.5 453.2L1064.6 296L1033.1 309.2Z"/>
<path fill="#760076" d="M1048.8 469.3L1050.4 470.3L1037.1 304.5L1035.4 303.6Z"/>
<path d="M1050.4 470.3L1079.9 455.9L1068.7 291.3L1037.1 304.5Z"/>
<path fill="#760076" d="M1050.4 470.3L1052 471.3L1039.5 313.3L1037.8 312.3Z"/>
<path d="M1052 471.3L1081.5 456.9L1070.9 300L1039.5 313.3Z"/>
<path fill="#760076" d="M1054.7 473.1L1056.4 474.1L1043.8 312.3L1042.1 311.3Z"/>
<path d="M1056.4 474.1L1085.9 459.6L1075.3 298.9L1043.8 312.3Z"/>
<path fill="#760076" d="M1056.4 474.1L1058 475.1L1045.8 317.3L1044.1 316.4Z"/>
<path d="M1058 475.1L1087.6 460.6L1077.3 303.9L1045.8 317.3Z"/>
<path fill="#760076" d="M1060.8 476.9L1062.4 477.9L1050.1 314.9L1048.4 313.9Z"/>
<path d="M1062.4 477.9L1092 463.3L1081.7 301.5L1050.1 314.9Z"/>
<path fill="#760076" d="M1062.4 477.9L1064 479L1052.2 321.4L1050.5 320.5Z"/>
<path d="M1064 479L1093.6 464.3L1083.7 307.9L1052.2 321.4Z"/>
<path fill="#760076" d="M1066.8 480.7L1068.5 481.8L1056.4 317.5L1054.7 316.6Z"/>
<path d="M1068.5 481.8L1098.1 467L1088 304L1056.4 317.5Z"/>
<path fill="#760076" d="M1068.5 481.8L1070.1 482.8L1058.7 325.5L1057 324.6Z"/>
<path d="M1070.1 482.8L1099.7 468.1L1090.2 311.9L1058.7 325.5Z"/>
<path fill="#760076" d="M1072.9 484.6L1074.6 485.6L1062.8 320.2L1061.1 319.2Z"/>
<path d="M1074.6 485.6L1104.2 470.8L1094.5 306.6L1062.8 320.2Z"/>
<path fill="#760076" d="M1074.6 485.6L1076.3 486.7L1065.2 330L1063.5 329Z"/>
<path d="M1076.3 486.7L1105.9 471.8L1096.7 316.3L1065.2 330Z"/>
<path fill="#760076" d="M1079.1 488.5L1080.8 489.5L1069.3 323.6L1067.6 322.6Z"/>
<path d="M1080.8 489.5L1110.4 474.6L1101 309.9L1069.3 323.6Z"/>
<path fill="#760076" d="M1080.8 489.5L1082.4 490.6L1071.8 334.5L1070 333.5Z"/>
<path d="M1082.4 490.6L1112.1 475.6L1103.3 320.7L1071.8 334.5Z"/>
<path fill="#760076" d="M1085.3 492.4L1086.9 493.4L1075.9 327L1074.1 326Z"/>
<path d="M1086.9 493.4L1116.6 478.4L1107.6 313.2L1075.9 327Z"/>
<path fill="#760076" d="M1086.9 493.4L1088.6 494.5L1078.4 339L1076.6 338Z"/>
<path d="M1088.6 494.5L1118.3 479.5L1109.9 325.1L1078.4 339Z"/>
<path fill="#760076" d="M1091.5 496.3L1093.2 497.3L1082.5 330.3L1080.7 329.3Z"/>
<path d="M1093.2 497.3L1122.9 482.3L1114.2 316.4L1082.5 330.3Z"/>
<path fill="#760076" d="M1093.2 497.3L1094.9 498.4L1085 343.6L1083.2 342.6Z"/>
<path d="M1094.9 498.4L1124.6 483.3L1116.6 329.6L1085 343.6Z"/>
<path fill="#760076" d="M1097.8 500.2L1099.5 501.3L1089.1 333.6L1087.3 332.6Z"/>
<path d="M1099.5 501.3L1129.2 486.1L1120.8 319.6L1089.1 333.6Z"/>
<path fill="#760076" d="M1099.5 501.3L1101.2 502.4L1091.7 348.1L1089.9 347.1Z"/>
<path d="M1101.2 502.4L1130.9 487.2L1123.3 334L1091.7 348.1Z"/>
<path fill="#760076" d="M1104.1 504.2L1105.8 505.3L1095.7 336.2L1093.9 335.2Z"/>
<path d="M1105.8 505.3L1135.5 490L1127.5 322.2L1095.7 336.2Z"/>
<path fill="#760076" d="M1105.8 505.3L1107.5 506.4L1098.4 352.7L1096.6 351.7Z"/>
<path d="M1107.5 506.4L1137.2 491.1L1130 338.6L1098.4 352.7Z"/>
<path fill="#760076" d="M1110.4 508.2L1112.1 509.3L1102.4 338.9L1100.6 337.9Z"/>
<path d="M1112.1 509.3L1141.9 493.9L1134.2 324.8L1102.4 338.9Z"/>
<path fill="#760076" d="M1112.1 509.3L1113.9 510.4L1105.2 357.4L1103.4 356.4Z"/>
<path d="M1113.9 510.4L1143.6 495L1136.8 343.1L1105.2 357.4Z"/>
<path fill="#760076" d="M1116.8 512.3L1118.5 513.4L1109.1 341.6L1107.3 340.6Z"/>
<path d="M1118.5 513.4L1148.3 497.9L1141 327.4L1109.1 341.6Z"/>
<path fill="#760076" d="M1118.5 513.4L1120.3 514.5L1112 362.1L1110.2 361Z"/>
<path d="M1120.3 514.5L1150 498.9L1143.6 347.7L1112 362.1Z"/>
<path fill="#760076" d="M1123.2 516.3L1125 517.4L1115.9 344.3L1114.1 343.3Z"/>
<path d="M1125 517.4L1154.8 501.8L1147.8 330L1115.9 344.3Z"/>
<path fill="#760076" d="M1125 517.4L1126.7 518.5L1118.8 365.8L1117 364.8Z"/>
<path d="M1126.7 518.5L1156.5 502.9L1150.4 351.3L1118.8 365.8Z"/>
<path fill="#760076" d="M1129.7 520.4L1131.5 521.5L1122.7 345.3L1120.8 344.3Z"/>
<path d="M1131.5 521.5L1161.3 505.8L1154.6 330.9L1122.7 345.3Z"/>
<path fill="#760076" d="M1131.5 521.5L1133.2 522.6L1125.7 369.6L1123.8 368.6Z"/>
<path d="M1133.2 522.6L1163 506.9L1157.3 355L1125.7 369.6Z"/>
<path fill="#760076" d="M1136.2 524.5L1138 525.6L1129.5 346L1127.6 345Z"/>
<path d="M1138 525.6L1167.8 509.9L1161.4 331.6L1129.5 346Z"/>
<path fill="#760076" d="M1138 525.6L1139.8 526.8L1132.6 373.5L1130.7 372.4Z"/>
<path d="M1139.8 526.8L1169.6 510.9L1164.2 358.8L1132.6 373.5Z"/>
<path fill="#760076" d="M1142.8 528.7L1144.6 529.8L1136.4 347.1L1134.5 346.1Z"/>
<path d="M1144.6 529.8L1174.4 513.9L1168.4 332.5L1136.4 347.1Z"/>
<path fill="#760076" d="M1144.6 529.8L1146.4 530.9L1139.5 377.3L1137.7 376.3Z"/>
<path d="M1146.4 530.9L1176.2 515L1171.2 362.5L1139.5 377.3Z"/>
<path fill="#760076" d="M1149.4 532.8L1151.2 534L1143.3 348.8L1141.4 347.8Z"/>
<path d="M1151.2 534L1181 518L1175.4 334.2L1143.3 348.8Z"/>
<path fill="#760076" d="M1151.2 534L1153 535.1L1146.6 381.4L1144.7 380.3Z"/>
<path d="M1153 535.1L1182.8 519.1L1178.2 366.5L1146.6 381.4Z"/>
<path fill="#760076" d="M1156.1 537L1157.9 538.2L1150.3 349.9L1148.4 348.9Z"/>
<path d="M1157.9 538.2L1187.7 522.1L1182.4 335.2L1150.3 349.9Z"/>
<path fill="#760076" d="M1157.9 538.2L1159.7 539.3L1153.6 385.5L1151.7 384.4Z"/>
<path d="M1159.7 539.3L1189.5 523.2L1185.3 370.5L1153.6 385.5Z"/>
<path fill="#760076" d="M1162.8 541.3L1164.6 542.4L1157.4 349.6L1155.4 348.6Z"/>
<path d="M1164.6 542.4L1194.4 526.2L1189.5 334.8L1157.4 349.6Z"/>
<path fill="#760076" d="M1164.6 542.4L1166.4 543.6L1160.7 389.6L1158.8 388.5Z"/>
<path d="M1166.4 543.6L1196.3 527.3L1192.4 374.5L1160.7 389.6Z"/>
<path fill="#760076" d="M1169.5 545.5L1171.3 546.7L1164.4 348.6L1162.5 347.5Z"/>
<path d="M1171.3 546.7L1201.2 530.4L1196.7 333.7L1164.4 348.6Z"/>
<path fill="#760076" d="M1171.3 546.7L1173.2 547.8L1167.9 393.7L1166 392.7Z"/>
<path d="M1173.2 547.8L1203 531.5L1199.6 378.5L1167.9 393.7Z"/>
<path fill="#760076" d="M1176.3 549.8L1178.1 551L1171.5 346.2L1169.5 345.1Z"/>
<path d="M1178.1 551L1208 534.5L1203.9 331.3L1171.5 346.2Z"/>
<path fill="#760076" d="M1178.1 551L1180 552.1L1175.2 399.8L1173.2 398.7Z"/>
<path d="M1180 552.1L1209.9 535.7L1206.9 384.4L1175.2 399.8Z"/>
<path fill="#760076" d="M1183.1 554.1L1185 555.3L1178.4 334.4L1176.4 333.4Z"/>
<path d="M1185 555.3L1214.9 538.7L1211 319.6L1178.4 334.4Z"/>
<path fill="#760076" d="M1185 555.3L1186.8 556.5L1182.5 405.9L1180.5 404.8Z"/>
<path d="M1186.8 556.5L1216.7 539.9L1214.2 390.4L1182.5 405.9Z"/>
<path fill="#760076" d="M1190 558.5L1191.9 559.6L1185 305.4L1183 304.4Z"/>
<path d="M1191.9 559.6L1221.8 543L1218 290.7L1185 305.4Z"/>
<path fill="#760076" d="M1191.9 559.6L1193.7 560.8L1190 418.4L1188 417.3Z"/>
<path d="M1193.7 560.8L1223.6 544.1L1221.6 402.7L1190 418.4Z"/>
<path fill="#760076" d="M1196.9 562.8L1198.8 564L1192 284.4L1190 283.4Z"/>
<path d="M1198.8 564L1228.7 547.3L1225.3 269.8L1192 284.4Z"/>
<path fill="#760076" d="M1198.8 564L1200.7 565.2L1197.8 441L1195.8 439.9Z"/>
<path d="M1200.7 565.2L1230.6 548.4L1229.2 425.1L1197.8 441Z"/>
<path fill="#760076" d="M1203.9 567.2L1205.8 568.4L1199.3 265.9L1197.2 264.9Z"/>
<path d="M1205.8 568.4L1235.7 551.6L1232.8 251.5L1199.3 265.9Z"/>
<path fill="#760076" d="M1205.8 568.4L1207.7 569.6L1206.2 499.3L1204.3 498.2Z"/>
<path d="M1207.7 569.6L1237.6 552.7L1237 482.9L1206.2 499.3Z"/>
<path fill="#760076" d="M1210.9 571.7L1212.8 572.9L1208.5 344.1L1206.5 343Z"/>
<path d="M1212.8 572.9L1242.8 555.9L1241.2 328.8L1208.5 344.1Z"/>
<path fill="#760076" d="M1212.8 572.9L1214.7 574.1L1213.8 521.2L1211.8 520Z"/>
<path d="M1214.7 574.1L1244.7 557L1244.4 504.5L1213.8 521.2Z"/>
<path fill="#760076" d="M1218 576.1L1219.9 577.4L1217 393.5L1214.9 392.3Z"/>
<path d="M1219.9 577.4L1249.9 560.2L1249.1 377.7L1217 393.5Z"/>
<path fill="#760076" d="M1219.9 577.4L1221.8 578.6L1221.1 532.6L1219.2 531.4Z"/>
<path d="M1221.8 578.6L1251.8 561.4L1251.6 515.7L1221.1 532.6Z"/>
<path fill="#760076" d="M1225.1 580.6L1227.1 581.9L1224.9 417.5L1222.8 416.4Z"/>
<path d="M1227.1 581.9L1257 564.6L1256.8 401.5L1224.9 417.5Z"/>
<path fill="#760076" d="M1227.1 581.9L1229 583.1L1228.2 517.2L1226.2 516Z"/>
<path d="M1229 583.1L1259 565.8L1258.9 500.4L1228.2 517.2Z"/>
<path fill="#760076" d="M1232.3 585.2L1234.2 586.4L1232.7 433.1L1230.6 432Z"/>
<path d="M1234.2 586.4L1264.2 569L1264.5 416.9L1232.7 433.1Z"/>
<path fill="#760076" d="M1234.2 586.4L1236.2 587.6L1235.4 510.3L1233.4 509.1Z"/>
<path d="M1236.2 587.6L1266.2 570.2L1266.3 493.4L1235.4 510.3Z"/>
<path fill="#760076" d="M1239.5 589.7L1241.5 591L1240.4 445.3L1238.3 444.2Z"/>
<path d="M1241.5 591L1271.5 573.5L1272.1 428.9L1240.4 445.3Z"/>
<path fill="#760076" d="M1241.5 591L1243.4 592.2L1242.9 506.6L1240.8 505.4Z"/>
<path d="M1243.4 592.2L1273.4 574.7L1273.9 489.6L1242.9 506.6Z"/>
<path fill="#760076" d="M1246.8 594.3L1248.8 595.6L1248.1 455.2L1246 454Z"/>
<path d="M1248.8 595.6L1278.8 578L1279.8 438.5L1248.1 455.2Z"/>
<path fill="#760076" d="M1248.8 595.6L1250.7 596.8L1250.4 504.4L1248.3 503.2Z"/>
<path d="M1250.7 596.8L1280.7 579.2L1281.5 487.4L1250.4 504.4Z"/>
<path fill="#760076" d="M1254.1 599L1256.1 600.2L1255.9 464.3L1253.8 463.1Z"/>
<path d="M1256.1 600.2L1286.1 582.5L1287.5 447.6L1255.9 464.3Z"/>
<path fill="#760076" d="M1256.1 600.2L1258.1 601.5L1258 504.9L1256 503.7Z"/>
<path d="M1258.1 601.5L1288.1 583.7L1289.2 487.8L1258 504.9Z"/>
<path fill="#760076" d="M1261.5 603.6L1263.5 604.9L1263.7 472.8L1261.6 471.6Z"/>
<path d="M1263.5 604.9L1293.5 587L1295.2 455.9L1263.7 472.8Z"/>
<path fill="#760076" d="M1263.5 604.9L1265.5 606.1L1265.7 506.8L1263.6 505.6Z"/>
<path d="M1265.5 606.1L1295.5 588.2L1296.9 489.6L1265.7 506.8Z"/>
<path fill="#760076" d="M1268.9 608.3L1270.9 609.6L1271.5 481.7L1269.4 480.5Z"/>
<path d="M1270.9 609.6L1301 591.6L1303 464.6L1271.5 481.7Z"/>
<path fill="#760076" d="M1270.9 609.6L1273 610.8L1273.5 508.6L1271.4 507.4Z"/>
<path d="M1273 610.8L1303 592.8L1304.7 491.3L1273.5 508.6Z"/>
<path fill="#760076" d="M1276.4 613L1278.4 614.3L1279.3 493.7L1277.2 492.5Z"/>
<path d="M1278.4 614.3L1308.5 596.2L1310.8 476.5L1279.3 493.7Z"/>
<path fill="#760076" d="M1278.4 614.3L1280.5 615.6L1281.3 511.8L1279.2 510.6Z"/>
<path d="M1280.5 615.6L1310.5 597.4L1312.6 494.4L1281.3 511.8Z"/>
<path fill="#760076" d="M1284 617.8L1286 619.1L1287.1 509.8L1285 508.6Z"/>
<path d="M1286 619.1L1316 600.8L1318.4 492.3L1287.1 509.8Z"/>
<path fill="#760076" d="M1286 619.1L1288 620.4L1289.2 520.5L1287 519.2Z"/>
<path d="M1288 620.4L1318.1 602.1L1320.4 502.9L1289.2 520.5Z"/>
</g>
<g fill="#00a50a" stroke="#004a04" stroke-width="0.8" stroke-linejoin="round">
<path fill="#006c06" d="M975.4 471.6L976.9 472.7L957.5 292.8L955.9 291.9Z"/>
<path d="M976.9 472.7L1007.4 458.2L990.3 279.6L957.5 292.8Z"/>
<path fill="#006c06" d="M976.9 472.7L978.5 473.7L961.2 312.6L959.6 311.6Z"/>
<path d="M978.5 473.7L1009 459.2L993.7 299.3L961.2 312.6Z"/>
<path fill="#006c06" d="M981.1 475.4L982.7 476.5L963.8 298.2L962.2 297.3Z"/>
<path d="M982.7 476.5L1013.2 461.9L996.6 285L963.8 298.2Z"/>
<path fill="#006c06" d="M982.7 476.5L984.3 477.5L967.3 316.6L965.7 315.7Z"/>
<path d="M984.3 477.5L1014.8 462.9L999.9 303.2L967.3 316.6Z"/>
<path fill="#006c06" d="M986.9 479.3L988.5 480.3L970.2 303.7L968.5 302.8Z"/>
<path d="M988.5 480.3L1019 465.6L1003 290.3L970.2 303.7Z"/>
<path fill="#006c06" d="M988.5 480.3L990.1 481.3L973.5 320.7L971.9 319.8Z"/>
<path d="M990.1 481.3L1020.6 466.6L1006.1 307.2L973.5 320.7Z"/>
<path fill="#006c06" d="M992.8 483.1L994.4 484.1L976.8 311.5L975.1 310.6Z"/>
<path d="M994.4 484.1L1024.9 469.4L1009.6 298.1L976.8 311.5Z"/>
<path fill="#006c06" d="M994.4 484.1L995.9 485.2L979.7 324.9L978.1 323.9Z"/>
<path d="M995.9 485.2L1026.5 470.4L1012.4 311.3L979.7 324.9Z"/>
<path fill="#006c06" d="M998.7 487L1000.2 488L983.2 317.1L981.5 316.1Z"/>
<path d="M1000.2 488L1030.8 473.2L1016 303.5L983.2 317.1Z"/>
<path fill="#006c06" d="M1000.2 488L1001.8 489.1L986 329L984.3 328Z"/>
<path d="M1001.8 489.1L1032.4 474.2L1018.6 315.3L986 329Z"/>
<path fill="#006c06" d="M1004.6 490.9L1006.2 491.9L989.4 320.3L987.8 319.3Z"/>
<path d="M1006.2 491.9L1036.8 477L1022.3 306.6L989.4 320.3Z"/>
<path fill="#006c06" d="M1006.2 491.9L1007.8 493L992.3 333.2L990.6 332.2Z"/>
<path d="M1007.8 493L1038.4 478L1025 319.4L992.3 333.2Z"/>
<path fill="#006c06" d="M1010.5 494.8L1012.1 495.8L995.7 323.6L994 322.6Z"/>
<path d="M1012.1 495.8L1042.8 480.8L1028.6 309.8L995.7 323.6Z"/>
<path fill="#006c06" d="M1012.1 495.8L1013.7 496.9L998.6 337.4L996.9 336.4Z"/>
<path d="M1013.7 496.9L1044.4 481.8L1031.3 323.5L998.6 337.4Z"/>
<path fill="#006c06" d="M1016.5 498.7L1018.1 499.8L1002 326.8L1000.3 325.9Z"/>
<path d="M1018.1 499.8L1048.8 484.6L1034.9 313L1002 326.8Z"/>
<path fill="#006c06" d="M1018.1 499.8L1019.8 500.9L1005 341.6L1003.3 340.6Z"/>
<path d="M1019.8 500.9L1050.4 485.7L1037.7 327.6L1005 341.6Z"/>
<path fill="#006c06" d="M1022.5 502.7L1024.2 503.8L1008.4 330.1L1006.7 329.2Z"/>
<path d="M1024.2 503.8L1054.9 488.5L1041.3 316.2L1008.4 330.1Z"/>
<path fill="#006c06" d="M1024.2 503.8L1025.8 504.8L1011.4 345.9L1009.7 344.9Z"/>
<path d="M1025.8 504.8L1056.5 489.6L1044.2 331.8L1011.4 345.9Z"/>
<path fill="#006c06" d="M1028.6 506.7L1030.3 507.8L1014.8 333.5L1013.1 332.6Z"/>
<path d="M1030.3 507.8L1061 492.4L1047.7 319.5L1014.8 333.5Z"/>
<path fill="#006c06" d="M1030.3 507.8L1031.9 508.9L1017.9 350.5L1016.2 349.5Z"/>
<path d="M1031.9 508.9L1062.6 493.5L1050.7 336.3L1017.9 350.5Z"/>
<path fill="#006c06" d="M1034.7 510.7L1036.4 511.8L1021.3 337L1019.5 336Z"/>
<path d="M1036.4 511.8L1067.1 496.4L1054.2 322.8L1021.3 337Z"/>
<path fill="#006c06" d="M1036.4 511.8L1038 512.9L1024.5 355.1L1022.7 354.1Z"/>
<path d="M1038 512.9L1068.8 497.4L1057.2 340.8L1024.5 355.1Z"/>
<path fill="#006c06" d="M1040.9 514.8L1042.5 515.9L1027.8 340.4L1026 339.4Z"/>
<path d="M1042.5 515.9L1073.3 500.3L1060.8 326.2L1027.8 340.4Z"/>
<path fill="#006c06" d="M1042.5 515.9L1044.2 517L1031.1 359.8L1029.3 358.8Z"/>
<path d="M1044.2 517L1075 501.4L1063.8 345.4L1031.1 359.8Z"/>
<path fill="#006c06" d="M1047.1 518.8L1048.7 519.9L1034.3 343.9L1032.5 342.9Z"/>
<path d="M1048.7 519.9L1079.5 504.3L1067.4 329.6L1034.3 343.9Z"/>
<path fill="#006c06" d="M1048.7 519.9L1050.4 521L1037.7 364.5L1035.9 363.5Z"/>
<path d="M1050.4 521L1081.2 505.4L1070.5 350L1037.7 364.5Z"/>
<path fill="#006c06" d="M1053.3 522.9L1055 524.1L1040.9 347.4L1039.1 346.4Z"/>
<path d="M1055 524.1L1085.8 508.3L1074 333L1040.9 347.4Z"/>
<path fill="#006c06" d="M1055 524.1L1056.7 525.2L1044.4 369.3L1042.6 368.2Z"/>
<path d="M1056.7 525.2L1087.5 509.4L1077.2 354.6L1044.4 369.3Z"/>
<path fill="#006c06" d="M1059.6 527.1L1061.3 528.2L1047.6 351L1045.8 349.9Z"/>
<path d="M1061.3 528.2L1092.1 512.3L1080.7 336.4L1047.6 351Z"/>
<path fill="#006c06" d="M1061.3 528.2L1063 529.3L1051.1 374L1049.3 373Z"/>
<path d="M1063 529.3L1093.8 513.4L1083.9 359.3L1051.1 374Z"/>
<path fill="#006c06" d="M1065.9 531.2L1067.6 532.4L1054.3 354.5L1052.4 353.5Z"/>
<path d="M1067.6 532.4L1098.5 516.4L1087.4 339.9L1054.3 354.5Z"/>
<path fill="#006c06" d="M1067.6 532.4L1069.3 533.5L1057.8 378.8L1056 377.8Z"/>
<path d="M1069.3 533.5L1100.2 517.5L1090.6 364L1057.8 378.8Z"/>
<path fill="#006c06" d="M1072.3 535.4L1074 536.6L1061 358.1L1059.2 357.1Z"/>
<path d="M1074 536.6L1104.8 520.5L1094.2 343.4L1061 358.1Z"/>
<path fill="#006c06" d="M1074 536.6L1075.7 537.7L1064.6 383.7L1062.8 382.6Z"/>
<path d="M1075.7 537.7L1106.6 521.6L1097.5 368.7L1064.6 383.7Z"/>
<path fill="#006c06" d="M1078.7 539.6L1080.4 540.8L1067.8 361.6L1066 360.6Z"/>
<path d="M1080.4 540.8L1111.3 524.6L1101 346.8L1067.8 361.6Z"/>
<path fill="#006c06" d="M1080.4 540.8L1082.1 541.9L1071.4 387.6L1069.5 386.5Z"/>
<path d="M1082.1 541.9L1113 525.7L1104.3 372.5L1071.4 387.6Z"/>
<path fill="#006c06" d="M1085.1 543.9L1086.8 545L1074.5 362.8L1072.6 361.7Z"/>
<path d="M1086.8 545L1117.8 528.7L1107.7 347.9L1074.5 362.8Z"/>
<path fill="#006c06" d="M1086.8 545L1088.6 546.2L1078.2 391.6L1076.4 390.5Z"/>
<path d="M1088.6 546.2L1119.5 529.9L1111.1 376.4L1078.2 391.6Z"/>
<path fill="#006c06" d="M1091.6 548.1L1093.4 549.3L1081.2 363.6L1079.3 362.5Z"/>
<path d="M1093.4 549.3L1124.3 532.9L1114.5 348.6L1081.2 363.6Z"/>
<path fill="#006c06" d="M1093.4 549.3L1095.1 550.5L1085.1 395.6L1083.2 394.5Z"/>
<path d="M1095.1 550.5L1126 534L1118 380.3L1085.1 395.6Z"/>
<path fill="#006c06" d="M1098.1 552.5L1099.9 553.6L1088 364.7L1086.1 363.7Z"/>
<path d="M1099.9 553.6L1130.8 537.1L1121.4 349.6L1088 364.7Z"/>
<path fill="#006c06" d="M1099.9 553.6L1101.7 554.8L1092 399.6L1090.1 398.5Z"/>
<path d="M1101.7 554.8L1132.6 538.3L1124.9 384.2L1092 399.6Z"/>
<path fill="#006c06" d="M1104.7 556.8L1106.5 558L1094.9 366.6L1093 365.5Z"/>
<path d="M1106.5 558L1137.5 541.3L1128.3 351.4L1094.9 366.6Z"/>
<path fill="#006c06" d="M1106.5 558L1108.3 559.1L1099 403.8L1097.1 402.7Z"/>
<path d="M1108.3 559.1L1139.2 542.5L1131.9 388.3L1099 403.8Z"/>
<path fill="#006c06" d="M1111.3 561.1L1113.1 562.3L1101.8 367.8L1099.9 366.7Z"/>
<path d="M1113.1 562.3L1144.1 545.6L1135.3 352.5L1101.8 367.8Z"/>
<path fill="#006c06" d="M1113.1 562.3L1114.9 563.5L1106 408L1104.1 406.9Z"/>
<path d="M1114.9 563.5L1145.9 546.7L1139 392.4L1106 408Z"/>
<path fill="#006c06" d="M1118 565.5L1119.8 566.7L1108.8 367.6L1106.8 366.5Z"/>
<path d="M1119.8 566.7L1150.8 549.9L1142.3 352.2L1108.8 367.6Z"/>
<path fill="#006c06" d="M1119.8 566.7L1121.6 567.9L1113.1 412.3L1111.2 411.2Z"/>
<path d="M1121.6 567.9L1152.6 551L1146.1 396.6L1113.1 412.3Z"/>
<path fill="#006c06" d="M1124.7 570L1126.5 571.2L1115.7 366.6L1113.8 365.6Z"/>
<path d="M1126.5 571.2L1157.6 554.2L1149.4 351.2L1115.7 366.6Z"/>
<path fill="#006c06" d="M1126.5 571.2L1128.4 572.4L1120.2 416.6L1118.3 415.5Z"/>
<path d="M1128.4 572.4L1159.4 555.4L1153.3 400.8L1120.2 416.6Z"/>
<path fill="#006c06" d="M1131.5 574.4L1133.3 575.6L1122.7 364.3L1120.7 363.2Z"/>
<path d="M1133.3 575.6L1164.4 558.5L1156.4 348.8L1122.7 364.3Z"/>
<path fill="#006c06" d="M1133.3 575.6L1135.1 576.8L1127.5 422.9L1125.6 421.7Z"/>
<path d="M1135.1 576.8L1166.2 559.7L1160.5 406.9L1127.5 422.9Z"/>
<path fill="#006c06" d="M1138.3 578.9L1140.1 580.1L1129.3 352.5L1127.3 351.4Z"/>
<path d="M1140.1 580.1L1171.2 562.9L1163.3 337L1129.3 352.5Z"/>
<path fill="#006c06" d="M1140.1 580.1L1142 581.3L1134.8 429.1L1132.9 428Z"/>
<path d="M1142 581.3L1173 564.1L1167.8 413L1134.8 429.1Z"/>
<path fill="#006c06" d="M1145.2 583.4L1147 584.6L1135.2 323L1133.2 322Z"/>
<path d="M1147 584.6L1178.1 567.3L1169.7 307.7L1135.2 323Z"/>
<path fill="#006c06" d="M1147 584.6L1148.9 585.9L1142.5 441.9L1140.5 440.8Z"/>
<path d="M1148.9 585.9L1179.9 568.5L1175.4 425.6L1142.5 441.9Z"/>
<path fill="#006c06" d="M1152.1 588L1153.9 589.2L1140.3 267.9L1138.2 266.9Z"/>
<path d="M1153.9 589.2L1185 571.8L1175.5 253.1L1140.3 267.9Z"/>
<path fill="#006c06" d="M1153.9 589.2L1155.8 590.4L1150.6 464.9L1148.6 463.8Z"/>
<path d="M1155.8 590.4L1186.9 573L1183.3 448.4L1150.6 464.9Z"/>
<path fill="#006c06" d="M1159 592.5L1160.9 593.8L1149.7 312.6L1147.7 311.5Z"/>
<path d="M1160.9 593.8L1192 576.2L1184.5 297.3L1149.7 312.6Z"/>
<path fill="#006c06" d="M1160.9 593.8L1162.8 595L1160 524L1158.1 522.8Z"/>
<path d="M1162.8 595L1193.9 577.4L1192 506.9L1160 524Z"/>
<path fill="#006c06" d="M1166 597.1L1167.9 598.4L1160.1 387.5L1158.1 386.3Z"/>
<path d="M1167.9 598.4L1199 580.7L1193.9 371.4L1160.1 387.5Z"/>
<path fill="#006c06" d="M1167.9 598.4L1169.8 599.6L1167.9 546.3L1165.9 545Z"/>
<path d="M1169.8 599.6L1200.9 581.9L1199.7 528.9L1167.9 546.3Z"/>
<path fill="#006c06" d="M1173.1 601.8L1175 603L1168.8 423.2L1166.8 422Z"/>
<path d="M1175 603L1206.1 585.2L1202.3 406.7L1168.8 423.2Z"/>
<path fill="#006c06" d="M1175 603L1176.9 604.3L1175.3 557.9L1173.4 556.6Z"/>
<path d="M1176.9 604.3L1208 586.5L1207.1 540.4L1175.3 557.9Z"/>
<path fill="#006c06" d="M1180.2 606.5L1182.1 607.7L1177 444.4L1174.9 443.3Z"/>
<path d="M1182.1 607.7L1213.2 589.8L1210.2 427.7L1177 444.4Z"/>
<path fill="#006c06" d="M1182.1 607.7L1184 609L1182 542.5L1180 541.3Z"/>
<path d="M1184 609L1215.2 591L1214 525L1182 542.5Z"/>
<path fill="#006c06" d="M1187.3 611.2L1189.3 612.4L1184.9 458.6L1182.8 457.4Z"/>
<path d="M1189.3 612.4L1220.4 594.4L1218 441.7L1184.9 458.6Z"/>
<path fill="#006c06" d="M1189.3 612.4L1191.2 613.7L1189 535.6L1187 534.4Z"/>
<path d="M1191.2 613.7L1222.4 595.6L1221.2 518.1L1189 535.6Z"/>
<path fill="#006c06" d="M1194.5 615.9L1196.5 617.2L1192.7 470.4L1190.6 469.2Z"/>
<path d="M1196.5 617.2L1227.7 599L1225.8 453.3L1192.7 470.4Z"/>
<path fill="#006c06" d="M1196.5 617.2L1198.4 618.5L1196.3 532L1194.3 530.8Z"/>
<path d="M1198.4 618.5L1229.6 600.3L1228.6 514.4L1196.3 532Z"/>
<path fill="#006c06" d="M1201.8 620.7L1203.8 622L1200.5 479.4L1198.4 478.2Z"/>
<path d="M1203.8 622L1234.9 603.7L1233.5 462.1L1200.5 479.4Z"/>
<path fill="#006c06" d="M1203.8 622L1205.7 623.3L1203.7 530L1201.6 528.7Z"/>
<path d="M1205.7 623.3L1236.9 604.9L1236.1 512.3L1203.7 530Z"/>
<path fill="#006c06" d="M1209.1 625.5L1211.1 626.8L1208.3 488.1L1206.2 486.9Z"/>
<path d="M1211.1 626.8L1242.3 608.4L1241.3 470.7L1208.3 488.1Z"/>
<path fill="#006c06" d="M1211.1 626.8L1213.1 628.1L1211.2 530.6L1209.1 529.4Z"/>
<path d="M1213.1 628.1L1244.3 609.6L1243.6 512.8L1211.2 530.6Z"/>
<path fill="#006c06" d="M1216.5 630.4L1218.5 631.7L1216.2 497.3L1214.1 496Z"/>
<path d="M1218.5 631.7L1249.7 613.1L1249.1 479.6L1216.2 497.3Z"/>
<path fill="#006c06" d="M1218.5 631.7L1220.5 633L1218.8 532.6L1216.8 531.4Z"/>
<path d="M1220.5 633L1251.7 614.4L1251.3 514.7L1218.8 532.6Z"/>
<path fill="#006c06" d="M1223.9 635.2L1225.9 636.6L1224.1 507.4L1222 506.2Z"/>
<path d="M1225.9 636.6L1257.1 617.9L1257 489.6L1224.1 507.4Z"/>
<path fill="#006c06" d="M1225.9 636.6L1227.9 637.9L1226.5 534.7L1224.4 533.4Z"/>
<path d="M1227.9 637.9L1259.1 619.1L1259.1 516.6L1226.5 534.7Z"/>
<path fill="#006c06" d="M1231.4 640.2L1233.4 641.5L1232 520.4L1229.9 519.1Z"/>
<path d="M1233.4 641.5L1264.6 622.7L1264.8 502.4L1232 520.4Z"/>
<path fill="#006c06" d="M1233.4 641.5L1235.4 642.8L1234.3 538L1232.2 536.8Z"/>
<path d="M1235.4 642.8L1266.6 623.9L1266.9 519.9L1234.3 538Z"/>
<path fill="#006c06" d="M1238.9 645.1L1240.9 646.5L1240 536.1L1237.9 534.8Z"/>
<path d="M1240.9 646.5L1272.2 627.5L1272.7 517.9L1240 536.1Z"/>
<path fill="#006c06" d="M1240.9 646.5L1243 647.8L1242.2 546.9L1240.1 545.6Z"/>
<path d="M1243 647.8L1274.2 628.8L1274.8 528.6L1242.2 546.9Z"/>
</g>
<line x1="1072.6" y1="535.6" x2="1059.6" y2="358.7" stroke="#012a01" stroke-width="1.6"/>
<g fill="#000" stroke="#000" stroke-width="0.7" stroke-linejoin="round">
<text transform="matrix(1.1822 -0.5872 0.9924 0.6746 990.4 520.4)" font-size="15" text-anchor="middle" y="5">0.2</text>
<text transform="matrix(1.1706 -0.6100 0.9922 0.6749 1040.8 555.5)" font-size="15" text-anchor="middle" y="5">0.0</text>
<text transform="matrix(1.1579 -0.6337 0.9925 0.6745 1094.3 590.7)" font-size="15" text-anchor="middle" y="5">-0.2</text>
<text transform="matrix(1.1432 -0.6599 0.9922 0.6750 1150.8 630.4)" font-size="15" text-anchor="middle" y="5">-0.4</text>
<text transform="matrix(1.0719 0.7530 -0.9698 0.5192 1035.7 593.3)" font-size="16" text-anchor="middle" y="5">Potential (Ewe/ V)</text>
<text transform="matrix(1.1906 0.7739 -0.9354 0.5789 1275.0 651.5)" font-size="15" text-anchor="middle" y="5">5</text>
<text transform="matrix(1.2047 0.7517 -0.9339 0.5812 1325.0 628.0)" font-size="15" text-anchor="middle" y="5">10</text>
<text transform="matrix(1.2178 0.7304 -0.9333 0.5821 1370.0 603.0)" font-size="15" text-anchor="middle" y="5">15</text>
<text transform="matrix(1.2300 0.7097 -0.9342 0.5808 1408.0 575.0)" font-size="15" text-anchor="middle" y="5">20</text>
<text transform="matrix(1.2406 0.6908 -0.9341 0.5809 1446.4 551.5)" font-size="15" text-anchor="middle" y="5">25</text>
<text transform="matrix(1.2513 0.6712 -0.9341 0.5809 1486.4 526.6)" font-size="15" text-anchor="middle" y="5">30</text>
<text transform="matrix(1.2607 0.6535 -0.9344 0.5805 1522.0 503.3)" font-size="15" text-anchor="middle" y="5">35</text>
<text transform="matrix(1.1112 -0.7126 1.0348 0.6076 1423.0 606.5)" font-size="17" text-anchor="middle" y="5.5">Temperature</text>
<text transform="matrix(1.1136 -0.7087 1.0517 0.5778 1485.8 556.3)" font-size="17" text-anchor="middle" y="5.5">0</text>
<text transform="matrix(1.1109 -0.7129 1.0541 0.5734 1505.6 554.5)" font-size="17" text-anchor="middle" y="5.5">C</text>
<text transform="matrix(1.0208 0.5075 -0.1040 0.9946 1536.2 460.7)" font-size="19.5" text-anchor="start" y="14">-3<tspan font-size="16">x</tspan>10<tspan font-size="10.5" dx="1.5" dy="-11.5">-5</tspan></text>
<text transform="matrix(1.0286 0.4915 -0.1039 0.9946 1540.6 417.3)" font-size="19.5" text-anchor="start" y="14">-2<tspan font-size="16">x</tspan>10<tspan font-size="10.5" dx="1.5" dy="-11.5">-5</tspan></text>
<text transform="matrix(1.0365 0.4747 -0.1039 0.9946 1545.1 372.4)" font-size="19.5" text-anchor="start" y="14">-1<tspan font-size="16">x</tspan>10<tspan font-size="10.5" dx="1.5" dy="-11.5">-5</tspan></text>
<text transform="matrix(1.1177 0.4890 -0.1038 0.9946 1549.7 325.9)" font-size="19.5" text-anchor="start" y="14">0</text>
<text transform="matrix(1.1263 0.4690 -0.1037 0.9946 1554.5 277.9)" font-size="19.5" text-anchor="start" y="14">1<tspan font-size="16">x</tspan>10<tspan font-size="10.5" dx="1.5" dy="-11.5">-5</tspan></text>
<text transform="matrix(1.1348 0.4478 -0.1036 0.9946 1559.5 228.2)" font-size="19.5" text-anchor="start" y="14">2<tspan font-size="16">x</tspan>10<tspan font-size="10.5" dx="1.5" dy="-11.5">-5</tspan></text>
<text transform="matrix(1.1434 0.4256 -0.1036 0.9946 1564.6 176.7)" font-size="19.5" text-anchor="start" y="14">3<tspan font-size="16">x</tspan>10<tspan font-size="10.5" dx="1.5" dy="-11.5">-5</tspan></text>
<text transform="matrix(0.1726 -1.2885 1.0998 0.4800 1627.5 357.5)" font-size="17" text-anchor="middle" y="5">Current (I/ A)</text>
</g>
<text transform="translate(964,89.2) scale(0.885,1.04)" font-size="40" stroke="#000" stroke-width="0.6" style="font-family:'DejaVu Sans',sans-serif">(b)</text>
</svg></body></html>
